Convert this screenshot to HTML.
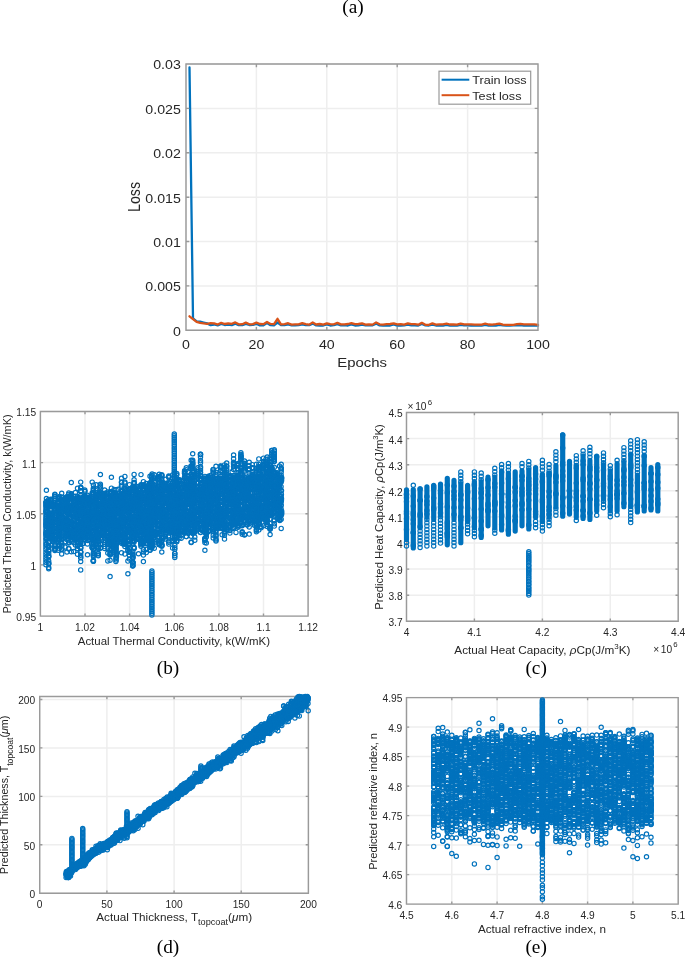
<!DOCTYPE html>
<html><head><meta charset="utf-8"><title>figure</title><style>
html,body{margin:0;padding:0;background:#fff;width:685px;height:958px;overflow:hidden}
svg{display:block;filter:blur(0.4px)}
text{font-family:"Liberation Sans",sans-serif;fill:#262626}
.cap{font-family:"Liberation Serif",serif;fill:#000}
</style></head><body>
<svg width="685" height="958" viewBox="0 0 685 958">
<defs>
<marker id="m" markerUnits="userSpaceOnUse" markerWidth="8" markerHeight="8" refX="4" refY="4" overflow="visible"><circle cx="4" cy="4" r="2.15" fill="none" stroke="#0072bd" stroke-width="1.15"/></marker>
</defs>

<text class="cap" transform="translate(353 13.2)" text-anchor="middle" font-size="19.3">(a)</text>
<path d="M186 64V330.3M256.4 64V330.3M326.8 64V330.3M397.2 64V330.3M467.6 64V330.3M538 64V330.3M186 330.3H538M186 285.9H538M186 241.5H538M186 197.2H538M186 152.8H538M186 108.4H538M186 64H538" stroke="#eeeeee" stroke-width="1.5" fill="none"/>
<path d="M189.5 67.4 193 318.4 196.6 321.4 200.1 321.6 203.6 322.5 207.1 323.4 210.6 325.1 214.2 324.5 217.7 325.3 221.2 324 224.7 325 228.2 324.6 231.8 325.2 235.3 323.6 238.8 325.2 242.3 325.1 245.8 323.8 249.4 325 252.9 324.9 256.4 323.8 259.9 325.4 263.4 325.4 267 323.1 270.5 325.2 274 325.4 277.5 322.5 281 325.2 284.6 325.1 288.1 324.4 291.6 325.3 295.1 325.3 298.6 325.1 302.2 324.4 305.7 325.1 309.2 325.1 312.7 323.6 316.2 325.4 319.8 325.5 323.3 325.5 326.8 324.5 330.3 325.5 333.8 325.2 337.4 324.1 340.9 325.3 344.4 325.2 347.9 325.5 351.4 324.4 355 325.5 358.5 325.3 362 324.6 365.5 325.4 369 325.4 372.6 325.3 376.1 323.6 379.6 325.4 383.1 325.6 386.6 325.6 390.2 325.5 393.7 324.5 397.2 325.6 400.7 325.5 404.2 325.4 407.8 324.6 411.3 325.4 414.8 325.3 418.3 325.5 421.8 324 425.4 325.4 428.9 325.5 432.4 324.6 435.9 325.5 439.4 325.6 443 325.7 446.5 324.8 450 325.7 453.5 325.6 457 325.6 460.6 324.8 464.1 325.4 467.6 325.3 471.1 325.7 474.6 325.3 478.2 325.5 481.7 325.6 485.2 324.9 488.7 325.6 492.2 325.4 495.8 325.5 499.3 324.8 502.8 325.4 506.3 325.7 509.8 325.6 513.4 325.3 516.9 325.3 520.4 325 523.9 325.6 527.4 325.6 531 325.7 534.5 325.5 538 325.6" fill="none" stroke="#0072bd" stroke-width="2.3" stroke-linejoin="round" stroke-linecap="round"/>
<path d="M189.5 316.3 193 319.2 196.6 321.9 200.1 322.9 203.6 323.4 207.1 323.8 210.6 323.1 214.2 323.3 217.7 324.5 221.2 322.8 224.7 324 228.2 323.4 231.8 323.8 235.3 322.4 238.8 324.3 242.3 324.2 245.8 322.6 249.4 324.3 252.9 324.1 256.4 322.6 259.9 324 263.4 324.2 267 321.9 270.5 323.9 274 324.2 277.5 318.8 281 324.3 284.6 324.1 288.1 323.2 291.6 324.6 295.1 324.3 298.6 324.4 302.2 323.2 305.7 324.2 309.2 324.6 312.7 322.4 316.2 324.5 319.8 324 323.3 324.6 326.8 323.3 330.3 324.1 333.8 324.3 337.4 322.9 340.9 324.4 344.4 324.3 347.9 324 351.4 323.2 355 324.2 358.5 324 362 323.4 365.5 324.7 369 324.3 372.6 324.6 376.1 322.4 379.6 324.3 383.1 324.6 386.6 324.1 390.2 324 393.7 323.3 397.2 324.3 400.7 324.1 404.2 324.6 407.8 323.4 411.3 324.2 414.8 324.2 418.3 324.7 421.8 322.8 425.4 324.8 428.9 324.8 432.4 323.4 435.9 324.6 439.4 324.4 443 324.4 446.5 323.6 450 324.5 453.5 324.3 457 324.6 460.6 323.6 464.1 324.4 467.6 324.3 471.1 324.3 474.6 324.7 478.2 324.6 481.7 324.6 485.2 323.7 488.7 324.5 492.2 324.6 495.8 324.2 499.3 323.6 502.8 324.7 506.3 324.8 509.8 324.8 513.4 324.9 516.9 324.2 520.4 323.8 523.9 324.4 527.4 324.3 531 324.4 534.5 324.3 538 324.9" fill="none" stroke="#d95319" stroke-width="2.3" stroke-linejoin="round" stroke-linecap="round"/>
<path d="M186 64H538V330.3H186ZM186 330.3v-3.3M186 64v3.3M256.4 330.3v-3.3M256.4 64v3.3M326.8 330.3v-3.3M326.8 64v3.3M397.2 330.3v-3.3M397.2 64v3.3M467.6 330.3v-3.3M467.6 64v3.3M538 330.3v-3.3M538 64v3.3M186 330.3h3.3M538 330.3h-3.3M186 285.9h3.3M538 285.9h-3.3M186 241.5h3.3M538 241.5h-3.3M186 197.2h3.3M538 197.2h-3.3M186 152.8h3.3M538 152.8h-3.3M186 108.4h3.3M538 108.4h-3.3M186 64h3.3M538 64h-3.3" stroke="#9a9a9a" stroke-width="1.4" fill="none"/>
<text transform="translate(186 348.9) scale(1.155 1)" text-anchor="middle" font-size="12.3">0</text>
<text transform="translate(256.4 348.9) scale(1.155 1)" text-anchor="middle" font-size="12.3">20</text>
<text transform="translate(326.8 348.9) scale(1.155 1)" text-anchor="middle" font-size="12.3">40</text>
<text transform="translate(397.2 348.9) scale(1.155 1)" text-anchor="middle" font-size="12.3">60</text>
<text transform="translate(467.6 348.9) scale(1.155 1)" text-anchor="middle" font-size="12.3">80</text>
<text transform="translate(538 348.9) scale(1.155 1)" text-anchor="middle" font-size="12.3">100</text>
<text transform="translate(180.8 335.7) scale(1.155 1)" text-anchor="end" font-size="12.3">0</text>
<text transform="translate(180.8 291.3) scale(1.155 1)" text-anchor="end" font-size="12.3">0.005</text>
<text transform="translate(180.8 246.9) scale(1.155 1)" text-anchor="end" font-size="12.3">0.01</text>
<text transform="translate(180.8 202.6) scale(1.155 1)" text-anchor="end" font-size="12.3">0.015</text>
<text transform="translate(180.8 158.2) scale(1.155 1)" text-anchor="end" font-size="12.3">0.02</text>
<text transform="translate(180.8 113.8) scale(1.155 1)" text-anchor="end" font-size="12.3">0.025</text>
<text transform="translate(180.8 69.4) scale(1.155 1)" text-anchor="end" font-size="12.3">0.03</text>
<text transform="translate(362.1 366.9) scale(1.130 1)" text-anchor="middle" font-size="13.2">Epochs</text>
<text transform="translate(139.7 197) scale(1.100 1) rotate(-90)" text-anchor="middle" font-size="14.2">Loss</text>
<rect x="439" y="71.2" width="91.7" height="33" fill="#fff" stroke="#9a9a9a" stroke-width="1.2"/>
<path d="M441.6 79.7H469.3" stroke="#0072bd" stroke-width="2"/>
<path d="M441.6 95.2H469.3" stroke="#d95319" stroke-width="2"/>
<text transform="translate(472.3 84.3) scale(1.110 1)" font-size="11.4">Train loss</text>
<text transform="translate(472.3 99.9) scale(1.110 1)" font-size="11.4">Test loss</text>
<path d="M40.4 411.5V616.1M85 411.5V616.1M129.6 411.5V616.1M174.3 411.5V616.1M218.9 411.5V616.1M263.5 411.5V616.1M308.1 411.5V616.1M40.4 616.1H308.1M40.4 564.9H308.1M40.4 513.8H308.1M40.4 462.6H308.1M40.4 411.5H308.1" stroke="#eeeeee" stroke-width="1.5" fill="none"/>
<path d="M40.4 411.5H308.1V616.1H40.4ZM40.4 616.1v-2.7M40.4 411.5v2.7M85 616.1v-2.7M85 411.5v2.7M129.6 616.1v-2.7M129.6 411.5v2.7M174.3 616.1v-2.7M174.3 411.5v2.7M218.9 616.1v-2.7M218.9 411.5v2.7M263.5 616.1v-2.7M263.5 411.5v2.7M308.1 616.1v-2.7M308.1 411.5v2.7M40.4 616.1h2.7M308.1 616.1h-2.7M40.4 564.9h2.7M308.1 564.9h-2.7M40.4 513.8h2.7M308.1 513.8h-2.7M40.4 462.6h2.7M308.1 462.6h-2.7M40.4 411.5h2.7M308.1 411.5h-2.7" stroke="#9a9a9a" stroke-width="1.4" fill="none"/>
<path d="M73.3 513.1 115.5 528.8 96.3 497.1 181.1 494.3 244.3 485 150 542.9 65.7 497.7 269.9 486.8 165.4 505.8 220.7 511.8 111.2 530 237.9 503.6 194.8 532.1 103.2 524.7 267.2 464.5 64.8 502.8 233.9 492.4 265.7 492.6 259.2 515 68.7 522.4 188.2 500.5 184.6 482.6 151.7 515.9 244 492.2 168.8 483 115.7 520.8 263.8 493.8 165.3 514.3 89.6 497.3 148.1 495.6 111.3 499.7 75.7 528.3 184.6 496 80.5 526.2 83.1 503.4 98.2 526.6 132.8 540.4 141 484.8 163.1 523.9 222.3 491.7 149.4 497.9 84.5 539.6 46.4 539.4 128.1 506.5 71.3 533.8 186.2 503.5 224.4 515.5 80.2 519.7 125 507.1 258.9 498.5 222.4 518 162 529.3 113.8 528.1 129 513.6 151.6 510.2 92.3 527.2 92.1 498.9 157.3 532.4 148.3 518.5 102.5 515.9 161.8 475.4 175 499 136 518.3 247.4 500.1 48.9 529.4 242.2 525.8 244.5 483.3 240.8 512.4 192.7 483.7 48.7 546.5 179.4 519.6 48.5 520 186.3 519.9 104.4 494.1 200.5 479 102.8 533.2 121.3 531.7 73.5 535.3 48.4 514.2 200.5 480.3 185 485.5 80.7 548.3 162.9 520.6 141.1 523.7 192.7 491.8 179.2 491.3 73.4 530.1 238 527.2 232.1 498.2 45.9 507.1 84.7 527.7 152 545 93.4 556.2 100.7 528.7 184.5 510.2 105.2 520.4 201.6 508.1 169 492.5 226.8 489.5 103 521.8 271.7 470.2 206.2 482 87.3 520.1 102.8 533.4 69.1 497.7 122.7 512.5 143.4 485 175 505.6 200.2 503.3 195.2 499.2 68.7 512.7 184.6 504.6 135.8 523.8 98.3 553.4 270 497.4 208.1 512.5 68.5 533.1 154.3 507.3 172.6 503.7 247.2 498.3 181.4 494.8 98.5 535.8 51.2 537.7 133 506.6 52.2 516.7 51.5 533.8 206.1 492.5 165.6 529.5 201.8 490.4 274.6 494.7 107.6 517 249.2 517.4 217.9 493.9 242.2 484.3 62 501.8 80.4 532.3 270.3 481.8 134.1 547.3 270.2 512.8 127.8 510.8 89.9 500.6 194.2 500.4 68.9 524.1 187.8 512.4 213.3 518.7 206.3 530.8 245 504.9 87.4 515.2 82.8 536.7 174.3 451.6 143.4 551.9 61.6 539.6 75.8 515.8 252.6 509.3 210.4 486.4 258.7 514 216.3 488.3 107.9 528.9 224.3 501.6 48.7 547.6 61.7 527 138.5 486.9 184.5 531.4 277.3 488.3 92.4 512.2 186.2 496.2 233.6 500.8 261.4 488.9 157.4 517.8 104.9 537 93.3 522.8 208.1 512.5 215.6 527.4 226.7 468.8 111.3 532.5 242.2 479.2 48.7 519 129.6 519.3 152 497.4 174.3 470.9 242.3 517.9 124.9 483 241.3 516.4 204.8 498.1 121.5 539.1 229.6 477.9 122.7 508.6 84.4 502.5 107.8 544.3 146.1 519.1 165.5 517.6 93.4 561.3 168.9 494.9 127.8 512.9 146.1 536.6 100.5 512.3 217.3 498.5 236.2 501.9 59.3 524.1 163.6 527 151.9 576.3 224.5 475.7 216.2 479.6 151.7 511.7 98.3 546.7 266.6 485.9 129.5 508.3 252.3 476.4 252.5 515.7 111.7 507.3 192.7 512.7 133.1 536.2 208.3 482.4 247.2 500.3 172.7 513.8 87.5 522.9 162 527.9 169.3 530.5 45.9 564.7 181.2 520.2 201.8 517.7 114.3 526.3 165.4 530.7 140.8 492.1 146.5 533.5 256.7 508.8 226.9 488.8 150.2 496.6 123.4 492.8 103 526.7 85 516.6 277 477.6 159.2 544.6 132.8 502.6 195.4 523.6 274.2 494.6 267.1 484.7 261.1 468.5 136.1 523.7 201.2 490.8 124.8 511 128 505.3 194.9 495.4 267.3 489.9 100.3 537.9 148.2 491.6 54.6 496.3 191.3 509.9 114.3 518.6 114.4 506.2 256.3 519.9 247.3 483.2 58.3 505.7 180.9 504.6 133.8 526.5 162 508.8 127.7 512.1 132.8 562.6 220.7 470.4 152 522.3 154.1 533 201.4 518.4 193.1 491.9 111 523.4 174.8 539.8 89.3 535.6 208 522.3 51.2 525.1 205 519.5 132.8 562.2 93.4 492.7 110.1 554.5 266.8 501.7 216.1 520.7 201.6 524.3 100.1 519.8 186.4 485.7 169.1 496.4 115.9 561.4 118.5 506 247.1 497.1 218.1 490.8 136 535.1 124.7 503.7 277.3 506.7 58.4 505.9 69.3 536 151.9 600.9 154.6 490.1 184.2 503 180.9 520.5 134.2 500.4 84.6 515.8 159.5 493.2 269.9 484 174.3 458.6 258.8 464.4 174.3 448.1 58.9 536.1 102.9 504.4 80.6 533.6 138.4 507.6 146.4 525.9 266 511.3 107.7 505.5 73.6 527.6 155.1 487.6 68.8 540.6 186.4 485.6 93.5 541.3 256.8 487.4 45.9 523.6 73.7 531 194.6 512.8 179 498.5 281.2 505 258.7 479.2 208.1 495.5 143.8 489.3 135.5 509.7 232.5 492.6 141.4 499.3 186.3 530.3 121.2 517.8 271.4 474 87.8 522.4 181 508.2 68.5 521.1 204.9 509.1 259 486 110.1 544.2 77 516.6 161.9 521 265.9 495.4 266 522.5 92.2 547.6 217.2 522 114.6 534.2 157.7 486 159.5 486.4 191.2 536.2 201.7 492.4 113.8 534 271.6 489.4 185 524.2 197.9 502.9 121.5 522.6 259.1 497.6 175 502.5 75.4 502.6 208.5 504.2 229.9 527.3 143.4 500.4 216.2 485.2 229.7 503.1 236.4 498.3 244.7 516.1 229.4 480.2 81.3 514.1 184.6 503.6 229.8 503.5 151.7 486.1 121.4 504.7 163 493.5 151.9 599.2 146.3 520.7 51.2 527.7 111 501.5 67.1 520.5 61.9 523.8 206.4 487 163.5 496 136 536.1 179 505.4 195 521.2 181.8 519.3 240.8 518 184.4 495 194.6 517.3 177.1 525.7 151.9 604.4 61.6 508 110.5 507.3 187.9 516.8 256.3 517.5 186.7 493 191 516.1 113.9 492.6 129.5 514.4 266 469.2 111.3 492.7 247.1 485 230 489 170.7 481.8 59.7 507.4 117.6 500.1 151.6 517.3 224.3 528.4 184.8 521 200.1 487.8 70.8 527.4 138.2 501 229.5 491.4 204.8 522.5 151.8 510.8 158 525.7 111.1 522.9 266.9 482.7 67.5 533.6 235.9 488 92.2 492.8 238.3 478.5 85.2 532 96.4 525.4 64.9 520.7 162 495.7 140.5 502.5 141 485.1 263.5 464.1 123.1 539.9 138.4 496.7 48.7 551.1 151.7 504.1 198 514.6 254 520.9 194.8 540.2 71.3 551.8 204.7 483.9 244.5 485.1 146.3 540.5 208.3 484.9 249.4 477.9 267.2 464.4 117.6 521 204.7 501.7 227.6 499.1 93.5 537.1 212.8 497 73.7 551.6 107.4 533.2 174.7 515.8 148 516.3 254.8 478.4 208.4 510.8 68.8 514.9 261.5 493.7 258.5 495.1 45.9 535.8 204.7 517.3 226.2 520 191 523 259.1 518.8 136 528.1 61 517 134 519.3 204.9 542.5 159.2 541.3 89.4 512.1 149.7 500.1 274.3 454 184.4 503.7 151.9 593.9 111.3 512 100.4 529.6 96.3 496.7 117.7 527.1 271.7 469.2 67.1 500.2 191.2 503.9 152.2 504.9 281.2 472 206 528.5 266.1 513.5 181.3 517.3 271.7 468.8 205.9 523.8 274.1 480.3 174.7 506.9 157.8 490.8 271.7 458.8 93.5 543.1 124.6 495.8 89.3 522.7 84.8 526.1 256.3 513.4 89.5 530.2 271.9 515.3 235.5 517.4 99.9 528.5 197.1 486.5 52.4 533.9 154 497.6 279.5 501.2 58.7 523.9 277.2 496.7 118.4 528.7 216.1 494.5 73.8 501.9 237.9 513.1 217.7 522.1 177.4 532.2 134.1 542.1 174.8 536.3 129.9 531.9 107.7 503 96.1 530.1 216.3 479.5 231.9 518.9 231.8 493.9 104.6 521.3 204.8 525.5 107.6 529.1 135.8 510 201.7 517.8 161.8 552 138.5 506 179 526.2 244.4 519.1 85 536.5 77.9 498.7 222.1 478.6 129.3 490 150.1 490.4 48.7 541.8 110.9 537.2 141.3 519.5 121.4 491 178.8 523 233.5 483.9 124.9 488.4 279.5 488 241.1 505.3 154.6 521.2 205.1 482 252.3 468.3 135.7 495.3 121.4 536.9 154.7 510.7 172.1 495.2 270.1 512.3 121.8 511.2 177.1 506.4 190.8 493.6 213.3 503.5 213.1 530 236 516.5 188 496.2 171 494.7 148 524.9 208.5 520 279.6 519.3 52.4 520.6 172.4 530.8 271.7 473.4 73.9 519.2 165.4 503.6 80.7 490.9 141.1 524.2 181.3 515.4 230.1 508.1 73.5 507.3 181.1 511.6 116.4 557.2 204.8 502.8 270.4 493.3 210.2 502 163.3 515 152.3 517.8 55.3 498.6 174.8 473.2 230.4 525 159.2 495.6 84.9 515 200.6 515.6 281.1 490.2 186.2 510.9 118.1 531.4 252.4 496.4 59.2 505.1 150.2 529.1 152.1 488.8 134.1 540.8 244.5 461 192.8 531 148.2 535.3 68.9 522.1 229.5 514.7 194.6 506.9 114 529.2 154.5 500.3 59.5 513.7 165.6 500 150.1 510.2 116.1 495.1 261.1 526.5 233.6 515.6 154.4 534.1 220.8 495 132.4 532.5 84.5 498.7 77.2 516.1 61.6 517.2 248.8 496.7 157.9 515.2 151.9 590.4 229.9 510.8 237.7 484.4 77.8 508.3 114 540.6 154.5 508.5 260.9 493.9 224.5 533.2 46.4 544.2 132.9 490.8 252.4 493.5 127.9 561.1 107.8 494.1 80.7 532.6 181 524.9 52.1 535.8 184.4 520.7 163.2 509.6 154.2 501 132.8 551.9 256.8 520.6 58.2 501.4 270.2 503.4 255 517.2 261.2 486.7 48.3 532.4 256.4 513.6 116.3 509 168.7 527.7 158 493.4 132.4 506.2 80.7 532.5 116.6 512.3 71.7 536.9 66.5 512 59.8 515.6 242.1 484.7 235.8 524.8 52.6 504.6 258.8 469.8 54.6 503.1 260.7 499 205 522.8 216 535.2 191.3 520.8 107.6 509.6 151.9 523.6 124.9 500.5 215.9 480.8 146.3 514.8 261.1 466.8 174.3 476.2 244.1 481.3 52.4 505.4 230.2 491 267.1 503.5 110.4 492.8 170.9 525.8 256.9 515.8 236.3 486 148.5 497.4 98.3 555.7 143.5 526.6 68.8 542.9 274.6 486.6 73.8 536.2 145.7 519.7 261.2 508.8 261 477.8 242.2 534.3 274.5 503.8 233.5 511.3 181.2 503.7 168.9 496.9 204.9 538.3 116.5 536.2 206.3 532.4 174.7 517 138.6 518.3 277.4 486 93.4 553.7 170.7 497.1 231.6 521.7 77.2 521.6 154.3 491.6 100.3 503.4 213.5 504.3 263.5 464.4 274.7 501.8 210.6 524.4 69 496.5 45.9 544.5 74.9 516.2 181.4 516.6 247.6 503.8 54.9 494.2 224.2 520.5 82.5 515.8 274.2 503.5 192.7 470.1 152 495.1 176.8 512.6 121.3 534.3 256.4 527 50.9 533.3 149.6 533.8 108.1 524.7 59.2 535.3 150.6 522.7 59.3 544.7 266.1 520.2 114.2 493.6 271.7 453.2 157.8 520.7 224.5 477.7 235.7 494.5 218 519.2 240.9 459.5 92.2 482.1 75 535.4 134.3 523.7 240.7 482.8 192.9 503.3 58.6 509.9 77.5 532.7 152.3 511.8 124.9 489.4 241.1 487.6 114.1 489.4 151.9 609.7 206.3 534.5 151.9 543.5 98.4 541.5 134.1 537.8 146.3 508.3 150.5 495.8 173 494.1 121.6 513.4 254.1 502.8 233.6 518.1 149.9 494.2 244.3 515.8 107.8 553.1 110.5 521.8 279.1 500.1 265.6 487.9 213 497.4 165.4 479.2 115.4 509.8 148.4 512.3 134.5 511.2 159.7 515.8 114.2 535.8 67.1 536.6 267.2 526.6 230 477.1 201.1 519.8 80.7 495.2 168.8 508 185.9 502.1 247.2 503.5 132.4 494.1 264 491 115.9 527.8 123 494.5 70.9 528.8 252.5 511.1 151.9 597.4 274.8 488.4 104.7 529 232.1 499.4 227 518.2 221 484.3 148.3 507.5 241.1 500.2 149.9 496.5 261.1 512.3 232.1 503.6 224.4 491 208.7 497.3 205.8 489 89.6 500.1 208.2 498.9 102.8 524.1 252.5 485.6 251.9 504 122 494 115.9 528.9 121.3 498.5 61.4 523.3 114.1 492.6 174.8 547.7 281.5 514.8 100.6 492.2 151.9 574.5 116 547.4 161.8 537.6 267.2 468.5 220.4 523.4 175.2 528.9 220.7 476.4 244.3 509.1 48.8 505.5 148.4 523.1 266.9 505.4 220.6 487.2 143.3 492.6 58.3 498.6 71.6 496.6 54.7 534.4 233.1 522.1 267.1 498.6 176.4 485.7 80.3 526.5 165.6 494.4 208.4 480.9 120.7 503.2 249.2 468.8 59.4 522.5 73.7 504.6 51 523.6 114.3 522.8 96.5 533 274.3 473.7 242.1 497.3 204.9 507.2 114.1 517.8 229.9 511.5 213.7 487.8 165.5 487 123 510.5 244.3 507.6 194.8 510.2 226.6 479.7 121.7 530.2 104.4 511.6 175 530.2 84.8 491.1 170.7 500.9 68.7 498.9 121.5 552.8 232.2 476.9 236.2 483.6 256.4 491.1 113.8 532 229.7 492.6 179.1 534.2 45.9 525.8 277.1 501.1 170.8 516.5 128.2 536.7 201.7 530.2 87.5 527.2 111.1 492.9 184.6 507.9 154.6 509.3 98.6 534.6 85.3 536.1 186.7 514.7 113.8 546 192.7 463.4 256.2 511.6 133.7 500.9 146.3 535.2 194.8 512 73.5 515.9 244.5 465.5 208.4 517.8 266.8 487.7 270.4 514 141 499.3 188.2 504.2 114.1 542.7 54.5 519 134 502.3 48.7 542 233.4 499.5 201.8 499.9 263.3 489.4 163.2 496.9 68.8 548.9 125.3 539.1 170.7 487.5 152.2 505.1 121.4 537.7 87.8 537.7 104.6 510.9 111.4 509.6 104.5 495.9 157.8 500 82.4 525.9 224.4 484.9 80.8 534.9 172.8 516.3 150.3 501.6 163.8 501.7 168.8 535.8 270.1 470.6 93.4 555.3 129.5 555.2 226.7 475.9 208.4 500.5 281.1 477.3 48.8 505 143.8 526.5 146.4 530.3 102.6 499.7 92.3 510 184.8 499 244.4 486.5 93.4 546.3 162 504.4 58.3 542.1 46.4 498.5 233.8 498.3 192.8 520.6 151.4 496.9 165.4 493 210.7 511.3 143.6 528.3 105 505 188.1 476.8 271.9 480.2 80.6 524.1 87.3 536.7 279.4 507.7 197.9 519.4 186.3 467.7 146.4 498.8 104.7 542.3 247 489.2 241.9 512.1 162 494.9 226.4 529.5 249.2 527 136.3 495.6 146.4 532.5 226.4 479.7 186.6 525.8 215.8 493.7 122.9 534 186.8 487.9 114.1 541.9 113.9 518.8 238 526.8 270.1 459.1 138.5 539.5 143.5 506.7 121.3 503.8 224.5 494.8 274.2 506.3 192.7 464.6 140.9 492.4 279.5 481.7 134.5 532.8 138.7 521.2 116 509.8 93.4 550 132.6 520 143.4 503.1 118 531.1 230.2 497.9 213.3 490.7 58.3 502.8 116.3 528.7 107.4 531.1 163.3 513.7 179.4 501.4 100.4 487.1 165.8 501 121.5 507.8 95.8 513.2 138.3 498.5 235.8 504.3 222.3 509.4 75.4 508.4 179.1 483.8 121.2 508.9 233.9 483.6 252.5 505 213.2 469.4 132.8 488.6 84.2 514 242 483.7 277.1 509.3 240.5 478.1 222.3 489 235.8 495.2 114.2 523.9 174.3 453.3 238 463.5 200.5 505.2 218.3 513 121.5 525.9 244.7 489.2 50.9 536.7 61.7 518.1 61.9 519.8 170.9 498.1 121.5 500 162.2 497.8 89.4 536 213.2 473.7 237.7 477.8 148.4 515.8 218 489.1 236 478.7 184.9 505.5 183.9 513 66.7 530.7 274.3 467.2 191.2 466.3 210.5 489.6 132.8 499 73.7 508.8 223.9 508 66.6 526.9 150 476.3 236 477.8 204.6 483.9 151.8 483.5 241.5 492 157.8 507.9 186.9 500.2 244.7 490.4 281 501.3 204.9 539.7 186.4 487 92.2 542.8 52.5 531.7 223.9 512.8 168.9 520.5 224.6 498.1 143.6 515.2 197.9 508.8 152.3 513.3 227.1 517 48.4 518.9 148.2 490 274.1 481.4 110.1 552.3 77.6 509.2 242.3 515.6 118.1 497 267.2 474.2 107.9 537.4 192.6 519.2 132.5 534.5 100.2 506.9 67 535.4 114.4 503.3 146.3 534.7 105 535.8 210.6 515.9 45.9 510.4 204.7 515.9 58.5 522.8 226.4 488.9 87.6 528.9 187.8 492.3 159.2 476.4 177 500.8 65.1 527.8 224.6 522 134.2 510.8 259 480.6 59.3 540.5 82.8 527.1 150.5 499 206.3 513.4 247.7 523.3 62.1 522.4 146.2 514.9 96.7 514 279.5 485.6 134 537.8 186.3 510.4 65.2 499.2 206.3 490.3 102.8 524.3 151.9 602.7 195 490.7 192.7 475.2 217.8 492.9 249.4 482.1 149.7 503.4 132.8 503.6 281.1 486.6 235.8 503.8 201.6 530 188.2 484.7 172.7 505.3 100.4 503.9 52.8 525.4 218 506.3 48.7 499.5 134 508.5 48.7 550.7 46.7 501.1 161.6 539.9 244.5 466.7 61.7 549 132.6 525.5 174.8 549.3 51.4 514.9 233.6 469.4 168.9 504.5 216.2 500 148.1 530.9 232.1 498.3 110 498.7 172.4 520.4 138.4 493 96.1 490.6 242 511.4 263.9 496.5 141 485.6 161.9 513.4 141 486.7 98.3 521 232.2 493.8 216.2 497.8 96.4 517.7 184.4 513.6 92 515.2 121.7 514.3 150.3 501.4 127.9 549.6 59 516.2 104.7 495.4 175.1 519.9 151.2 513.9 229.7 499.3 191.2 542.6 88.7 497.5 217.9 484.5 261.1 517.9 192.7 476.2 73.7 542.8 175.1 526.5 213.5 517.5 184.7 503.8 48.7 546.3 274.3 456.2 177 492.6 237.7 521 201.2 517.8 233.8 479.1 258.8 513.9 197.8 476.1 208.5 518.6 82.4 537.7 157.9 529.3 226.7 484.3 221.8 521.1 233.7 511.5 266 477.5 132.8 555.6 191.2 479.7 200.2 516.6 103 535.6 194.9 498.4 191 517.1 197.5 523.1 267.2 499.7 87.7 508.1 184.6 473.1 176.4 516.7 84.9 527.8 186.3 479.9 123.1 542.5 181.2 511.4 51 522.1 233.6 487.2 148 494 58.6 506.9 197.9 510.6 70.6 536.3 242.2 486.8 230.4 494 125.1 503.6 161.9 525.3 77.5 548.7 170.7 525.6 168.6 524.7 121.5 541.7 132.8 526.8 174.3 465.7 242.2 477.6 179.4 516.2 192.7 533.6 96.1 519.7 232.5 509.9 100.1 494.2 59.2 535 254.1 486 188.4 497.6 98.2 516.9 100.4 543.8 84.6 508.5 59.9 507.6 141.2 504.9 98 531.7 181.7 506.6 75.4 492.5 233.9 515 149.9 493.2 274.3 453.1 279.3 485.7 143.4 509.1 68.7 531.1 107.8 560.9 192.5 487.7 170.3 489.9 100.6 500 103.4 535.6 154.3 535.3 269.9 484.2 172.5 488.7 210.4 511.6 222.3 518.4 104.8 513.6 152.1 507.7 132.6 519.9 161.8 544 149.8 518 48.6 501 124.9 541.6 146.3 491.1 231.9 494.8 247 499.4 252.3 476.7 68.7 536 277.2 490.3 51.2 515.4 152.2 492.1 206.6 482.6 222 489.6 206 517.1 279.6 507.3 233.3 514.2 193 484.3 179.1 535.4 194.9 518.7 186.2 514.5 210.7 502.5 98.3 502.6 226.7 466.1 51.3 509.8 48.2 505.6 204.9 531.8 59.2 497.3 191.2 528.8 229.9 475.6 192.5 495 265.9 497 258.4 503.6 51 521.8 141 541 270.1 473.2 146.3 531.1 116.2 508.4 222.1 516.7 143.6 530.5 222.2 501 177.1 530.2 114.1 554.1 96.1 492.7 249 481.5 184.6 478.8 129.6 516.4 271.7 468.1 110 539.9 84.8 491.5 99.9 491.9 98.3 544 45.9 562.3 98.4 525.8 215.8 489.7 151.9 592.1 157.6 521.4 240.9 501.1 77.7 523.9 149.9 525.1 121.3 491.2 127.9 529.4 152.3 535.9 114.1 550.8 258.7 512.4 204.4 498.5 233.5 492 163.4 531.2 100 494.6 233 481.7 224.7 484.3 206.5 493.8 159.3 525.8 263.8 512.7 96 498 266.9 500.1 179 508.8 132.8 532.7 124.8 494.3 233.1 523.4 266 476.2 68.8 494.2 197.7 525.9 191.2 503.6 208.1 478.5 102.7 511.2 113.6 521.1 233.6 512.6 201.2 504.2 92.3 515.4 168.5 525.8 129.2 513.1 244.3 479.6 128.2 523.4 149.6 496.2 138.8 512.2 256.2 516.4 213 494.1 191.1 504.4 125.3 497.5 100.5 519.7 168.5 489.9 190.8 495.8 123.2 504.1 59.5 511.6 113.8 540 102.7 514.6 188.2 496 157.4 491.3 233.3 493.5 138.4 517.5 220.7 509.3 242.1 510 206.5 502.1 224.4 499.5 249.5 505.3 52.6 515.5 244.3 482.7 157.7 534 84.7 534.3 220.6 512.6 161.8 488.7 188.4 501.7 55 510.7 107.8 544.2 258.8 474.1 244.1 511.3 200.5 532.5 104.7 510.1 161.9 529.8 263.5 465.3 170.5 526.7 75.2 503.8 201.8 508.2 48.7 555.8 188.1 471.7 256.8 507.1 174.8 533.6 55.1 508.7 165.5 483.6 270.6 481.5 205 497.2 247.7 488 87.8 540.4 221 494.5 121.2 494.5 200.5 460.7 48.4 519.4 266.2 481.3 281.6 480.4 281 502 45.9 539 107.4 527.6 150 542.5 151.8 537.2 259.1 501.4 224.5 532 224.5 469.6 98.2 514.2 73.7 519.1 213.1 527 80.7 533.1 236.3 482.7 159.2 513.7 142.9 521.8 129.7 529.3 161.8 482.3 89 507.1 117.8 497.1 78.1 498.8 132.6 536.7 143.6 521.8 174.4 525.5 200.5 529.3 132.6 502.1 45.9 554.7 141 474.6 154.3 477.9 105 509.2 215.9 518.6 172.6 496.7 116.2 522.3 66.2 526.3 267 519.8 188.2 518.7 92.2 546.7 222.1 528.5 127.7 509.8 194.8 526.4 80.8 522.1 68.5 521.9 217.9 526.5 59.2 500.1 277.3 488.7 193.1 493.3 59.7 513.5 103 502.9 73.7 522.9 111.5 537.3 157.7 525.5 89.5 500.5 267.2 464.8 266 469.6 124.9 492 210.5 475.4 151.6 487.6 201.8 493.3 73.2 524.4 168.8 476.6 151.9 579.8 252.6 498.5 188.1 532.2 270 508.6 116.3 496.9 258.4 511.1 129.9 509.6 82.5 529.7 274.4 491.7 151.8 542.6 54.7 526.2 205 514.4 204.7 518 198.1 515.2 280.7 496.6 107.5 524.6 267.2 511 138.2 511.3 218 522.7 129.7 529.6 74.1 529.4 220.4 487.4 240.9 471.8 265.6 491.7 259.2 505.4 174.6 528.3 165.6 499 274.6 500.5 121.5 519.9 121.2 530.5 242.3 495.1 233.4 521.7 222.3 524.8 114 529.2 68.9 529.4 65.1 541.7 111.6 493.1 174.9 518.5 252.5 477.9 57.9 517.7 115.5 534.8 92.3 515.1 162 529.5 75.5 513.5 134.1 482.7 54.8 531.4 148 529.3 75.4 514.3 116.2 498.9 210.3 480 80.7 527.9 205.4 483.3 281.5 490.6 143.6 526.2 46.4 536.1 191.2 494.8 121.3 521.5 111.4 519.4 128.6 504.6 158.9 502.2 244.1 515.8 93.2 538.3 100.4 474.5 252.3 475.1 64.8 532.3 151.9 583.3 232.1 525.1 163 502 266 489.2 143.3 531.2 148.6 495.3 244.9 494.8 51.1 545 125.2 529.4 192.9 514.4 52.2 514.6 80.6 497.3 149.7 531.4 244.6 477.3 197.7 482.3 191.2 478.4 256.4 486.8 89.6 529.5 256.7 497.7 274.3 472.4 266 497.7 222.2 513.9 194.8 528.7 110.3 495.3 146.3 537.9 236 532.4 271.7 450.5 151.6 508.7 267.1 483.5 143.4 534.2 162.1 490.5 154.2 505.4 51.1 518 224.4 484.5 206.5 507.3 143.4 486.2 192.8 524.8 192.5 493.5 146.2 496.2 93.4 507.8 174.6 526.5 176.7 490 208.4 526.5 163.2 537.9 266.9 479.9 52.7 532.2 216.2 487.3 218.2 507.4 125 530.4 48.8 537.1 179.1 480.1 185 495.5 185.7 500.8 48.7 563.8 98.1 522.4 192.7 491.7 136.3 501.9 157.9 517.1 233.6 492.7 133.6 488.7 87.5 554.8 271.6 496.2 152.2 542 124.7 490.3 208.2 523.5 191.3 495.4 274.3 454.4 172.4 520.4 266.5 483.4 84.8 529.7 174.3 460.4 258.8 466.5 123.3 534.3 242.5 500.5 136.3 520.9 181.3 502.3 254.3 481.2 116 502.7 93.5 501.8 158.9 502 77.5 546.2 220.7 513.6 146.1 522.6 263.5 465.2 233.5 516.3 274.3 486.5 174.3 485 254.4 488.1 77.9 509.8 159.8 491.7 100.7 494.9 141.4 501.5 151.8 544.3 87.5 500.3 176.8 540.5 51.2 516.4 281.1 508.7 258.7 488.9 194.8 476.7 252.3 467.9 186.3 536.5 75.6 524.1 146.1 524.1 52.3 522.2 222.7 510.1 146.3 486.5 87.6 497.2 128.1 522.4 98.4 523.5 162.1 502.5 204.9 476.4 143.4 481.6 89.7 500.8 224.6 500.8 54.9 549.6 266.1 481.6 140.8 524.9 46.2 502.1 45.9 502.6 48.7 530.6 129.5 548.5 249.4 508.6 165.1 521.1 224.3 481 114.6 511 117.7 508.8 55.1 506.8 281 481.8 195.1 489.4 172.6 541.7 184.3 494.8 281.2 464.3 165.5 483.9 193.4 531.8 274.3 457.7 192.7 509.7 168.8 528.5 244.3 521.6 83.5 517.4 238 470.1 208.1 482 263.6 510.2 62.2 525.9 267.1 503.4 162.7 488.5 128 534.1 266.6 520.9 152.2 507.2 102.8 522.2 123.1 504.8 141 494.1 58.3 507.4 222.1 479.3 197.8 471.9 150 528.6 226.4 525.2 192.8 516.7 266 491.5 281.8 477.9 174.9 521.6 110.2 517.9 249.2 465.7 163.1 529.9 138.4 507.7 277 493.2 249.5 517.5 240.9 457.6 249.1 510.1 96.1 484.7 220.7 466.3 165.4 496.4 254.6 485.9 96.1 536.8 82.8 523.9 220.7 502.5 123 515.4 194.3 531 220.7 468.1 254.6 514.3 244.5 467 133.8 494.3 271.7 467.4 111.4 488.1 149.7 505 138.5 510.1 96.4 518.6 198.2 491.4 174.8 539.3 206.4 524.5 241 516.3 152.2 493.6 125 515.3 249.2 516.8 165.5 521.1 67 512.8 172.3 523.6 279.7 481.7 218.4 526.9 80.7 569.9 270.1 475.3 132.8 565.7 82.8 543.5 84.9 514.9 279.7 504 114.3 539.5 279.2 498.3 276.8 496.3 204.9 550.2 152.1 513.9 188.3 523.3 128.1 531.5 190.9 487.8 117.9 529.7 83 525.8 194.8 478 68.7 504.9 110.7 499.8 274.4 511.5 150.2 515.3 159.6 504.2 224.7 525.3 113.8 548 213.2 512.2 102.8 496.1 277.4 490.1 104.7 504.7 127.8 539.8 226.2 491 149.9 521.9 118.1 531.3 176.8 481.1 187.9 525.4 96.4 538.6 84.9 521 270.1 457.1 200.5 478.3 172.5 512.7 124.9 554.1 141.1 511.2 58.4 539.8 134 516.8 58.9 538.4 89.1 499.2 111.1 519.3 224.5 467.3 201.2 514.9 151.9 496.7 65.1 510.5 45.9 515.8 170.8 494.9 279.8 519.4 48.7 567.4 270.3 514.1 85.1 496.3 125.1 513.3 277.1 518.4 277 480.5 232 485.8 71.5 523.9 226.3 486.3 136.2 503.4 114.3 493.3 200.5 456.9 61.7 547 110.2 506.9 127.7 509.5 210.2 485.4 95.9 499.9 116.1 544.9 201.5 510.5 237.7 489 114.1 551.1 100.4 547.7 204.6 516.7 242.2 500.9 172.6 540.5 157.5 520.6 184.8 521 174.6 493.4 229.6 499 256.4 524.8 148.7 495.9 238 464.2 118.2 506.4 109.8 514.1 200.3 484.7 213.2 470.9 89.6 517.4 159.2 543.4 217.8 510.4 181.1 490.4 274.8 505.7 104.7 548.4 235.8 522.3 52.4 506.6 48.7 556.3 281.2 478.3 80.7 487.3 247 480 244.6 493.4 186.3 536.6 116.3 528 186.1 495.5 159.2 482.1 148.5 492.8 201.5 514.3 216 508.4 125.1 512.9 114.2 509.5 168.8 541 206.3 498.9 93.5 496.6 204.7 502 51 508.9 274.2 488.3 80.8 525.1 146.3 483.4 274.5 512.8 84.9 520 82.6 514.3 204.6 519.8 148.6 531.1 129.5 506.6 157.6 516.4 143.5 487.9 129.7 532.5 107.8 544.3 277.1 494.2 202 503.1 54.7 530.9 138.2 517.1 213.2 517.3 59.3 502.5 191.5 506.5 116.2 535.2 48.9 520.3 236.1 510.2 233.8 480.8 100.4 514.3 170.8 499.7 279.5 487.6 197.8 473.7 177.2 488.1 172.7 488.5 208.5 506.4 252.2 480.5 138.3 502.5 168.8 542.3 154.5 514 84.4 504.3 193 517.2 220.9 479.6 230.3 525.9 84.9 533 217.5 519.1 66.6 500 87.3 519 254.2 520.5 154.2 525.7 186.5 502.8 89.2 536.9 121.3 519.7 139 525.9 80.7 561.5 191.6 514.2 92.2 503.5 256.4 479 48.7 568.7 224.6 479.5 114.1 552.4 267.2 463.6 206.3 483.4 172.2 489.8 226.4 495 186.1 523.7 149.9 507.2 276.9 497.6 266.7 508.2 138.2 509.4 263.9 480.6 191.5 492.3 51.3 500.3 129.5 541.3 240.7 479.6 230.2 511.9 92.3 536.6 248.6 493.9 141 543.2 114.4 504.9 124.7 519.3 158.6 519.3 152.4 502.7 84.9 539.3 165.6 493.7 73.9 523.5 226.7 491.4 100.6 511.8 216 485.8 163 513.4 186.8 511.4 174.9 509.5 200 525.3 216 541.1 93.5 533.9 151.8 484.8 172.4 528.9 174.3 462.1 129 512.3 229.9 491.8 87.5 535 247.2 497.5 48.7 523.3 123.2 498.4 188.2 523.8 192.7 461.7 249.6 513.6 162.4 489.1 215.8 510.7 249.2 489.1 82.8 519.9 151.9 520.8 256.3 520.3 254.7 515.9 218 528.4 247.3 498.8 233.6 466.2 150 486.4 233.1 485.8 89.4 530.7 240.9 456.6 80.7 490.9 124.9 522.8 222.4 517.9 71.4 514.4 200.3 487.3 158.9 492.7 66.4 534.3 210.8 480 263.1 480.1 175 500.8 252.2 513.2 270.2 514 110.1 543.7 75.3 523.5 161.8 545.5 108 514.6 154.3 543 172.7 516.6 267.2 457 138.7 490.3 111.2 540.7 104.8 504 208.3 509.6 252.1 515.1 104.6 504 192.8 506.1 104.6 523.8 224.5 528.7 213.2 538 129.5 492.1 240.9 465 262.9 510.2 172.9 531.5 98.8 504.5 128.1 496.1 152.2 484.6 111.4 542.2 84.5 523.3 161.9 494.2 213.2 484.2 187.8 493.9 194.7 519.6 233.8 478 258.8 487.6 141 539.6 154.3 485.6 98.5 533.2 280.9 499.3 148.8 498.2 141.2 513.6 256.2 503.9 200.6 480.1 201.1 493.2 141.1 531.8 226.4 502.5 132.8 557 181.4 514.4 65.4 536.1 61.7 542.6 107.7 496.1 134.6 530.1 134.1 479.8 107.7 517.8 179.1 538 179.2 490.2 59.4 536.2 194.7 510.1 61.9 526.3 194.9 506.4 127.8 494.2 113.9 539 89.3 529.1 100.7 509.6 61.3 508 200.6 523.4 191.1 523.6 233.6 463.8 200.6 491.7 176.8 517.5 84.8 490 213.7 497.9 48.9 503.9 254.2 496.6 270.2 492.6 244.5 478.7 192.4 522.6 249.1 508.1 146 496 263.6 487.9 89.3 503 246.8 499.3 77.5 496.8 143.7 520.3 128.5 492 174.3 478 276.9 483.9 82.4 525.1 51.2 504.6 116.1 494.3 238.1 496.2 216 472.2 265.8 500.3 54.8 500.4 176.6 517.9 222.2 519.2 87.5 531.9 194.8 523.8 192.8 491.3 197.6 512.2 151.9 611.5 224.6 516.2 230.4 484.9 176.7 514.3 247.2 524.7 59.6 525.1 76.7 504.6 200.5 454.2 61.8 525.1 256.4 471.1 279.1 491.6 210.8 513.2 159.2 483.9 132.9 534.3 204.5 487.3 194.5 514.9 192.8 500.1 159.1 485.9 159.1 489.9 184.5 505.6 151.9 586.8 176.6 486.6 210.4 484.5 141.1 524.9 154.3 484.8 151.5 497.2 84.5 531.2 73.5 506 136.6 528.7 98.1 523.1 138.1 530.8 247.1 514.7 48.9 516.4 148.2 521 277 497.4 194.9 514 51.4 533.8 168.8 477.6 96.5 497.1 52.5 523.2 107.8 519.7 242.1 511.9 170.9 530.8 266.2 502.8 134.2 529.4 98.2 500.7 157.8 489.5 73.9 534.6 48.7 553.6 174.8 536.8 122.6 524.7 281.5 498.8 188.4 516 267.6 498 198.1 482.5 102.9 524.6 151.9 571 265.7 516.4 179.3 496.7 154.7 532 178.8 530.8 92.9 523 125.3 511.1 127.4 508.9 279.2 517.8 265.6 505.9 66.8 519.6 138.6 520.8 75.4 496.2 174.8 502.1 233.9 518.5 249.1 514.4 132.4 525.8 104.7 507.9 122.7 491 231.6 491.1 184.9 530 136 490 96 506.5 102.9 493.6 138.5 525.9 71.3 524.5 114.4 527.7 143.7 528.1 281.4 500.5 274.2 486.2 270.1 476.3 256.4 523.3 99.9 533.7 80.7 490.8 213.1 517.2 117.9 522.2 87.6 533.1 241.1 482.5 220.5 513.3 118.1 489.2 118.1 522.6 80.4 513.9 168.7 505.9 105.5 540.7 226.7 512.5 229.8 489.2 249.2 468.9 184.6 472.7 174.7 534 150.5 500.2 52.8 530.8 98.2 523.9 65.1 527 77.6 517.3 249.5 478.5 157.8 509.4 80.7 543.3 52.5 541 274.3 454.3 176.8 541.8 46.4 523.7 93.4 490.2 216.1 488.3 92.2 532.9 263.5 461.5 136.1 524.7 249.1 496.6 133 507.2 116.2 499.4 154 514.1 113.8 544 227 500.3 112 502.9 274.3 519.9 170.6 501.9 99.9 513.9 61.7 549.4 113.7 520.2 111.3 512 244.6 506.8 188.2 518.1 262.9 487.2 232.1 496.4 165.6 496.5 129.9 507.6 59.7 496.4 181.7 483.6 224.5 531.3 58.7 531.3 217.9 499.7 263.5 518.8 168.9 525.9 220.6 519.5 61.4 510.7 59.4 531.4 129.8 489.8 258.8 524 216.3 516.2 159.2 501.5 246.8 509.8 252.3 483.9 98.3 555.1 140.6 513.4 235.7 492.9 191.5 506.7 172.7 531.9 233.7 504.9 154.5 527.3 191.2 476 266 468.2 175.2 512.3 89.8 539.3 224.5 469.6 194.8 532.2 215.7 479.5 229.9 533.1 163.3 509.2 65.7 514.5 52.1 517.9 143.5 499.6 172.7 486 222.1 486.6 194.6 519.6 256.3 486.4 242.2 518.6 51.1 519.3 210.5 488.9 175 510.3 107.5 522.3 263.5 519 110.1 549.5 191.2 468.9 208.4 530.4 220.2 485.7 98.2 538.8 84.3 496.2 217.9 484.2 59.6 506.6 168.7 491.6 225.1 496 93.3 508.9 188.1 511.2 270.1 474.9 80.5 540 136.4 495.3 256.4 529.5 179.5 523.1 240.9 454.3 132.8 514.3 244.5 463.3 260.7 515.4 256.3 505.5 226.7 487.8 163 486.5 85 514.4 170.9 506.6 85 505.2 46.3 532.5 271.7 468 271.5 493.7 107.7 504 197.6 510.9 184.4 524 124.9 522.2 238.2 495.7 129.2 522.4 107.2 531.4 54.9 549 271.2 476.8 124.9 540.7 58.2 514.3 48.9 517.5 234 514.2 132.8 562.3 204.7 478.8 125.1 498 170.5 504.9 134.2 490.7 157.4 520.4 249.3 483.4 178.8 527.3 103 495.5 123 506 157.9 509 151.8 479.7 132.8 557.6 146.3 501.7 267.4 514.6 96.1 489.1 148.1 523.4 102.4 526.1 112 516.3 172.6 517.2 271.6 476 240.9 473.2 114.2 500.3 261.2 481.8 161.9 501.2 230.3 493.3 222.3 524.9 98.3 496.1 197.5 522.6 270.6 511.9 281.7 511.3 233.5 520.4 232.1 502.3 174.7 514.2 55 509.7 256.3 492.7 127.8 495.8 258.2 516.8 172.1 519.2 172.6 536.4 192.7 466.2 121.3 522.7 75.7 515.6 254.1 509.8 204.9 496.3 159.3 506.3 204.8 492.8 82.9 504.1 186 495 269.9 518.9 187.8 511 93.4 560.3 236.1 514 114.5 534.8 235.8 512 213.2 472.2 279.5 483.5 87.4 505.1 143.3 490.1 194.7 510.4 221 527.5 123.4 529 270 501.8 113.9 501.5 232.2 501.2 134.1 548 138.5 538.7 188.1 524.8 169.2 507.3 235.9 479.6 208 482.4 236.1 508.4 240.9 456.1 247.4 517.1 202 517.9 194.5 490.9 216 536 161.8 546.2 107.4 522.5 279.1 503.1 165.6 532.8 238 525.5 61.7 493.2 151.9 613.2 116.1 535.1 51.4 499.5 190.8 500.6 138.8 512.4 206.3 488.3 159.5 488 82.5 531.4 93.3 511.8 154.3 522.2 179.2 484 68.6 523.2 73.8 500.3 274.3 475.9 122.8 495.4 238.3 508.5 151.8 537 154.3 533.5 233.7 520.2 111.5 495.5 129.3 502.6 176.9 527.7 240.7 519.5 266 474 148.1 512.5 172.6 502.6 58.7 539.1 58.3 502.2 266.9 482 276.6 514.1 233.2 489.7 176.5 485.8 201.4 489.5 61.3 523.4 170.6 487.4 174.3 467.4 280 503.5 252.3 522.3 159.1 491.1 232.1 479.2 263.5 479.6 184.6 478.2 215.5 483.9 222.2 524.4 200.5 532.2 261.1 508.1 222.1 472.6 208.2 493.4 188.1 533.3 146.1 513.2 103 531 88.1 514.6 212.8 520.9 194.8 531.9 107.3 493.4 65 537.3 116.4 543.2 179.1 480.3 184.8 520.7 105 538.3 265.9 486.3 270.1 528.7 252.4 520.1 222.1 486.3 65 510.4 204.5 502.5 168.7 509.5 192.7 497.5 111.3 518.7 54.8 519.5 59.4 530.5 55.2 510.4 226.4 501 64.9 505.7 200.5 454.2 80.7 552.4 265.5 507.6 174.8 545.4 125.2 535.6 83 513.5 191.4 501.2 201.7 492.4 224.6 526.4 208.5 480.4 136 507.5 132.9 531.6 111 528.9 96 526.2 181.2 512.2 129.9 527.8 274.4 491.3 161.2 499.2 266 482 194.8 480.8 152 490.9 263.3 510.6 103.2 504.6 103.1 501.7 194.8 475.9 197.9 518.5 206.3 520.4 176.4 518.2 279.5 475.4 210.6 501 218 490.2 135.7 501.7 242.3 494.5 159.6 490.6 238.2 495.9 169.2 505.6 143.4 540.8 169.2 486.3 238.1 511.5 96.1 540.3 277.4 511.4 162 538.4 132.4 514.5 95.8 507.4 179.3 497.8 82.4 499.8 110.3 529.9 256.3 478.9 96.5 510.5 266 504.1 267.3 519.5 157.7 516 159.2 497.9 107.7 525.6 197.8 487.5 194.4 485.8 77.8 507.3 210.2 483.5 170.3 530.6 129.5 484.6 216.4 523.7 168.6 487.4 185.8 519.4 151.5 490.6 122.6 536 208.2 523.6 82.7 526.3 174.3 474.4 274.2 494.2 143.3 513.3 270.1 465 129.5 543.7 222.2 513.5 114.1 514.8 244.4 514.9 279.9 482.3 263.9 502.6 67.1 530.1 48.5 533.1 49.1 523.4 110.1 518 107.5 520.5 100.4 494.2 159.1 523.8 205.6 497.4 244.5 535 244.5 465 61.8 508.9 46.5 514.6 65.2 532.4 267.3 494.1 98.4 495 191.8 521.5 133.7 519.9 261.2 506 249 520.4 224.2 506.6 48.7 563.8 75.4 539.8 201.3 495.2 181.5 526.6 114.3 523.9 229.9 510.6 208.4 477.3 191.2 474 270.1 526.7 177 495.6 263.5 525.7 94 501.4 210.2 498 197.9 520.1 111.4 548.4 129.2 521 261.6 515.7 224.3 486 270.3 486.4 254 511.6 273.9 501.4 200.2 525.5 170.6 522.6 169.1 523.6 240.9 467.3 267 500.2 188.1 484.6 179.1 521.7 127.9 550.4 184.6 473.2 222.1 478.1 236.4 508.5 256.2 477.9 148 529.8 93.3 530.6 107.3 513 134.1 517.1 129.3 517.3 192.7 476.2 242.3 519.1 232.3 517.4 46.5 504 140.4 493.5 132.8 499.3 270.1 534.5 77.9 500.9 241.2 483.2 192.7 470.7 87.3 515.8 181.3 488.2 165.1 487 176.7 493.8 113.9 499.7 252.4 481.9 52.3 538.2 242.3 513.8 96.1 531.7 113.8 517.2 226.5 509.2 92.2 539.4 82.9 499.5 118.2 505.7 102.8 506.7 226.8 481.8 110.1 554.9 216.3 522.6 194.3 484.2 133.9 518.7 235.9 517.5 85.3 538.1 54.9 532.9 92.2 517.3 121.5 478.3 231.7 483 46.5 520.9 192.7 489.1 248.9 491.2 281.2 528.4 146.3 543.8 52.4 506.5 115.9 505.7 200.5 470.1 89.5 531 188.1 490 188.3 503.9 191.4 492.8 224.5 469.9 123.4 499.6 127.9 541.1 103 535.2 138.6 498.6 92.2 503.5 138.7 516.4 77.8 538.9 258.8 523.4 210 506.5 254.3 485.3 174.8 555.8 220.5 518.8 141.3 526.1 151.5 508.7 213.2 480.5 218 517.5 136.1 486.3 66.8 530.7 279.8 520.4 174.8 557.4 46.2 508.9 247.6 504.1 110.3 516.8 141 499 110.1 543.1 138.5 553.8 201.6 517.6 121.8 499.8 224.4 501.1 270.1 515.4 265.9 508.3 85.1 497.6 92.5 519.7 75.4 540.2 231.9 508.3 258.4 476.6 100.6 526 89.7 540.1 71.2 526.4 180.8 495.5 54.9 521.5 121.3 512.2 146.7 506.5 71.3 523.4 68.7 513.6 163.5 527.9 265.7 508.6 240.9 455.2 111.8 535.6 154.1 514.7 89.6 529.6 279.5 466 226.6 524 93.4 561.2 168.6 513 235.9 519 146.4 523.3 244.9 498.7 132.7 522.8 96.7 514.7 170.5 518.8 124.9 544.2 118 525.6 143.4 544 233.6 482.1 152.2 490.6 173.2 486.8 205 494.5 186.3 478.3 108 527.9 143.5 521.8 141.1 517.9 210.5 530.6 138.6 495.1 129.5 489.4 229.9 508.9 103.1 522.5 242.6 511 238 483.8 184.4 520.6 82.7 514.2 71.1 539.1 194.9 493.2 213.5 489.2 208.4 508.1 192.6 510.5 240.4 486.6 261.2 502.5 130 501.2 224.8 486.4 48.6 506.9 267.2 490.8 195.1 488.3 129.4 497.9 141 509.3 158.9 504.5 118.1 509.2 254.6 507.4 269.8 510.2 198.1 509.6 113.8 505.9 121.6 523.4 235.9 499.7 114.3 502.8 186.3 501 208.1 513.5 240.9 468.4 52.2 528.1 259 514.8 133.7 509 168.8 522.2 82.6 502.9 216 532.9 249.2 517.8 84.8 522.7 64.8 527.5 161.8 474.7 100.4 538.9 80.7 546.9 175.1 518.4 154.6 517.4 132.6 501.2 201.5 498.4 271.7 452.6 100.4 548.3 122.9 508.8 186.6 499.1 170.4 488.8 254.6 479 143.4 538.4 186.6 514.2 254.4 525.2 226.7 466.2 165.6 518.5 151.4 498.2 265.6 515.2 208.6 510.7 210.4 491.7 147.7 497.9 152 497.3 123.1 509.6 92.9 500.6 224.7 515.1 274.3 477.5 274.2 511.8 232.4 504.5 92.3 536.7 129.6 497.7 59.5 529.7 191.2 484.9 161.8 517.9 242.3 496 236.1 489.9 150 536.7 242.3 495.5 267.1 508 204.9 540.4 143.4 528.5 154.1 490.9 254.4 489.9 105.7 512.2 152 537.4 128 531.4 197.9 490.9 191.2 504.2 197.8 528.9 46.2 520.6 176.5 495.9 80.9 535.5 258.7 520.1 143.4 555.1 254.4 524 46.2 523.7 276.9 477.1 271.7 469.7 216 479 200.1 523.6 146.2 510.1 121.5 517.2 148.3 528.4 92 502.5 241.2 502.8 129.5 552.2 80.5 519 200.6 495.6 244.6 498.1 118 535.8 218.2 515.6 226.8 503.7 161.8 480.1 58 529 232.4 493.1 67 522.2 201.4 482.7 157.4 533.3 151.3 499.6 172.2 505 181.3 489.3 218 527.9 162.1 532.1 244.5 507.9 146 493.5 148.7 519.9 127.7 536.1 102.9 495.8 258.7 512.2 71.1 506.6 50.9 517.1 200.7 506.9 103.2 517.9 233.6 455 82.8 538 68.9 502.3 141.2 509.7 116.4 506.8 59.7 518.8 83.2 497 236.4 511.4 118 526.9 111.4 491.8 266 459.2 279.4 496.4 230.2 501 75.6 527.3 254.2 482.3 100.4 484.3 121.6 510.9 238.4 497.6 271.9 511.8 198 497.6 98.4 538.5 134.1 482.4 74.6 530.2 148.3 539.8 73.8 520.8 71.7 498.8 192.8 481.2 58.7 524.7 77.7 500.7 174.7 515.4 161.5 517.4 111.3 498.8 188.1 514.3 141 540.1 221.9 520.5 75.4 538.5 218 509.5 151.9 495.4 130 497.4 135.9 498.2 113.8 542 151.7 499.1 216 474.2 100.1 493.4 113.8 536 151.4 514.8 59.3 528.1 221.9 515.9 95.8 494.3 77.4 498.7 260.9 509.4 148.9 522.7 256.4 476.1 92.4 499.9 61.4 501.9 176 484.7 123.3 511.4 89.5 510.6 188 487 123.6 526.3 159.9 514.6 249.2 522 65.3 504.2 61.6 507.3 154.1 511.7 87.5 495.3 172.5 515.6 226.7 473.8 259.5 501.7 163.4 508.1 87.2 515.1 96.3 528.9 197.9 492.3 190.8 525.6 111.7 502.9 205.2 527.4 254.4 501.4 141 536 165.6 497.4 87.6 513.6 172.8 516 205.1 519.1 89.4 504.1 87.7 503.9 58.3 526.5 148.1 524.2 66.4 521.3 176.9 499.9 82.6 524.7 93.5 507.9 80.7 552.1 235.5 485.6 96.3 502.6 266.9 513.2 205 525.1 244.5 492.1 146.3 538.4 188.3 508.2 162 485.4 256.4 530.2 216.3 526.4 174.7 505.9 105.1 516.4 59.6 535.5 215.8 481.5 241 522.4 92.2 500.5 115.9 537.6 77.4 522.5 176.9 497.9 232.4 515.9 267.1 508 218.3 492.6 260.9 490.1 271.7 455.7 161.8 485.9 55 522.3 232.5 501.9 244.6 497.6 197.8 512.1 218 503.7 111.4 477.3 93.5 512.1 181.2 496.1 52.5 528.6 122.5 497.3 192.5 494 77.4 502.5 263.7 517.1 174.3 444.6 200.5 475.5 111.4 533 71.1 497.9 249.2 470.1 77.7 537.6 216 525.8 165.5 503.3 184.3 487.3 210.5 477.5 172.6 491.4 87.7 531 73.9 527.8 261.1 470.8 138.7 531.7 206.3 536.9 100.2 514.4 132.8 558.2 236.1 511.7 226.3 478.9 95.8 529.8 111.1 506.1 51.1 524.8 274.3 500.4 249.2 478.4 233.7 499.6 146.3 543.5 174.8 498.6 48.8 515.8 170.5 529.3 249.2 510.3 221.1 480 220.9 487.3 124.8 537.2 186.6 516.8 128.8 530.1 58.4 508.3 271.2 510 271.8 489.4 191.3 524.7 82.9 536.9 102.5 504 151.7 500.4 238.5 500.9 186.3 477.8 174.3 483.2 105.4 495.1 52.1 515.1 121 495.3 107.8 522 77.6 510 197.8 469.9 200.3 521.4 176.5 499.8 221.8 505.1 46.5 504 62 536.3 249.3 480 51.2 512.9 151.9 615 206.7 485.6 132.8 563.3 238 465.6 159.4 489.8 270.5 482.6 68.6 523 80.5 506.1 218.1 494.8 134.3 530.6 195.1 529.3 163.1 524.8 192.7 468.4 271.6 508.2 123.1 536 200.8 491.2 110.6 516.6 258.8 487.1 261 507.4 279.5 480.1 221.7 485.4 89.6 513.3 260.8 497.4 187.9 525.1 213.4 517.3 252.3 522.3 263.4 513.8 87 512.1 50.4 499.8 188.4 503.5 143.5 511.8 161.8 517.4 162 523.9 263.5 472.6 184 496.2 152.1 514 94 526.9 150.2 499.1 170.4 493.4 45.9 541.9 192.7 463.4 84.3 535.7 267.2 472 163 486.9 252.3 467.6 152 480 176.8 473.4 75.3 535.8 116.1 522.4 84.8 496.1 48.7 542 201.2 518.3 107.8 548.4 200.2 491.4 224.5 481.7 154.2 497.6 165.6 509.4 230.1 493.4 161.9 483.2 135.7 492.1 263.5 468.3 146.3 539 210.8 520.1 265.9 490.4 277.1 474.5 66.1 525.1 272.1 494 174.6 524.7 103 531.1 136.1 493.6 224.2 485.2 103 513.1 176.8 505.9 152.1 474 104.7 490 58.7 518.6 68.5 533.2 254.5 502.7 146.1 493.3 213.1 496.1 82.4 521 80.7 542.7 58.2 505.9 149.6 497.7 147.9 517.6 146.5 504.4 256.5 480 235.8 496.4 96.2 521.9 184.2 503.4 71.3 495 57.9 501.9 102.8 514.7 208.2 518.4 128.1 521 115.9 495.7 135.3 520.4 121.8 506.6 267.1 483.5 55.1 539.5 61.5 517.2 254.8 482.8 98.4 506.2 48.8 521.4 258.7 486.7 154 502.7 210.4 517.9 116.2 548.8 133.7 537.8 152.2 497.7 110.2 539.8 114.1 546.9 241 498.8 213.4 485.7 80.9 516.9 280.9 505.5 237.9 486.8 143.4 561.6 71 523.3 178.8 492.4 124.9 482 110.1 576.6 48.6 503 165.4 536.8 174.9 495.3 172.5 512.5 65.5 507.4 240.7 485.2 238.4 488.9 125 495.1 58.3 542.7 113.9 506.3 98.1 525.3 111.4 542.1 115.9 513.7 200.5 462.7 90.1 533.4 51 500.9 270.2 503.7 104.9 531.2 217.8 510.3 186.2 492.6 197.8 482.4 124.6 508.4 66.6 497.1 269.9 514.9 98.4 504.9 89.2 520 161.4 487.5 93 502.3 277.2 501.2 279.1 508.3 75.3 501.3 238 523.1 179.4 511.9 258.8 524.5 65.1 509.4 254.1 521.6 61.7 511.6 145.9 522.1 113.9 506.4 129.4 517.8 221.8 521.9 249.4 521.2 201.2 513.4 159.1 530.4 151.7 488.2 271.5 513.1 267.2 524.6 115.9 512.7 200.4 487.3 208.4 527.4 150 486.4 54.7 531.8 229.6 504.3 252.2 478.3 206.4 499.6 132.7 519.7 208.6 507 232.2 483.8 200.5 468 267.2 503.6 254.4 478.1 46.2 511.5 93.5 529 65.2 506.1 69 513.1 230.3 526.7 242.2 474.8 75.3 525.4 93.3 519.2 115.9 546 84.7 504.5 132.8 541.5 247.7 494.5 174.8 527 175.2 511.5 121.5 485.1 254.3 509.6 192.6 485 116.2 560 71.2 521.8 71.2 540.2 151.5 519.3 74.1 516.5 240.9 452.6 82.7 511.5 266.2 488.2 174.3 434 184.5 499.1 165.5 487 226.7 475.7 249.5 508 123 497.3 192.1 483.2 128.1 536.5 271.8 475.8 87.6 513.1 249.2 534.1 213.2 479.5 111.3 498 171 524.2 197.8 519.4 208.6 508.3 150 524.5 271.4 485.2 216 528.2 274.7 516.5 93.3 531.7 111.3 495.6 138.5 528 154.3 537.7 124.9 546.4 265.9 518.1 118.2 501.4 116 508.8 277 486 256.2 478 46.4 537.4 67.2 519.8 152.1 516.2 190.7 518.7 154.2 520.8 75.4 539.4 138.5 533.9 128.1 507.6 200.2 509.4 191 493.7 91.8 500.9 187.9 498.6 77.5 545.4 104.6 529.8 186.1 487.5 254.5 489.8 222 505.6 152.3 546.5 71.6 528.6 128.2 497.9 210.9 506 236.1 484.7 192.7 471.8 204.3 484.3 215.9 488.3 254.7 514.7 165.7 492.9 256.4 505.6 258.8 458.9 121.3 531.6 77.8 511.1 98.4 522.1 59.3 505.4 148.3 515.3 51.5 515 98.9 541.5 184.3 519.7 80.6 534.3 108.1 510.9 181.2 538.2 98.3 541.2 150.1 522.9 256.4 500 206.3 486.2 117.3 511 133.9 498.8 116 550.2 206.7 523.7 107.6 521.7 245.2 499 221.8 491.3 151.8 504.2 269.9 493.9 242.2 509.8 116 535.7 185.1 488.6 129.5 539.6 217.8 491.8 146.3 542 198.1 500.6 194.5 529.6 151.4 477 165.4 510.5 96.5 507 224.8 487.2 222 496.8 244.5 463.7 194.8 530.7 213.3 502.3 80.6 522 210.7 515.7 51.1 515.9 179.1 479.7 141 538.5 236.4 520.8 242.5 491.9 272.3 510.3 197.8 473.8 170.4 507.7 118 514.9 231.9 488.1 247.1 518.1 191.3 487 104.8 528.7 103.3 513.8 266 483.1 98.3 548.8 151.9 540.4 270.1 527.7 208.3 494.3 229.9 476.7 151.7 548 66.5 528.7 118.1 497.2 236.1 522.8 157.7 525.3 256.6 491.5 68.7 497.3 249.2 473.4 201 509.3 172.6 527.5 85 498.5 77.9 508.9 162.9 489.9 197.6 522.7 204.9 495.2 177 485 172.5 518.8 208.6 490.2 186.4 499.5 191.2 480 191.5 522.2 186.4 532.1 254.3 499.9 181 494.5 238.2 517.1 170.5 509 165.5 516.3 154.3 522.6 281.2 468.5 172.1 509.4 111.6 525.5 263.5 472.3 161.6 510.1 59.1 533.7 177 489.4 271.6 506.8 161.8 477.9 110.5 524.8 204.9 508.6 200.5 479.3 151.8 501.2 270.1 501.1 161.4 525.9 260.6 499.4 201.4 496.5 141 528.4 256.7 476.6 274.3 520.8 128 522.4 127.7 528.8 218 506.7 66.9 539.6 204.7 528.8 256.4 468.5 224.5 508.4 150 537.8 220.8 482.7 176.9 531.4 161.8 475.8 138.8 488.7 96.7 499.1 77.6 499.7 184.1 485 252.5 485.4 52.8 529 66.2 501.5 141.2 517.9 107.8 496.9 129.3 530 259.1 510 71.2 527.3 134.1 483.4 163.7 488.7 141.2 522.9 55.2 517.2 149.8 509.7 146.3 483.8 163.2 513.1 121.5 513.1 169 499.8 213.2 518.6 94.2 538.6 220.8 509.4 252.2 505.9 80.6 500.6 191.5 497.3 45.9 530.9 216 478.5 274.3 475.1 263.6 506.5 82.9 533.4 244.5 469.9 242.2 531.7 93 540.1 186.3 531.8 181.2 520.5 172.5 506 157.7 478.2 200.7 506 206.1 497.6 238.2 506.7 208.3 517.3 249 506.6 116.2 493.9 127.9 547.3 172.9 519.1 116.5 513.2 124.9 504.5 152.3 478.5 220.7 521.6 80.7 548.1 143.4 543.4 75.3 509.1 208.4 531.8 277.1 473.8 92 524.6 274 504.5 190.8 492.6 77.6 518.2 249.2 496.4 146.3 510.7 194.8 477.1 201.6 498.6 270.1 480.1 263.5 475.1 172.7 507.9 58.1 511.9 216 539.9 162.1 510.2 77.7 497.9 213 522.8 220.7 519.7 247.1 483.1 91.9 519.6 274.1 505.8 208.6 485.2 48.5 502.8 170.4 526.8 252.3 464.6 114.1 493 116 494 258.8 467.7 48.7 562.9 186.2 495.1 206.3 485.5 132.8 541.2 162.1 507.4 281.2 475.3 244.5 534.4 48.3 504.5 187.9 523.4 233.3 524.1 132.8 565.4 192.4 526 150 537.1 226.9 488.8 143.6 524.7 163.1 519.6 249.2 462.3 179 495.6 73.7 527.3 103.3 535.5 93.6 499.7 116.7 532.5 168.8 483.9 197.8 478 127.9 573.8 271.6 511.3 197.9 500.2 159.1 489.2 184.6 494 197.6 502.6 192.9 521.4 87.8 527.4 226.1 501.1 236.6 487.6 274.3 473.3 210.6 496.1 277.1 516 46.5 502.9 152 516.3 58.4 507.4 158 487.1 168.2 502.7 71.1 496.9 181 494.4 124.9 487.1 143.4 509.8 93.4 520.4 226.4 490 48.7 561.1 129.7 518.7 187.5 520.9 210.4 520 95.9 538.2 200.2 512 215.9 522.9 242.2 525 191.6 520.1 233.5 478.3 281.2 479 194.8 521.9 125.1 520.8 64.6 499.3 247.5 483.4 66.9 510.9 82.9 514.9 151.8 487.9 191.2 522.3 212.9 529.4 127.7 511.8 163 496.1 102.8 519.3 93.3 527 118.4 495.9 114 506.3 279.3 517.3 165.5 520.1 170.7 481.7 82.7 506 129.5 510.5 174.3 456.9 221 514.8 59.3 545.5 134.5 489.1 128 492.9 192.8 501.1 226.7 463 59.6 523.8 161.9 498.8 151.6 538.9 222.2 515.3 132.8 557 206 523.8 169 501.3 216.1 514.3 129.5 552.2 85.1 516.4 143.1 503.4 220.7 521 191.8 483.7 80.9 514.9 46.6 524 129.7 513.3 148.5 503.1 174.6 513.7 61.7 497.3 107.9 529.1 232.1 524.8 49.1 536.5 244.5 471.3 274.3 459.1 277.3 480.2 184.6 476.8 270.1 514.5 109.9 536.9 213.5 517.7 240.9 473.5 163.4 497.6 218 486.7 121.5 486.6 54.9 550.4 276.8 499.8 46.5 505.7 259 503.3 118 517.8 73.7 500.7 157.4 515.7 221.4 487 127.9 532.2 254.6 492.6 270.1 464.8 258.7 476.3 224 500.7 66.7 517.9 82.8 499.5 141 541.9 176.6 530.2 201.3 511 267 486.2 178.7 487.7 260.6 486.8 77.7 536.9 121.3 528.6 213.6 486.4 176.6 489.3 274.4 492.8 105 496.1 168.6 521.9 55.2 536.8 133.9 520.1 111.4 505.8 269.7 494.6 64.8 519.4 201.3 513.2 136 537.9 270 513.7 279.2 500.4 222.1 511.6 129.5 559 173.1 497.3 238.4 481.6 136.3 507.2 240.8 521.7 154.5 505.7 238 514 89.5 537.1 279.3 510.3 100.4 487 181.6 517.3 265.6 512.1 135.9 488.5 174.8 536.7 162.3 526.3 235.6 513.3 100.3 501 80.5 524.4 77.5 544 125.2 528.3 179 514.2 45.9 521 68.6 514.2 142.9 511.4 186.6 527.8 213.1 490.3 238.3 513 98.3 548.1 261.4 517.7 105.1 501.5 236 475.2 107.2 498.4 46.4 526.1 272 480.6 168.6 513 270.1 468.6 121.3 520.6 114.1 522 58.3 513.5 220.7 470.6 174.3 479.7 114.2 517.4 157.6 492.7 45.9 528 192.7 532.1 176.7 500.3 263.5 474 281.2 519.3 258.5 483.2 71.5 501.4 277.4 489.4 220.5 478.5 162.9 493.6 256.5 481.2 194.9 522.9 46.2 505.1 138.5 508.7 267.1 479 178.9 532.5 104.9 534.9 267.2 524.6 247.2 495.4 181 522.7 140.8 500.7 98.1 512.9 93.4 548.6 118.2 522.8 232.3 484.4 121.5 527.9 110.1 491.8 210.3 521.7 141 543.7 123.2 502.3 157.5 490.8 254.8 485.7 132.8 554.3 146.4 502.8 143.6 516.6 281 480.1 206.6 502 222.2 498 143.5 510.8 197.9 508.9 271.9 475.1 176.9 515.6 191.1 520.4 154.3 498.2 266 519.8 281.2 468.1 116.1 537.5 267.2 469.6 52.7 532.9 129.3 489 116.5 555.8 240.7 523.4 200 491.3 161.5 491.2 158.1 510.6 266 486.3 222.1 504.5 267.6 481.8 107.4 504.1 226.5 510.1 233.7 510.3 118 502.2 61.8 502.2 281.2 468.3 154.2 510.6 150.6 504.7 210.5 481.7 184.8 504.5 179.2 485 213.1 489.4 192.6 503.7 263.5 458.1 181.5 484.5 258.9 487.4 50.9 538.2 238 465.4 138.7 532.1 174.3 439.3 221.8 516.6 279.4 515.2 93.8 511.7 87.6 534.1 168.7 489.9 195.2 519.4 84.3 535.1 258.9 491.8 64.7 527.3 121.6 499 110.1 560.2 87.7 532.4 212.5 505.6 216 530.7 274.8 479.6 281.2 498.1 123.8 494.2 89.6 528.6 170.6 512.1 220.9 501.7 179 499.3 45.9 552.2 159.4 501.3 159.1 493.7 151.9 581.6 128.1 525.4 129.5 551.4 159.3 490 80.7 491 87.6 522.1 277 504.3 98.4 528.6 55 519.8 216 528 170.5 509 175.1 533.2 133 501.8 132.6 534 87.5 506 238 501.3 143.1 509.6 152 489.1 100.3 493.3 71.3 534.9 121.8 505.8 151.8 483.1 129.3 521.1 111.1 500.8 270.3 493.3 134 516.2 93.4 539.1 240.5 481.9 224.4 506.2 84.5 535.1 265.7 496.6 110.1 530.3 252.4 506.4 227 520.9 220.6 522.5 224.6 526.2 124.9 543.6 235.9 522 68.7 523.9 138.8 505.6 68.8 548.5 170.9 495.7 59.3 533 51.1 538.7 165.5 513.3 174.8 482.3 165.6 519.2 73.5 506.9 198.1 499.2 127.8 525.6 51.4 524.2 224.6 480.2 244.2 483.2 213.4 531.7 107.7 515.4 240.9 459.9 87.5 522.5 224.7 477.6 114.6 530.6 194.8 501.3 151.8 522.5 163.2 514.8 89.2 515.7 237.8 505.7 124.9 488.6 184.7 518.5 163.3 520.2 84.5 501.1 121.7 510.4 176.8 479 157.8 530.2 148.2 511.1 125.1 509 266 468.9 105 511.1 281.6 512.7 201.5 486.8 233 518.8 240.8 509.7 279.5 508 124.9 476.4 274.3 500.1 263.4 506 58.3 506 73.9 509.3 259 523.1 191.2 532.1 269.9 511.5 65.2 502.5 249.3 515.5 216 466.3 256.2 488 274.3 456.8 271.8 508 191.2 531.3 59.3 548.3 191.3 513.1 71 531.9 135.7 504.2 267.2 471.7 151.8 507.8 133.9 521.8 252.3 496.6 224.5 484.2 48.6 532 110.9 492.8 172.6 521.6 197.5 518.5 258.7 508.3 105.2 505.2 260.9 482.9 252.2 503.5 118.3 520.4 252.5 520.1 263.8 481 96.2 539.8 150 546.8 206.3 502.1 121.5 543.3 271.8 486.9 191.2 466 109.6 522.8 172.7 521.6 220.7 481.2 221.8 525.5 138.8 493.3 116.3 553 123.5 522.2 103.1 525.5 220.4 501.6 162.8 499.7 218.1 525 133 494.3 200 489.2 157.8 521 146.4 521.3 148.4 510.7 65.1 508.1 58.1 510 267.1 509.3 132.8 499.4 128 529.8 244.4 515.9 157.5 520.8 116.1 544.6 75.3 502.4 179.4 526.5 93.4 488.3 252.3 489.6 127.9 497.7 58.2 502 123 523.8 107.5 531.5 263.5 502.5 168.7 498 157.7 477.3 266.3 508.5 157.7 478.8 238.4 484.6 132.4 505.4 237.8 491.2 266.1 493.6 132.7 492 114.7 497.5 240.9 470.4 217.7 505.4 77.7 527.8 116.3 554.4 176.4 521.9 224.5 468.5 143.3 516.1 115.9 533.4 279.7 519.9 116.6 498.3 80.4 528.5 218.3 508 252.4 483.2 201.3 510.9 231.8 501.4 118 525.8 258.8 470.4 259 502.5 80.7 487.5 238.2 492.2 191.5 501 249.6 496.3 210.7 496.8 242.2 477.4 163.4 489.7 259.2 477.1 232.1 528.6 174.3 472.7 100.8 508.8 61.9 521.3 82.7 511.6 241 515.9 259 479.7 82.8 513.1 87.8 512.1 61.8 507.6 224.4 491.3 159.2 543 200.4 524.2 174.3 446.3 213.2 469.6 174.3 455.1 104.7 501.3 213.2 509.8 127.9 544.5 89.4 530.4 168.5 504 87.5 522.6 279.6 504.1 46 533.9 269.8 499.6 151.7 507.2 271.5 476.2 174.5 525.8 69 496.5 165.2 489 247 481.2 129.3 490.1 96.1 515.1 151.7 481.6 213.2 486.3 124.6 534.2 110.3 524.1 93.6 516.4 274.3 449.8 244.7 486.9 159.4 521.7 45.9 533.2 111.3 498.2 252.4 483.7 71.2 508.7 210.7 518.8 254.4 521.1 194.7 495.3 273.7 488.9 102.9 524.8 146 497.5 138.6 514.5 188.1 479 200.6 493.9 73.6 517.7 279.2 513.5 208.4 479.2 215.8 515.7 176.5 516.3 75 523.4 184.5 509.3 98.4 504.2 143.6 531.3 247.3 489.7 172.6 483.2 54.9 546 138.4 508.4 163.4 488.9 118.1 517.2 174.8 511.4 127.9 491 87.2 501.5 212.9 511.3 218.2 508.4 158.4 495.3 59.2 516.4 151.3 525.8 266.8 485.2 242.2 532.6 163.6 486 181 513.1 172.5 491.5 159.2 537.1 270.3 488.3 116.3 507.1 157.9 524.6 154 532.3 213.3 495.5 117.6 512 224.6 512.6 252.2 483.6 213.4 503.5 221 518.8 46.9 511.9 132.8 502.8 122.8 524 188.2 496.5 256.3 478.5 241 521.1 141 544.7 100.4 544.3 45.9 518.2 58.3 498 232.1 471.8 134 487.5 45.9 547 92 510.6 159.3 520.8 89.3 519.2 104.9 511.2 113.7 524.6 237.8 486 212.6 501 263.5 498.7 240.9 477 81 501.1 98 523.5 143.4 484.9 107.8 506.9 125.3 515.3 92.4 498.2 240.9 517.1 89.4 511.9 198 498.3 98.7 500.8 231.7 520 154.1 500.7 48.7 549.7 221.9 519.4 111.3 529.9 87.6 499.6 100.5 513.5 93.5 543.4 151.8 485.7 181.2 505.4 175.1 533.1 48.5 517.1 58.6 499 152 531.6 55 498.1 269.8 512.2 252 505.1 129.4 503.2 266 476.1 271.3 485.3 194.9 509.7 259.1 505.5 67 527.1 143.4 516.7 224.5 498.6 172.6 474.9 229.8 477.3 89.6 526.9 206.2 496.3 71.3 493.8 277.1 472.7 138.6 507 55.1 538.5 123.3 516.8 224.3 490.9 84.7 504.8 141.3 532.6 194.9 500.7 57.9 533.8 169 532.8 261.1 518.7 61.7 553.9 151.9 475.5 232.2 510.9 133 537.4 135.9 504.7 256.5 512.9 242.2 479.5 261.2 479.4 134 506.7 186.2 522.8 171 505.6 187.8 529 111.3 539.4 233.6 482.5 256.4 531.8 136.1 534.9 138.6 521.2 115.9 497.8 232.2 488.3 136.3 495.7 136.3 535.1 121.4 523 146.4 497.5 93.7 538 176.8 495.9 92.3 518.5 103 509 227 493.5 122.9 528.6 191.4 512 224.5 464.9 233.6 462.2 161.8 523.2 197.8 471.7 274 498.6 151.9 606.2 181.3 512.5 176.8 510.5 54.9 508.8 181.2 502.8 61.9 501 215.7 503 154.3 487.3 66.6 529.3 271.7 458.7 154.2 528.6 150 541.4 150.1 519.6 276.9 495.6 244.3 491.5 51.5 507.1 104.6 507.4 80.7 534.5 93.4 494.8 163.1 499.6 224.3 527.5 101.1 521.4 179.3 496.3 244.5 468.6 98.3 553.5 187.8 485.3 221 525.6 170.9 524.4 150 550 68.9 506.4 192.7 528.6 281 512.7 172.3 503.3 46.9 504.6 201.5 496.4 172.3 510.5 93.4 537.6 191.2 494.4 176.6 526.8 89.5 501.5 247.3 493.2 100.4 485.7 113.9 513.8 98.4 509.2 68.8 499.3 193.1 485.3 161.3 511.9 226.7 475.9 104.7 525.5 96.3 507 48.7 517.3 254.7 498.7 141 543 270.2 497 146.3 552.6 65 533.4 117.9 534.4 103.2 496.9 111.3 511.1 184.4 533.1 151.5 501.2 186.2 489.3 52.5 541.6 274.3 526.1 151.9 531.2 249.1 476 150.2 505.9 224 528 92.9 532.5 200.5 466.8 104.7 546.6 170.3 511 247.1 517.4 184.4 517.5 242.4 497.6 176.8 496.7 111.3 500 271.5 514.7 58 517.7 84.4 519.2 204.9 532.3 249.1 490.6 206.3 517.2 224.7 506 165.2 521.6 138.6 512.2 152.2 519.9 279 491.5 226.8 496.6 233.6 463.2 93.5 532.4 256.4 486.4 121.5 533.1 104.9 498.2 89.2 500.2 132.8 562.4 93.5 514.3 200.4 480.6 184.6 470.8 204.8 477.9 233.6 477.9 123.2 510.3 150 544.7 158.9 508.4 266.4 517.1 172.8 524.8 217.9 484.2 269.9 480.9 93.4 555.1 65.1 547 233.5 514.8 168.2 529.5 111.4 518.5 159.4 511.3 263.6 509.6 148.5 494.1 208.1 478.9 125.5 504.2 206.2 488.2 224.5 535.3 186.8 488.7 216.3 495.9 82.6 503.3 221.9 489 59.9 509.5 147.9 526.3 59.6 507.4 154.3 541.3 178.9 499.5 108.5 532.8 191.4 517.3 161.7 518.5 143 512.1 256.6 508.4 192.7 453.8 92.2 494 256.3 480 73.9 498.3 244.8 481.1 55.3 505.7 200.4 525.3 165.4 515.1 276.9 489.1 162.2 484.3 226.2 525.6 121.5 482.2 122.9 522.8 240.9 478.8 200.8 527.8 80.6 514.3 259 521.3 177 486.4 140.7 498 176.8 537 181 524.4 132.8 541.4 115.9 551.6 92.3 503.5 93.3 498.1 232.1 502.7 116.2 510.4 52.4 534.5 240.9 458.4 165.8 502.5 184.6 471.7 247.5 507.9 212.9 487.7 226.3 527.7 48.6 521 82.8 543.4 191.2 460.3 69.2 507.4 238 475.4 133.8 537.6 210.4 479.6 87.5 505.4 274.3 486.6 267.2 505.7 163.1 533.5 111.4 544.9 66.5 498.6 230 495.9 127.9 500.6 138.5 512 208.5 486 157.6 499.7 162.9 512.9 52.1 519.2 133.8 502.1 161.8 545.2 238 476.1 75.7 524.9 98.7 536.6 162.8 508 222 509.7 216 475.1 176.6 507 129.4 501.3 238.1 512.5 83 498.9 205 521.4 174.8 553.5 154.3 482.1 270.5 478.4 148.3 485.2 249.1 489.7 252.4 508.6 66.9 529.9 197.5 494.2 151.9 572.8 247.3 480.7 256.2 489.7 141 546.3 151.9 578 132.9 502.6 256.4 468.7 261.2 490.8 263.2 503.5 205.1 517.2 143.4 525.4 151.8 544.7 75.8 515.6 115.8 540.4 73.7 508.9 200.3 511.4 89 517.7 134.4 498 96.1 526 251.9 479.9 237.6 495.2 263.5 488.2 46.4 522.7 229.9 530.4 89.7 516.1 143.4 541.2 236.2 489.5 118.1 514 102.6 498.8 62.2 499.8 124.7 494.5 191.7 499.9 252.3 497.3 186.3 481 65.2 508.2 75.3 534.3 67 532.2 77.4 522.3 111.5 537.2 129.3 519.6 84.9 518.5 263.5 478.6 105 529.5 194.8 525.9 215.9 494.2 184.6 473.4 244.1 476.7 77.5 554.2 274.3 461.5 244.5 505.1 98.1 497.6 279.6 486.5 229.8 511.4 61.7 524.5 65.2 529.5 146.3 549.4 104.7 527.1 77.4 539.7 157.3 512.9 204.9 539.1 236.3 498.3 233.6 475.8 163.4 484.5 157.7 536.2 215.7 517.9 172.6 540.8 206.3 533.5 69 498 75.1 537.2 258.7 487 188.1 480.4 242.2 511.4 163.5 489.2 249.2 486.7 220.9 510.2 213.1 523.9 206.2 506.9 103.1 532 168.8 476 242.7 494.9 129.4 535.1 109.8 516.3 220.1 482.7 163.3 516.6 132.8 565.9 110.3 498.1 179.3 528.1 46.3 513.1 175.3 487.1 163.2 482.6 66.9 507 92 508.3 230.2 477.4 154.3 533.6 89.4 524.7 54.7 536.1 46.9 512.9 247.2 509.7 218.3 507.5 205.3 480.2 174.8 537.6 121.1 518.5 80.4 522.4 204.7 509.9 150.1 490.8 140.7 499.4 58.3 503.6 270 515.5 154.3 503.4 96.1 494.9 163.2 515.4 152 501.7 162.5 508.8 82.6 502.9 151.7 529.2 208.2 480.5 267.2 521.6 123 496.5 109.9 530.2 138.8 515.6 266 486.7 104.9 493.2 129.5 543.4 178.4 503.4 280.9 499.6 179 522.3 174.3 469.2 71.3 494 217.7 486.3 256.9 500.2 241.1 491.5 93.5 511.4 179.5 531.9 151.8 544.4 138.3 492.1 194.8 499.8 100.4 524.6 158 498.8 277 506.5 134 499.6 95.8 528.9 261.4 499.4 179.1 506.9 176.6 510.2 65.6 524.2 48.7 545.4 179.1 481.3 267.1 480.2 266.9 489.8 159.3 512.1 194.6 500.7 125 503.8 71.4 509 143.7 490.4 176.9 488.9 134.2 496 107.8 541.9 171.1 519.6 263.3 489.5 221 484.3 248.9 480.4 123 494.1 52.5 515.2 212.9 481.3 100.4 509.8 176.6 514.1 233.8 499.3 281 496.2 241 479.8 150 483.1 157.7 538.1 55.1 510.5 54.6 528.3 134.1 531.3 198.1 511.3 179.1 501.7 51.3 502 266 469.3 58.2 502.1 238.5 482.2 150.2 521.6 240.9 525.5 135.8 511.1 114.3 505.1 159 510.6 176.7 493.8 204.3 492.3 46.4 530.1 270.1 462 185.9 484.4 92.9 526.7 191 489.2 132.8 564.8 54.7 521.8 200.6 482.7 281.6 513.7 77.2 536.3 77.1 510.7 92.1 508.7 170.9 531.8 242 483.3 87.7 517.7 117.8 521 242.4 490 261.5 481.9 188.1 516 98.1 506.3 140.7 521.9 154.7 517.7 254.4 506.4 221.6 518.7 92.1 508.2 110.6 534.8 230 500.8 54.7 529 174.9 508.4 71.2 534.1 266.1 510.8 159.5 531.8 206.2 513.2 54.9 494.8 210.6 502.3 220.6 493.9 201.6 524.5 258.9 484 154.3 474.7 270.1 523.5 89.2 497.6 58 530.2 172.7 514.1 215.9 524.9 87.1 500.8 191.3 506.1 125.1 519.3 184.2 511.1 121.2 502.6 165.3 530.7 165.9 494.1 123.1 518.4 140.9 532.3 54.9 524.1 210.2 498.5 71.2 530.6 259 517.6 133.5 504.4 87.6 521.9 159.3 490 93.4 485.1 274 507.7 172.5 523.9 59.2 538.5 200.6 496.9 150 482.6 53.1 523.1 117.9 525.6 154.2 519.8 61.8 522 77.6 532.6 222.5 518.2 271.8 482.9 102.9 498.8 118.1 539.4 129.4 493.9 66.9 501.5 179.3 527.9 68.6 508.6 170.9 488.6 224.7 481.1 114.1 524.6 256.4 464.3 96 531.8 136 533 270.1 529.3 172.3 521.5 170.5 528 161.9 484.1 82.7 510.4 188.3 525.6 238 478.1 93.3 540.6 205.6 518.1 118.2 524.8 134.1 486.1 279 487.4 92.2 538.5 263.3 503.3 48.7 557 127.8 496.4 122.7 520.3 118 527.5 46.4 538.4 178.6 532.8 198.2 515 68.8 506.5 143.8 518.8 224.7 526.6 141.2 500 61.9 509.6 194.6 507.2 159.2 480 224.5 539.1 271.1 490.3 210.7 503.9 89.4 526.5 80.6 501.8 80.5 504.4 93.4 553.2 200.5 504.4 229.6 503.5 264.1 516.6 176.5 498.2 135.7 524.8 263.5 462.7 121.7 494.4 192.8 495.1 165.7 527.1 170.5 526 71.7 531.3 96.1 536.8 210.7 509 178.6 506.8 100.3 525.5 252.2 502.9 110 503.5 132.9 506 77.3 525.4 80.6 528 124.7 500.5 249 517.2 222.1 479.3 87.2 507.4 65.1 542.1 230.1 498.7 174.3 435.8 241.2 505.5 109.9 508.8 48.1 526.6 87.1 531.1 141 534.2 265.9 505.3 95.8 514.2 64.8 519.2 77.5 548.6 159.2 543.1 267.6 488.5 96.9 531.2 154.3 516.4 161.9 499 266 461.7 53 528.7 206.1 518.9 172.4 529.5 258.8 467.8 118.4 516.1 87.4 520.5 170.5 515.1 263.9 499.6 181.2 480.3 104.5 517.4 188.1 512.1 141.2 512.9 116.3 539 165.6 483.7 75.8 508.1 151.6 528.4 103 505.4 188.1 518.8 222.1 534.8 197.9 483.2 238 472.5 208.2 520.7 98 527 186.6 494.2 197.6 520.6 192.5 481.2 163.2 536.8 260.7 507.2 68.7 522.4 281.1 511.9 277 494.9 220.7 467.2 186.4 500.8 187.8 519.2 206.2 498.4 256.9 518.1 148 535.5 274.3 451 213.2 493.9 82.5 534.4 161.8 545.3 146 504 241.9 483.8 204.8 523.1 237.5 521.1 74.2 534.3 216.4 526.8 113.8 538 259 508.2 61.8 523.2 136 500.8 208.4 482.9 217.9 487.3 263.6 505.8 244.5 482.3 274.3 461 150.2 488.3 84.6 537.3 249.5 479.8 151.8 486.4 45.9 512.6 222.1 479.6 172.6 482.4 80.7 552 45.9 549.4 107.8 543.7 140.6 526 65.4 498.4 58.4 507.7 100.5 500.5 280.9 482.6 256.5 485.3 136.3 522.7 208.7 489.8 187.9 501.4 176.8 475 201.7 501.5 109.7 500.8 240.9 497.7 220.9 505.5 67.5 510.6 61.7 523.2 75.6 499.1 111.7 516.3 266.6 517.2 146.2 522.6 80.7 557.8 125.3 509.2 210.7 498.8 107.6 492 241.1 483.5 67.2 534.1 187.9 500.1 198 515.7 134.4 501.5 213.1 495.6 52.3 532.5 92 528 151.8 523.8 87.6 498.4 194.9 510 92.7 528.6 48.7 550.7 170.7 485.4 238 468.9 181.2 530.4 270 479 100.2 534.1 146.5 533.1 75.4 506 221.6 497.1 54.9 544.4 151.5 523 140.7 489.5 229.4 479.7 246.9 491.3 123.1 542.8 226.6 480.5 267.1 500.1 266.9 479.6 132.8 544.1 233.6 466.7 179.3 518.7 71.3 513.1 263.4 487.2 247.5 486.1 195.1 493.7 66.9 499.7 152.7 534.4 89.5 527.3 218.3 510.8 270.1 475.8 75.4 537.6 276.9 486.3 50.5 515.8 208.2 501.8 193.1 487.3 266.1 501.1 127.8 522.4 240.9 508.9 154.3 492.8 174.3 463.9 52.9 505.4 270.2 506.8 73.7 538 206 522.6 116.5 541.8 104.7 544.2 89 516.4 114 505.3 247.1 483.8 220.8 496.9 194.4 496.4 237.8 486.3 121.1 522 233.6 458.7 206.1 529.5 168.8 544.1 147.9 531.8 141 517.6 252.2 487.9 217.9 501.2 82.7 520.4 220.6 494.5 118.4 520 116.3 532 132.7 535 206.2 530.2 58.3 550.3 208.2 522.1 95.6 511.1 111.4 510.2 118.3 524.1 256.8 503.7 261.1 485 175.1 523.4 96.3 538.8 150 547.6 224.6 524.3 270.1 528.3 87.7 507.7 271.7 472.1 132.8 508 198 525.9 249.5 508.7 267.1 492.3 195 525 252.1 515.3 122.9 531.9 98.5 521.2 270.5 488.7 104.5 500.9 271.8 514.7 172.7 505 276.6 485.3 215.8 482.5 59.2 515.7 201.3 497.4 220.9 511.5 114.1 516.3 181.2 535.2 136.1 532.8 242 491.9 133.7 517.5 252.5 484.6 71.2 495.6 206.6 527 260.9 517.2 233.6 527.3 55.1 505.9 192.6 506.6 259.4 522.2 69.2 497.9 87.8 517.5 281.2 514.7 205.1 491.7 93.7 534.8 247.4 522.6 179.3 505.6 230.4 513.2 143.5 520.3 96.2 530.3 218 478.3 174.3 441 143.7 532.3 270.1 471.4 57.9 508.2 129.8 513.9 247.4 489 188.3 515.3 212.9 483 211.2 493.1 252.6 516.6 232.3 486.5 213.3 511 238.4 498.2 226.7 470.5 152.1 514.4 146.5 504 114.5 523.1 208.1 501.3 184.8 525.4 240.8 488.2 260.5 500.2 55.1 539.5 151.9 608 151.4 525.8 61.5 522.8 232.4 487.7 138.3 497.9 200.5 478.6 121.6 497.8 93.5 506.3 266 462.4 104.9 517.8 200.1 490.3 121.5 482.5 103 516.9 224.1 478.6 115.9 497.5 127.7 503.8 113.8 530 259.2 495.4 151.9 585.1 110.4 501.8 114.1 550.4 193 511.7 210.9 493.9 236 523.9 80.7 541.4 82.7 508.2 266.2 508.9 107.8 540.6 93.4 560.7 133.8 500.7 148.3 488.9 221.9 485 174.6 500.2 192.7 475.7 206.4 496.8 143.4 520.8 208.8 480.5 54.9 541.8 152 505.7 54.7 507 75.5 531.3 261 491.6 261.1 476.5 184.7 505.3 80.7 557.2 177.2 529.7 70.8 523.4 233.4 502.7 192.7 480.8 84.7 534.9 93.5 521.6 80.9 505.9 98.6 517.6 118.1 537.8 186.3 478.1 110.4 504.7 188.1 476.2 201.8 491.4 200.5 472.2 71.3 482.5 121.5 486.4 93.3 540.9 186.5 501.9 271.7 461.7 115.8 558.6 236.2 523.7 174.3 437.5 154.2 488.7 111.3 497.7 107.4 536.7 71.4 530.9 270.1 468.9 274.5 502.8 266 515.8 68.9 518.4 61.2 512.4 256.6 508.2 103 500.2 194.7 485 237.6 507.5 46.5 534.1 258.8 474.1 169.1 504.8 151.9 595.6 115.8 531.4 58 539.3 148.3 487.1 213.2 478.3 224.5 474.4 212.8 497.9 147.7 503.7 152 531.4 161.6 531.2 152.2 503.8 184.5 502.2 67.5 526.6 174.3 481.5 226.8 485.4 46.1 501.9 252.3 478.9 192.9 484.7 222.2 521.3 51.3 500.2 54.9 510.8 277.1 507.2 161.9 526.7 222.3 509.2 154.4 488.3 216.7 515.2 146.3 537.3 267 484.1 244.7 520.4 143.4 516 179.4 523.4 159.4 497.5 140.8 507.2 92.1 513.5 172.4 512.3 205.9 494.3 59 537 202 522.1 165.5 525.9 146.1 528.5 151.9 588.6 80.6 532.4 263.5 476.6 96.2 530.3 87.5 543.9 61.7 497.6 157.9 505.8 238.3 499.6 258.8 530 179.3 512.7 52.2 536.3 51 506.1 150 550.2 226.9 503.2 114.3 515.3 113.8 510.3 46.5 508.4 201.3 504.7 45.9 505 110.1 550.4 59.3 510.6 80.6 512.3 213.2 535.3 84.7 505.8 129.6 513.3 70.9 520.1 267.1 506.4 163 496.6 125.3 506.3 67 522.2 263.8 513.6 271.6 476.5 154.3 518.6 96 512.3 204.9 532.2 111.4 535.6 163.5 484.6 59.1 512.3 129.5 541.2 241 489.7 229.7 477.6 162 513.3 241.9 511.4 83.1 525 98.3 547.2 151.7 519.3 52.4 502.9 220.6 521.6 261 499.1 48.3 532.9 258.8 467.4 206.8 508.8 208.4 495.7 51.7 539.8 256.8 479.2 121.9 504 254.4 473.9 87.6 532.4 204.6 482.7 174.3 442.8 165.8 489.6 68.7 505.7 45.9 559.8 161.8 524.6 165.4 534.6 242.2 524.9 229.9 491.4 229.4 507.1 256.9 513.9 80.7 488 84.8 535.2 169.1 493.9 229.6 518.1 163 509.9 213.3 508.2 157.3 524.9 205.9 526.7 274.3 523.8 233.4 493 98.1 516.6 129.7 523.3 58.2 519.3 174.8 483.3 151.8 499.6 149.8 510.5 84.7 497.2 244.2 485.1 159.1 502.8 181.3 526.9 226.4 484.3 169.2 505 208.4 487.4 68.8 542.3 89.3 501.7 181.9 526.1 102.8 529.4 201.1 492 143.9 497.5 216.2 512.6 52.7 513.4 208.2 492.8 279.9 509.3 220.3 511.2 258.9 489.3 249.5 498.1 66.6 505.2 159.2 544.7 252.3 474.2 164.8 485.2 181.3 531.1 242.2 489.5 162.2 506.7 197.8 527.9 125.2 528.8 71 533.6 274.6 489 134.1 548.4 271.7 450.5 172.6 482.9 87.5 522.4 184.6 471.4 66.8 526.6 71.3 541.6 65.3 535.1 274.3 480.8 46.3 525.5 66.9 512.1 110.3 507.8 58.4 519.3 176.9 523.1 238.1 499.4 279.2 486.7 179.1 526.8 136 538.7 279.2 485.2 87.5 522.4 220.7 528 270.1 505 205.1 515 134.3 527.8 98 514.7 146.3 487.7 58.2 529.5 150.1 521.7 141.2 507.5 251.9 515.6 252.5 499.7 110.3 533.5 66.7 516.6 75.6 506.9 152 502.1 205.7 524.9 77.5 488.2 280.9 480.1 270.1 468.1 238 498.2 197.8 526.1 108 528.2 241 501.4 100.4 517.6 184.6 488.3 105 516.6 270.4 494.1 110.6 532.5 191.1 486.5 151.8 540.9 48.7 542.4 75.4 507.1 165.6 511.9 74.1 532.4 118.2 502 151.9 499.7 109.8 538.2 66.4 526.9 100.7 521 92.4 523.7 73.5 511 180.9 494.6 281.4 494.4 143.3 497.2 66.9 515.6 143.9 510.3 168.8 537.1 249.4 510.8 55.1 536 104.6 520.6 154 491.5 244.6 491.1 271.5 501.9 256.6 505.3 52.1 536.6 46.4 490.3 138.3 522.4 80.7 509.9 154.7 501.8 204.9 504.7 256.4 506.5 107.7 506.5 229.6 484.5 150.1 522 150.1 509.5 110.1 523 118.3 531.1 107.7 498.3 64.5 529.7 233.5 485.9 122.9 512.9 67 504.9 116.1 525.7 220.3 521.8 218.2 508.4 127.9 530 205.1 480.7 224.3 515.2 146.3 516.3 68.8 492.9 210.4 483.9 151.7 511.2 235.7 505.8 241 488 266 466.1 75.4 544.9 110.2 510.6 80.7 555.3 200.9 523.9 118 499.6 210.9 497.4 281 510.9 143.4 532.9 169.1 531.1 61.4 518.3 61.8 503.6 192.7 512.6 136.1 502.3 271.7 485.9 162 507.3 210.5 498.6 206 521.7 138.7 532.1 66.8 496.7 271.6 483.7 270.1 526.8 226.8 516.2 271.4 495.9 170.4 503.2 217.7 523.4 66.8 528.5 178.9 497.1 110.1 553.5 177.2 525.8 55.1 496.6 201.4 519.1 98.5 537.3 111.2 510.5 263.5 518.4 163.3 527.5 184.7 525.1 206.3 543.1 154.3 548.2 61.8 537.8 204.9 529 61.7 545.4 236.1 505.2 110.2 511.2 141.2 527.5 233.2 507.2 141.4 497.6 247.2 524.9 149.8 499.1 218.1 499.1 172.6 548.1 77.9 520.5 174.8 553.4 82.4 534.7 200.8 502.6 192.7 460.2 213 490.1 263.6 497.7 98.6 533.7 55 513 58.8 526 103.2 510.6 140.7 497.2 159.8 516.8 127.7 518.7 254.6 507.6 226.5 510.7 132.6 534.9 116.1 489.8 93.6 507 50.4 519.8 143.4 496.2 93.6 508.3 165.5 524.4 184.9 512.2 249.2 478.9 66.9 508.8 195.1 502.9 210.6 515.4 174.4 523.8 102.8 525.3 154.2 487.8 232 499.8 271.8 511.2 256.4 470 121.1 499 197.8 500.6 208.6 491 213.3 528.7 258.7 492.5 151.8 546.5 122.9 520.3 65.2 503.8 185 496.9 188.6 518.3 75 516.2 59.1 533.4 52.5 527.6 136 535.2 103.2 497.9 240.9 456.8 116.2 521.2 281.3 491.1 266.9 497 184.8 485.5 269.9 496 96 495.7 240.6 478.9 220.9 515.2 168.6 515.3 132.8 525.5 270.2 500.2 216 538.8 220.7 525 82.5 506.3 96.6 519.2 110.1 539.6 134.1 474.4 143.2 507.1 267.2 524.5 159.1 509.8 132.9 489.9 271.5 481.5 125 496 46.3 518.5 252.1 492 104.6 524.3 192.2 518 143.4 549.4 201.3 495.1 77.4 536 233.6 528.2 48.7 530.2 159.4 511.4 240.8 511.8 256.1 515.3 241 486.8 277.1 475.5 129.5 505.8 92 537.3 181.3 522.6 194.8 537.1 274.5 480.4 161.8 540.7 202 529.6 204.9 538.8 184.1 531.7 242.3 501.7 132.5 524.3 218 527.2 138.1 503.9 110.3 524.5 210.5 488.3 89.3 500.9 186.5 490.5 52.5 524.7 159.4 489.5 181.5 495.9 51 530.3 148.6 509.5 204.8 479.3 71.4 498.1 175.2 503.8 152.5 532.9 129.5 488.7 146 534 123.1 518.1 270.5 478.6 225 478.4 175.1 500.5 222.1 475.7 215.9 500.9 220.7 471 58.4 532.6 136.6 497 252 502.7 226.9 504.4 143.4 540.6 59.1 528.6 96.7 529.9 197.6 490.3 220.8 483.8 172.3 529 197.8 467.8 50.8 499.1 227.2 530.1 220.7 511.9 171.9 495.3 244.8 484.3 279.3 498.9 73.9 502.2 281.2 500.2 82.9 510.5 122.8 503 48.6 502.2 191.2 541.9 200.5 454.8 151.8 492 52.5 524.9 200.5 473.1 66.9 552 151.1 526.9 186.3 469.6 61.6 513.1 82.2 526.2 123.1 543.9 54.9 548 115.8 531.3 279.5 499 213 503.3 254.7 485 140.6 492.5 267.1 489 108 529.6 118.2 523 177 514.1 161.8 540.6 114.1 544.1 272.4 502.8 81 524.4 261.1 483.3 204.6 513 274.3 459.4 55.2 515.9 96 501.5 256.7 511.8 256.4 471.9 233.6 464.6 107.8 515.5 200.9 524.2 232.1 486.7 151.8 525.3 75.5 515.6 118.3 504.2 125.1 532.6 200.5 502.1 206.3 519.7 230.3 491.1 93.4 560.7 188 504 141 509.1 103.7 513.2 252.3 476.4 154.2 501.1 159.4 521.1 80.7 482.1 218.1 499.6 277.4 497.6 159.2 474.3 143.6 509.9 176.8 536.5 84.6 503.4 205 486 146.4 535.3 229.9 476 129.4 497.4 151.8 529.9 267.3 516.1 110.5 513.5 149.9 520.7 116.2 533.4 216 528.6 208.4 476.3 61.7 549.5 192.6 524.8 255 499.1 237.9 510.4 136.2 496.1 118.2 497.5 174.7 513.5 266 464.6 80.4 514.8 50.8 516.3 184 503.7 213 525.6 186.2 524 121.6 504.6 224.7 497.7 148.6 489 80.9 498.6 274.3 472 256.2 487.9 129.5 543.5 165.4 538.9 272 491.6 150 546.7 180.8 491.2 45.9 557.3 242.1 501.9 146.3 524.8 242 514.1 64.9 537.2 159.2 532.1 242.2 517.2 146.5 491.1 197.4 505.1 151.4 505.8 236.2 495.2 242.5 506.4 165.4 500.7 107.5 522.7 185 527.1 281.2 470 192.7 475.4 102.5 509.5 65.4 535.2 111.1 539.8 146.6 513.3 279.4 500.1 258.6 492.6 192.6 502.3 220.7 466 263.5 479 154.6 487.7 110.1 509.6 162.9 499.3 185.9 506.3 210.4 486 96.3 538.8 185.8 532.4 148.1 537.8 172.5 515.8 197.8 475.5 152 517.8 174.3 449.8 188.5 481.8 254.7 507.8 200.4 494.4 271.7 466.9 261.1 527.7 100 534.4 184.6 524.1 157.1 499.2 93.4 489.2 232.5 496.6 222.2 514.4 73.6 535 258.8 492.5 157.7 479.7 172.3 513.8 87.3 532.7 110.5 539.9 231.9 520.7 205.1 495.2 205.1 478.9 132.8 554.1 233.6 481.3 111.7 536.7 210.9 506.3 114.1 524.9 151.8 545.9 52.8 537.8 77.3 530.6 210.6 481.6 50.4 513.7 138.3 493.7 132.8 486.5 92.2 547.7 71.4 506 190.8 486.5 132.4 507.7 191.2 466.2 59.2 507.8 61.5 507.9 192.8 500.7 181.3 495.8 170.1 507.9 170.9 506.1 162.8 511.3 241 489.6 116 504 261.1 475.3 110.5 501.1 151.9 509.3 224.9 524.3 96.1 543.2 206.5 509.1 176.8 479.2 110.2 515.7 249 495.8 208.6 515 267.2 468.3 271.4 506.7 179.6 492.9 206.3 512.6 87.6 502.8 157.9 496.7" fill="none" stroke="none" marker-start="url(#m)" marker-mid="url(#m)" marker-end="url(#m)"/>
<text transform="translate(40.4 630.9)" text-anchor="middle" font-size="10.2">1</text>
<text transform="translate(85 630.9)" text-anchor="middle" font-size="10.2">1.02</text>
<text transform="translate(129.6 630.9)" text-anchor="middle" font-size="10.2">1.04</text>
<text transform="translate(174.3 630.9)" text-anchor="middle" font-size="10.2">1.06</text>
<text transform="translate(218.9 630.9)" text-anchor="middle" font-size="10.2">1.08</text>
<text transform="translate(263.5 630.9)" text-anchor="middle" font-size="10.2">1.1</text>
<text transform="translate(308.1 630.9)" text-anchor="middle" font-size="10.2">1.12</text>
<text transform="translate(36.2 621)" text-anchor="end" font-size="10.2">0.95</text>
<text transform="translate(36.2 569.8)" text-anchor="end" font-size="10.2">1</text>
<text transform="translate(36.2 518.6)" text-anchor="end" font-size="10.2">1.05</text>
<text transform="translate(36.2 467.5)" text-anchor="end" font-size="10.2">1.1</text>
<text transform="translate(36.2 416.4)" text-anchor="end" font-size="10.2">1.15</text>
<text transform="translate(173.9 644.7) scale(1.042 1)" text-anchor="middle" font-size="11.0">Actual Thermal Conductivity, k(W/mK)</text>
<text transform="translate(10.9 513.9) rotate(-90)" text-anchor="middle" font-size="10.92296875">Predicted Thermal Conductivity, k(W/mK)</text>
<text class="cap" transform="translate(168 673.8)" text-anchor="middle" font-size="19.3">(b)</text>
<path d="M406.5 412.5V621.3M474.4 412.5V621.3M542.4 412.5V621.3M610.3 412.5V621.3M678.2 412.5V621.3M406.5 621.3H678.2M406.5 595.2H678.2M406.5 569.1H678.2M406.5 543H678.2M406.5 516.9H678.2M406.5 490.8H678.2M406.5 464.7H678.2M406.5 438.6H678.2M406.5 412.5H678.2" stroke="#eeeeee" stroke-width="1.5" fill="none"/>
<path d="M406.5 412.5H678.2V621.3H406.5ZM406.5 621.3v-2.7M406.5 412.5v2.7M474.4 621.3v-2.7M474.4 412.5v2.7M542.4 621.3v-2.7M542.4 412.5v2.7M610.3 621.3v-2.7M610.3 412.5v2.7M678.2 621.3v-2.7M678.2 412.5v2.7M406.5 621.3h2.7M678.2 621.3h-2.7M406.5 595.2h2.7M678.2 595.2h-2.7M406.5 569.1h2.7M678.2 569.1h-2.7M406.5 543h2.7M678.2 543h-2.7M406.5 516.9h2.7M678.2 516.9h-2.7M406.5 490.8h2.7M678.2 490.8h-2.7M406.5 464.7h2.7M678.2 464.7h-2.7M406.5 438.6h2.7M678.2 438.6h-2.7M406.5 412.5h2.7M678.2 412.5h-2.7" stroke="#9a9a9a" stroke-width="1.4" fill="none"/>
<path d="M406.5 489.9V539.5M413.3 489.5V548.0M420.1 488.9V527.8M426.9 486.8V517.3M433.7 485.3V519.4M440.5 484.0V515.2M447.3 478.3V544.8M454.0 480.4V519.4M460.8 483.6V542.7M467.6 485.3V521.5M474.4 481.5V527.8M481.2 481.5V537.4M488.0 477.2V525.8M494.8 477.2V527.8M501.6 470.9V530.0M508.4 473.0V534.2M515.2 471.9V531.1M522.0 470.9V525.8M528.8 469.8V528.9M535.6 467.7V517.3M542.4 474.1V521.5M549.1 473.0V517.3M555.9 465.6V506.7M562.7 434.9V516.2M569.5 461.4V514.1M576.3 466.7V517.3M583.1 456.1V518.4M589.9 460.3V519.4M596.7 456.1V510.9M603.5 464.5V499.3M610.3 470.9V510.9M617.1 463.5V510.9M623.9 462.4V506.7M630.7 454.0V506.7M637.4 475.1V512.0M644.2 455.0V510.9M651.0 467.7V509.9M657.8 464.5V510.9" stroke="#0072bd" stroke-width="5.2" stroke-linecap="round" fill="none"/>
<path d="M406.5 494.1 406.5 501.6 406.5 529.6 406.5 518.8 406.5 494.6 406.5 511.4 406.5 513.7 406.5 497.8 406.5 545.9 406.5 542.6 413.3 532.5 413.3 496.1 413.3 512.4 413.3 519.7 413.3 514.7 413.3 523.8 413.3 532.7 413.3 545.4 413.3 506.1 413.3 485.3 420.1 514.1 420.1 516 420.1 500.3 420.1 489 420.1 526.8 420.1 500.5 420.1 547.4 420.1 544.1 420.1 540.8 420.1 537.5 420.1 534.2 420.1 530.9 426.9 496.4 426.9 514 426.9 504.6 426.9 501.2 426.9 510.4 426.9 545.9 426.9 542.6 426.9 539.3 426.9 536 426.9 532.7 426.9 529.4 426.9 526.1 426.9 522.8 426.9 519.5 433.7 486.3 433.7 509.4 433.7 498.1 433.7 488.4 433.7 507.8 433.7 545.9 433.7 542.6 433.7 539.3 433.7 536 433.7 532.7 433.7 529.4 433.7 526.1 433.7 522.8 440.5 513.1 440.5 490.5 440.5 503.7 440.5 493.3 440.5 507.1 440.5 543.1 440.5 539.8 440.5 536.5 440.5 533.2 440.5 529.9 440.5 526.6 440.5 523.3 440.5 520 440.5 516.7 447.3 526.3 447.3 492.8 447.3 533.5 447.3 522 447.3 523.7 447.3 532.8 447.3 506.8 447.3 528.8 447.3 536.7 447.3 485.1 447.3 534.8 454 495.8 454 499.1 454 486.1 454 507.6 454 491.8 454 514.4 454 545.9 454 542.6 454 539.3 454 536 454 532.7 454 529.4 454 526.1 454 522.8 460.8 499.9 460.8 516.8 460.8 507.2 460.8 519.8 460.8 495.2 460.8 494.3 460.8 527.7 460.8 528.1 460.8 517.1 460.8 471.9 460.8 475.2 460.8 478.5 460.8 481.8 467.6 518.6 467.6 492.7 467.6 516.1 467.6 491.4 467.6 520.2 467.6 507.9 467.6 533.8 467.6 530.5 467.6 527.2 467.6 523.9 474.4 509.6 474.4 526.4 474.4 517.9 474.4 518.1 474.4 484 474.4 498.6 474.4 485.4 474.4 471.9 474.4 475.2 474.4 478.5 474.4 536.8 474.4 533.5 474.4 530.2 481.2 492.3 481.2 493.5 481.2 529.5 481.2 488.6 481.2 498.1 481.2 509.1 481.2 529 481.2 535.5 481.2 521.1 481.2 473 481.2 476.3 481.2 479.6 488 487.6 488 503.7 488 511.5 488 479.7 488 510.2 488 495.1 488 505.9 488 509.7 494.8 511.1 494.8 503.7 494.8 505.3 494.8 487.2 494.8 502.3 494.8 483.5 494.8 501.5 494.8 504.3 494.8 468.3 494.8 471.6 494.8 474.9 494.8 533.2 494.8 529.9 501.6 516.6 501.6 494.2 501.6 472.1 501.6 502.1 501.6 483 501.6 514.7 501.6 493.9 501.6 493.4 501.6 524.6 501.6 464.5 501.6 467.8 508.4 497 508.4 494.3 508.4 494.3 508.4 502.4 508.4 478.7 508.4 506.5 508.4 529.4 508.4 507.5 508.4 518.5 508.4 531 508.4 463.5 508.4 466.8 508.4 470.1 515.2 521.8 515.2 515.9 515.2 520 515.2 520.5 515.2 486.9 515.2 500.4 515.2 492.2 515.2 487.4 515.2 505.7 522 488.4 522 504.9 522 502.9 522 476.6 522 495.2 522 492.3 522 509.7 522 475.7 522 480.2 522 463.5 522 466.8 528.8 500.1 528.8 493.7 528.8 509.1 528.8 489.5 528.8 481.5 528.8 524.9 528.8 484.2 528.8 478.5 528.8 486.3 528.8 461.4 528.8 464.7 528.8 468 535.6 484.6 535.6 478.9 535.6 494.3 535.6 514.2 535.6 474 535.6 488.3 535.6 500.8 535.6 511.6 535.6 527.8 535.6 524.5 535.6 521.2 542.4 521.5 542.4 480.9 542.4 499.6 542.4 515.9 542.4 476.6 542.4 502 542.4 482.3 542.4 460.3 542.4 463.6 542.4 466.9 542.4 470.2 542.4 531.1 542.4 527.8 542.4 524.5 549.1 507 549.1 514.5 549.1 496.8 549.1 473.4 549.1 475.8 549.1 491.4 549.1 510.5 549.1 464.5 549.1 467.8 549.1 471.1 549.1 525.8 549.1 522.5 549.1 519.2 555.9 475.3 555.9 493.1 555.9 482.3 555.9 476.5 555.9 494.5 555.9 478.3 555.9 451.8 555.9 455.1 555.9 458.4 555.9 461.7 555.9 515.2 555.9 511.9 555.9 508.6 562.7 465.1 562.7 497.1 562.7 475.2 562.7 498.6 562.7 476.9 562.7 447.9 562.7 471 562.7 505.9 562.7 480.8 562.7 513.3 562.7 435 562.7 462.6 562.7 497.4 569.5 497.6 569.5 491 569.5 496.4 569.5 507.6 569.5 497.4 569.5 490.2 569.5 491 569.5 496.5 576.3 483.1 576.3 500.6 576.3 497.8 576.3 506.5 576.3 491 576.3 468.1 576.3 493.9 576.3 510.1 576.3 455.6 576.3 458.9 576.3 462.2 576.3 465.5 576.3 520.5 583.1 496 583.1 496.2 583.1 480.5 583.1 478.3 583.1 500.9 583.1 460.9 583.1 510.1 583.1 510.7 583.1 516.1 583.1 464.6 583.1 450.8 583.1 454.1 589.9 467.1 589.9 513.1 589.9 484 589.9 476.3 589.9 482.9 589.9 499.3 589.9 469.8 589.9 489.1 589.9 499.3 589.9 447.2 589.9 450.5 589.9 453.8 589.9 457.1 596.7 495.6 596.7 456.8 596.7 500.5 596.7 479.9 596.7 480 596.7 486.9 596.7 471.5 596.7 504.7 596.7 467.7 596.7 515.2 603.5 483.4 603.5 470.3 603.5 485.9 603.5 495.9 603.5 495.2 603.5 452.9 603.5 456.2 603.5 459.5 603.5 462.8 603.5 507.8 603.5 504.5 603.5 501.2 610.3 476.3 610.3 495.9 610.3 506.6 610.3 478.9 610.3 487.5 610.3 499.4 610.3 465.6 610.3 468.9 610.3 516.8 610.3 513.5 617.1 498.5 617.1 484.9 617.1 493.8 617.1 495.2 617.1 480.2 617.1 494.4 617.1 490.9 617.1 460.3 617.1 514.8 623.9 493.3 623.9 485.1 623.9 477.3 623.9 481.6 623.9 503.3 623.9 470.7 623.9 469 623.9 447.6 623.9 450.9 623.9 454.2 623.9 457.5 623.9 460.8 630.7 454.6 630.7 498.9 630.7 506.1 630.7 466.5 630.7 468 630.7 464.5 630.7 485.6 630.7 479.6 630.7 440.8 630.7 444.1 630.7 447.4 630.7 450.7 630.7 522.6 630.7 519.3 630.7 516 630.7 512.7 630.7 509.4 637.4 505.4 637.4 482.8 637.4 507.5 637.4 492.2 637.4 504.9 637.4 504.7 637.4 439.6 637.4 442.9 637.4 446.2 637.4 449.5 637.4 452.8 637.4 456.1 637.4 459.4 637.4 462.7 637.4 466 637.4 469.3 637.4 472.6 644.2 505.9 644.2 482.9 644.2 489.1 644.2 486.4 644.2 465.6 644.2 483 644.2 506.8 644.2 505.8 644.2 456.2 644.2 441.7 644.2 445 644.2 448.3 644.2 451.6 651 495.7 651 481.5 651 473.4 651 473.6 651 501.2 651 508.2 651 489.7 657.8 482.3 657.8 488.2 657.8 503 657.8 499.1 657.8 467.5 657.8 474.4 657.8 504.8 528.8 551.8 528.8 553.5 528.8 555.2 528.8 556.7 528.8 558.3 528.8 559.8 528.8 561.2 528.8 562.8 528.8 564.9 528.8 565.9 528.8 567.9 528.8 569.6 528.8 570.8 528.8 572.3 528.8 574.1 528.8 575.7 528.8 577.4 528.8 579 528.8 580.9 528.8 582 528.8 584.1 528.8 585.1 528.8 587.3 528.8 588.5 528.8 590.3 528.8 591.5 528.8 593.4 528.8 595.1" fill="none" stroke="none" marker-start="url(#m)" marker-mid="url(#m)" marker-end="url(#m)"/>
<text transform="translate(406.5 635.8)" text-anchor="middle" font-size="10.2">4</text>
<text transform="translate(474.4 635.8)" text-anchor="middle" font-size="10.2">4.1</text>
<text transform="translate(542.4 635.8)" text-anchor="middle" font-size="10.2">4.2</text>
<text transform="translate(610.3 635.8)" text-anchor="middle" font-size="10.2">4.3</text>
<text transform="translate(678.2 635.8)" text-anchor="middle" font-size="10.2">4.4</text>
<text transform="translate(402.6 626.2)" text-anchor="end" font-size="10.2">3.7</text>
<text transform="translate(402.6 600.1)" text-anchor="end" font-size="10.2">3.8</text>
<text transform="translate(402.6 574)" text-anchor="end" font-size="10.2">3.9</text>
<text transform="translate(402.6 547.9)" text-anchor="end" font-size="10.2">4</text>
<text transform="translate(402.6 521.8)" text-anchor="end" font-size="10.2">4.1</text>
<text transform="translate(402.6 495.7)" text-anchor="end" font-size="10.2">4.2</text>
<text transform="translate(402.6 469.6)" text-anchor="end" font-size="10.2">4.3</text>
<text transform="translate(402.6 443.5)" text-anchor="end" font-size="10.2">4.4</text>
<text transform="translate(402.6 417.4)" text-anchor="end" font-size="10.2">4.5</text>
<text transform="translate(407.6 410)" font-size="10.2">&#215;<tspan dx="1.6">10</tspan><tspan font-size="7.8" dx="1.2" dy="-5.4">6</tspan></text>
<text transform="translate(653.2 652.8)" font-size="10.2">&#215;<tspan dx="1.6">10</tspan><tspan font-size="7.8" dx="1.2" dy="-5.4">6</tspan></text>
<text transform="translate(542.4 653.6) scale(1.068 1)" text-anchor="middle" font-size="11.0">Actual Heat Capacity, <tspan font-style="italic">&#961;</tspan>Cp(J/m<tspan font-size="7.5" dy="-4.3">3</tspan><tspan dy="4.3">K)</tspan></text>
<text transform="translate(382.6 517) rotate(-90)" text-anchor="middle" font-size="11.306666666666667">Predicted Heat Capacity, <tspan font-style="italic">&#961;</tspan>Cp(J/m<tspan font-size="7.5" dy="-4.3">3</tspan><tspan dy="4.3">K)</tspan></text>
<text class="cap" transform="translate(536.1 673.7)" text-anchor="middle" font-size="19.3">(c)</text>
<path d="M39.7 696.5V893.2M106.9 696.5V893.2M174.1 696.5V893.2M241.2 696.5V893.2M308.4 696.5V893.2M39.7 893.2H308.4M39.7 844.8H308.4M39.7 796.4H308.4M39.7 747.9H308.4M39.7 699.5H308.4" stroke="#eeeeee" stroke-width="1.5" fill="none"/>
<path d="M39.7 696.5H308.4V893.2H39.7ZM39.7 893.2v-2.7M39.7 696.5v2.7M106.9 893.2v-2.7M106.9 696.5v2.7M174.1 893.2v-2.7M174.1 696.5v2.7M241.2 893.2v-2.7M241.2 696.5v2.7M308.4 893.2v-2.7M308.4 696.5v2.7M39.7 893.2h2.7M308.4 893.2h-2.7M39.7 844.8h2.7M308.4 844.8h-2.7M39.7 796.4h2.7M308.4 796.4h-2.7M39.7 747.9h2.7M308.4 747.9h-2.7M39.7 699.5h2.7M308.4 699.5h-2.7" stroke="#9a9a9a" stroke-width="1.4" fill="none"/>
<path d="M191.4 785.2 300.6 706.3 151.2 810.8 170.9 799 297.8 706.6 130.3 824.7 99.5 847.5 171.1 797.3 70.8 870.2 177 791.4 142.2 819.3 105.5 846.1 107.8 847.5 298.1 708.7 283.3 717.4 253.3 739.5 163.8 805.7 272.9 719 128.7 829.2 79.2 863.1 109.3 844.5 298.9 702.9 96.2 849.8 71.9 850.1 67.5 873.2 297.7 707.8 156.1 807.7 190.6 779.5 147.3 816.8 141.2 821.7 147.1 816.7 276.1 723.7 209.2 767.9 159.9 805.8 240.6 742.9 276 719.9 90.5 852.4 94.1 851.8 278.7 721.1 111 842.9 228.1 758.1 162.6 807 68.5 877.6 297 706.9 267.9 732.9 191.6 780.7 169.9 796.5 282 718 192.2 785 153.1 812.8 163.7 807.8 117.4 837.4 180.6 791.9 74.1 866.2 210.1 766.7 301.4 697.5 257.5 732 188.2 787 202 772.3 300.3 701 96.4 848.2 100.1 850.9 114.5 839.4 164.8 803 285.3 714.3 179.4 792.7 149.2 810.5 249.2 739.9 189.8 783.2 85.4 858 216.3 765 240 742.4 97.7 850 199.8 773.6 184.5 791 288.8 709.4 303.6 706.8 208.6 773.1 177.3 793.7 129 831.3 73.3 866.6 199.7 777.6 217.8 764.2 240 747.1 283.4 717.7 163.7 803.1 204.2 775.8 266.7 728.8 274.3 720.7 203.8 775.9 225.7 757.2 241.8 743.9 70.3 871.2 143.3 816.4 293.6 706.1 140.1 822 87 855.6 161.3 803.7 88.2 859.6 128.6 829.4 176.4 795.3 296 703.9 223.2 760.6 161.9 802.3 227.9 756.9 82.7 848 182.4 788.3 154 806.3 168.6 798.1 141.7 819.7 276.3 725.8 208.4 773.2 253.1 732.7 263.1 737.2 195.4 776.8 120 840.6 132.4 826.1 220.6 764.6 217.6 762.3 269 721.8 245.5 743.1 190.8 780.8 73.4 867.6 175 796.2 143.8 816.7 216.4 763.6 246.2 743.4 218.7 763.1 260.1 729.5 92.1 853.5 222.7 761.9 265.1 730.6 153.2 809.4 120.7 835 144.1 817.1 89.5 857.1 254.6 739.4 125.9 831.8 96.7 850.5 302.5 700.9 93.8 853 114 838.1 222 760.9 292.5 709.1 249.7 743.5 246.1 744.6 149.8 810.7 132.1 824 156.9 806.5 279.9 718 172.1 797.2 117.7 837.2 149.9 812.9 172.1 797.4 173.4 794.5 228 756.8 138 816.3 119.1 836.1 291 707.7 281.2 715.3 177 795.3 122.1 832.7 218.1 762.5 215.2 763.5 298.7 696.9 190 784.2 274.4 721.1 256.6 735.7 299.3 709.8 146.2 815.6 90.1 855.8 146.4 815.5 88.5 857.2 109.9 840 254.6 735.4 199.7 779.9 196.1 775.4 263.1 735.4 72.8 869.1 185.7 791.5 153.2 811.8 176.1 794.7 196.7 778.4 216 764.3 276.3 719.4 224.4 757.9 120.7 834.7 261.3 737.3 99.6 848 90.8 853.8 97.8 847.1 200.9 772.6 269.5 732.8 211.5 764.8 210.1 768.7 111.2 842.7 268.8 728.7 278.1 718.1 210.4 768.7 191.9 784.3 153.2 810.9 146.6 813.3 149.1 814.7 158.3 805.8 78.4 863.5 70.2 870.9 148.6 818.7 82.7 835 254 739.3 146 818.2 264.3 732 75.5 867.6 215.7 763.7 293.7 711.1 224.7 762.8 201.5 777.8 147.8 816.4 241.9 743.6 275.6 721.3 206.9 774.9 263.1 734.5 92.7 851.4 300 703.3 171.9 800.9 68.9 874.9 106.1 845.4 71.9 863.1 298 703.6 273.7 725.6 185.9 788.6 113.3 839.6 142.1 821.6 191.6 782.8 189.4 785.4 211.9 767 82.7 840.2 196.5 779.4 238.9 746.3 140.9 816.6 156.5 806 226.6 756.6 223.8 756.9 227.2 756.9 176.1 791.1 155.6 805.6 164.6 804.1 198.7 778.6 99 849 131.2 824.2 105.7 845.8 93.4 851.9 300.4 710.1 90.2 854.5 92.6 852 302.3 699.4 270.3 729.6 282.8 713.7 108.1 841.4 307.5 701.1 79 864.6 263.4 728 82.7 846.7 281.7 723.2 152.7 809.8 224.3 757.7 181.2 786 273 720.9 101.6 848.3 287.9 712.6 257 734 187.8 785.5 76.5 866.6 192.1 784.1 67.9 872.9 213.8 768.4 149.5 814.2 229.9 753.9 109.3 841.6 72.6 869.3 224.9 756 293.2 707.8 258 728.7 162.2 804.8 67.5 874.8 150.8 812.1 275.5 729.4 161.1 805.4 226.1 760.7 120.7 830.1 117.3 838.5 228.6 755.6 106.7 847.1 142.6 818.9 230.5 755.2 269.7 725.1 301.6 704.7 149.7 813.6 181.8 789.3 188 787.3 260.5 733.4 255.1 738.3 243 743.5 251.6 740.3 223.5 761 198.4 779.4 263.8 732.6 122.3 834.4 110.8 842.7 243.4 744.7 181.2 786.9 270.6 721.6 76.6 867.2 127.2 831.2 281.8 714.5 150.5 812 121.9 832.8 285 712.6 223.8 757.8 224.3 756.9 204.9 773.5 173.5 796.1 110.7 841.2 243.8 745.2 109.1 842.3 289.4 717 85.4 860.7 157.5 807.6 162.2 804.7 214.7 762.8 267.9 727.5 289 717.9 240.9 749.8 218.6 762.1 83.7 859.6 173.5 794.2 153.7 809.4 113.3 839.4 227.5 754.2 142.9 818.3 99.2 847.1 95.1 851.7 68.5 871.3 247.9 740.6 261.1 733.9 181.4 789.3 137.7 824.1 171.1 793.3 132 827.3 85 861.8 121.4 832.3 206.9 769.3 91.9 855.3 112.8 839.1 156.3 807.5 241.7 747.6 248.7 745.8 103.1 847 126.9 831 277.6 716.6 115 839.5 86 856.7 262 732.1 155.6 809.3 238.1 748.3 263.9 725.5 226.1 759.7 195.8 780.9 68.9 876.8 296.7 704.8 290.8 709.5 281.6 719.6 226 758.6 95 851.1 149 811.9 124.7 831.2 89.5 856.2 191.1 781.7 200.8 778.4 163.2 802.1 154.4 808.7 260.4 733.8 294.3 709.3 295 705 120.9 832.1 72.6 868.4 236.2 751.1 114.6 836.3 282.3 721.1 119.8 836.2 224.5 756.4 93.9 850.3 110.3 843.9 136.4 827.1 140.1 818.3 170.2 802 68.9 872.7 296.4 707.7 79.7 865.3 191.8 782 258.1 733.2 281.4 714.7 182.9 786.6 84.6 860.1 255.6 728.8 168.1 800.3 304.6 703.3 155.4 810.1 285.1 714.4 133.3 830.7 282.8 715.4 268.6 725.3 179.4 790.4 215.8 761.8 121.8 832.3 127 829.9 214.1 766.1 297.4 703.6 151.4 813.1 69.8 871.3 257.8 737.4 156.6 804.7 84.9 857.3 229.7 756 306.9 697.5 74.6 865.6 176.4 793.1 71.9 856.6 203.7 775.7 69.1 873.7 179.4 793.5 306.4 702.6 150.7 813.5 73 870.1 217.6 760.7 147.8 814.1 305.3 701.4 187 784.1 182.8 786 288.7 711.6 127.3 831.5 127 811.7 153.7 810.9 202.1 774.3 134.7 822 246.1 744.4 120.5 831.3 212.2 764.9 167.7 800.7 265.3 727.4 174.6 796.7 213.9 766.2 191.6 784.7 230 757.2 251.8 737.7 157.5 806.3 251.2 740.9 67.5 874.7 200.7 781.3 82.7 844.1 281.7 716.7 227.8 754.8 262.8 740.5 285.4 714.9 282.9 712.3 149.3 811.9 183.9 787.5 96.4 850 92.9 853.9 198.4 778.8 262.2 731.1 111.7 842.3 211.5 766.4 303.2 697 123.1 829.9 155.2 812.6 82.7 851.9 67.8 877.1 202.2 768 220.7 760.3 278.3 720.6 295.8 702.1 243.6 748.2 215.8 767.8 237.1 749.4 235.9 750.3 201.4 774.4 127 830.1 220.3 760.4 262.5 736.2 169.4 796.9 275.3 724.2 168.4 800.5 238.9 747.2 177.5 789.5 145.1 812.6 285.6 714.3 73.3 865.8 266.6 729.4 133.2 828.2 184.4 788.8 276.4 723.2 186.8 782.9 93.6 854 272 723.1 93.8 850.9 149 813.8 190 779.4 287.1 710.2 260.6 733 154 812.2 79.7 863.9 113.8 841.5 201.2 776.6 134.9 826.8 153.9 810.9 112.2 840.8 270.2 722.1 176.7 791.1 77 865.8 260.6 731.9 111.2 841.9 158.6 810.6 222.8 760.8 159.6 808.2 145.2 816.7 98.1 847.3 297.1 703.3 263.4 730 255.7 739.6 190.3 784.8 86.4 857.9 153.7 811.4 154.4 811.1 96.1 850.8 103.8 847.7 199.8 777.9 209.5 771.2 255.7 733.6 193.4 781.2 241.2 745 301.8 698.2 162.8 804.5 239.6 751.6 164.4 803.7 67.2 873.3 122.2 832.8 284.5 716.5 107 845 303.8 698.5 104.3 843.7 178.6 791 101.2 848.2 154.5 807.7 217.4 764.5 251.8 733.2 128.1 828.8 207.8 768.6 297.7 700 113.6 843 142.8 818.5 202.3 772.1 83.5 864.7 164.7 804.9 234 747.8 198.7 776.9 71.9 847.5 283.7 719.8 74.3 867.5 237.4 745.1 263.9 732 307.7 700.1 121.9 833.2 301.5 699.8 162.3 803.6 146.6 814.9 119.1 834 80.9 863.4 187.6 786.7 212.4 766 296.3 710.8 87.1 859 97.5 847.5 75 867.8 239.8 748.2 86 861.3 187.2 787 67.5 872.3 287.7 717.4 103.6 846.4 149.4 814.5 228.8 755 173.5 794.6 164.2 801.8 164.4 802.8 169.6 800.9 248.7 738.9 82.2 859.6 80.6 863.9 139.8 820 191.8 787.1 249.9 740.1 112.7 840 299.5 705.4 244.6 744.7 206.3 773.3 179.9 793.9 250.2 740 91.3 855.4 78.7 862.2 167.9 799.3 79.2 865 181.7 794.5 72.6 868.3 202.7 772.4 230.4 754.4 211.6 767.2 183.5 786.4 258 734.9 235.5 748.3 200.5 776.8 210.4 771.6 106.7 844.9 146.1 818.7 141.9 821.7 216.9 764.6 297 708.9 273.8 722.8 108.1 841.9 131.3 829 135.7 824.5 252.9 736 299 699 186.5 788 209.1 772.7 67.2 872.6 82.7 849.3 199.7 775.5 268.1 728.4 76.8 867.4 240.3 748.5 292.3 708.8 282.6 713.7 139.1 821.4 218.6 762.6 256.6 733.6 204.9 774 203.4 776 266.7 729.4 202.5 777.3 96 850.7 170.4 800.4 141.1 820.9 193.2 778.7 164.7 801.1 109.3 843.3 128.6 829.6 133.8 826.7 229.6 755.1 183.2 790.1 127.7 830.9 84.2 860.6 240 748.8 238.1 748.1 122.3 832.2 223.9 757.6 275.1 715.1 124.5 831.1 86 857.8 228.1 756.5 206.3 773.1 148.3 811.9 285.5 717.6 83.1 861.1 66.1 874.4 279 718.6 123.3 832.2 171.3 798.5 198.1 781.4 256.4 742.6 296.5 698.9 76.3 866.8 159.3 805.1 290.2 713.2 82.7 829.8 134.9 829.5 300.6 704.6 131.8 827.6 265.3 730.4 301.6 697.2 283.6 717.2 86.3 861.2 183.2 790.8 192.8 776.9 243.8 743.5 294.2 710.1 86.6 860.3 252.2 736.9 86.4 860.7 127.8 829.8 121.8 837.4 117.8 836 244.9 741.6 109.4 841.9 115 835.7 228.5 759.5 162.1 804.9 292.7 711.5 85.5 857.8 75.5 868.1 192.5 781.8 291.1 714.1 193.9 782.1 209.6 770.3 237 749 159.4 805.8 154.1 813 219.6 759.4 237.1 747.5 298.1 699.7 71.5 871.9 237.2 751.5 190.9 782.2 232.5 755 152.4 811.9 114.6 838.3 85.4 859.6 172.5 797.5 140.4 822 291.4 701.3 109.4 845.3 249.2 737.3 166.4 799.2 92.3 849.7 93.6 851.6 67.5 871.8 68.6 873.2 94.3 849.4 114.5 843.1 216.1 763 68.8 873.7 111.1 841.5 298.3 699.5 285.9 721.7 173.2 798.5 282.8 717.3 183.2 789.6 210.5 768.6 156 804.6 226.6 755.8 177.7 797.6 81.2 862.7 69.6 875.3 256.4 736.7 87.3 856.1 78.1 866.2 232.3 758 145.4 816.2 69.6 873.3 135.2 826.2 171.7 798.2 236 752.4 84.1 864 292.2 706.9 246.6 742 225.6 756.6 217.9 760.2 196.9 773.5 172.2 796.7 138.4 820.6 157 808.5 133.5 824.9 166.8 800.7 219 762.9 202.2 774.7 252.5 737.4 141.1 818.1 93.2 850.9 186.2 783.8 276.4 718.2 256.2 733.9 117.7 840.1 232.6 751.1 106.3 842.9 252.2 743 205 768.2 276.2 718.6 246.3 740.5 302.6 705.7 133.1 826.4 84.3 861.2 277.5 718.8 189.8 784.2 91.9 855.1 135.7 823.8 200.1 776.6 197.4 779.3 118.3 832.7 169.5 797.4 187.4 784.7 98.7 848.8 123 832.4 84.5 859.9 294.6 709.5 71.5 870.4 232.2 756.3 303.9 699.5 137.1 822.5 71.9 860.5 249.6 743.3 223.1 761.9 202 774.6 138.2 821.7 292.6 714.9 71.9 852.7 105.8 844.6 237 746.7 134 822.1 196.5 778.2 190.7 781.7 157.7 809 122.9 832.9 293.8 707.9 100.6 847 88.2 857.5 299.1 698.4 131.5 827.7 189.9 786.1 189.1 786.3 69 874.2 154 806.7 293.2 703 299.6 710.4 118.2 835.4 176.2 796.6 192.8 780.8 136.9 822.9 177 793.5 71.9 855.3 298.4 707.8 124 837.1 213.8 766.8 90.6 854.8 135.3 826.3 253.6 735.6 223.5 759.1 134.4 824.2 108.1 844.8 155.3 807.4 255.6 735.8 243 743 161.3 805.1 187.2 784.7 294.3 714.6 92.9 854.9 94.2 854.1 93.7 852.8 95.8 852.5 167 797.9 183.5 786.8 220 760.9 157.1 807.7 85.4 857.7 199.1 776.3 280.7 720.8 130.4 829.1 111.5 839.3 119.6 834.6 258.7 734.8 119 836.3 179.5 793.1 82.7 858.4 184.1 787 180.6 789.2 129.7 829.8 259.7 737.5 209.9 770.7 200.1 776.5 101.5 848.1 282.4 715.6 116.1 836.3 82.7 857.1 96.5 851.2 143.5 817.1 171.6 795.6 213.8 768.1 177.8 796.3 258.1 727.6 126.6 832.1 235.3 752.5 176.6 793.8 231.2 751 72.7 868.6 204 774.5 182.9 786.9 83 862.1 253.5 731.7 83.7 860.6 206.5 773 86.2 861 234.2 752.6 104.1 845.3 112.8 840.9 82.7 836.3 265.7 729.3 91.8 852.5 183.4 791.6 285.6 718.2 156.1 807 292.5 707.6 72.8 867.2 272.3 728 151.7 810.2 116.4 835.1 127 831.2 204.7 768 92.9 853.1 166.9 806.8 121.1 831.1 117.3 837.2 114.7 840.3 192.9 782.1 82.7 838.9 132.9 824.2 154.2 811.6 300.9 699.8 72.4 869.4 82.7 861.6 149.2 809.4 126.8 834 201.5 775 138.2 823.4 204.2 773.2 184.7 792.4 95.4 850.9 230.1 752.2 71.9 865.7 212.1 769.5 76.2 866.2 195.8 779 69.3 870.5 208.9 771.6 158.4 808.1 100.9 844.8 128.4 827.3 201.1 772.8 95.3 850.3 159.9 807.4 160.8 802.3 135.8 824.4 238.1 747 194.9 780.6 201.8 774.8 136.7 823.6 290.2 712 259.6 737.1 225.5 758.4 69.7 872.9 283.4 718.1 127 827.3 196.7 779.4 112.7 837.5 148.9 812.8 106.6 843 116.8 840.5 218.1 763.6 126.6 828.5 244.5 746.4 206.5 771 170.7 796.3 242.9 742.9 257.3 733.7 243.2 745 245.9 750.2 223.8 760.3 114.4 840.2 83.2 863.9 88.1 856.6 262.2 735.2 149.1 811.2 280.7 717.1 155.4 808.4 146.4 817.4 283.6 711.2 87.6 855.4 300 704.4 132.6 825.6 306 706.1 258.6 730 304.2 702.3 129 829.9 127 822.1 117.9 834.3 126.4 826.6 188.1 786.1 292.2 709.4 121.9 831.5 131.5 827.2 268.2 726.1 108.3 844.8 178.4 790.7 276.1 724.6 97.4 850 249 744.1 308 697.7 148.4 813.5 127.6 830 299.2 705.4 151.6 814.4 284.7 716.5 227.3 760.3 241.7 746.2 212.6 765.4 173.1 796.7 214.9 766.7 246.9 737.3 103.4 849.9 291.1 712.8 132.9 827.6 291.2 711.8 264.9 728.6 280.4 717.3 109.7 845 146.2 816.4 202.2 773.4 193.8 782.7 308.2 697.9 77.2 867.8 172.7 794.9 294.1 706.5 297.9 700 243.5 743.4 210.9 767.3 91.2 852.1 98.5 850.1 72.8 866.1 144.4 816.5 308.2 710.7 291 703.9 161.4 807.4 162.4 804.4 112.6 840.6 97.3 850.4 121.7 831.2 149.6 814.6 90.6 853.7 234.2 755.4 149.9 813.8 267.3 726.3 273.6 725.4 165 802.4 88 857.6 285 714.3 71.1 870.9 95.7 853.1 143.9 821.3 211.6 765.2 183.4 790.6 276.4 725.1 121.2 834.7 210.6 766.5 277.4 720.3 71.9 848.8 305.7 701.2 180.3 790.1 96.2 848.5 264.8 732.3 307.5 697.8 290.7 716.7 233.9 757 240.1 747.3 252 737.8 168 800.8 146.7 815.6 161.2 801.4 85.3 858.8 199.8 777 123.7 831.7 177.5 798.3 224.3 759.8 131.4 828.2 69.5 871.7 246.3 738 98.6 845.4 262.2 735.5 172.9 797.9 246.1 740.4 83.5 864 128.9 828.8 97.1 849.3 89.3 856.3 304.6 700.5 199.7 779.6 280.2 723.6 268.8 722.2 211.1 769.2 136.2 825.4 162.2 803.1 218.3 763.2 191.6 785.8 127 814.3 200.4 775 93.6 853 241.2 746 92.5 851.1 209.7 769.3 251 735 259.1 733.5 153.7 810.9 95.6 853.5 200.1 773.5 280.2 714.8 93.9 851.3 124.9 831.4 101.5 850.3 221.5 760.6 129.3 826.1 140.1 824.2 202.2 777.3 71 870 249.7 744.8 180 791 135.7 823.1 187.9 787.8 264.7 725.9 157.6 807.2 71.9 859.2 263.3 732 124.7 835.2 185.8 785.1 230.5 760.6 196.3 780.8 265.4 733.6 148.5 812.9 230.9 754.8 130.6 828.2 99.4 845.9 303.6 701.5 76.9 867.7 252.2 740 93 851.4 98 849.7 229.5 756.4 162.4 808.1 173.4 796.8 258.9 733.2 159.2 809.1 202.4 775.5 75 865 77.1 866.3 213.2 763.7 167.5 802.7 151.4 812 291.7 707.6 236.6 747.8 214.1 762.2 242.5 747.3 243.4 744.2 250 741.7 88.4 857.1 184.9 789.5 139.4 823.2 273.3 718.8 71.3 872.2 179.6 789.2 160.4 804.6 277.9 721.8 212.8 768.9 184.7 792 144.2 818.8 82.7 855.8 77.3 863.3 241.8 747.6 225.6 753.4 248.2 745.9 101.2 847 202.4 773 152.1 814.7 172.1 793.8 80.2 863.7 85.6 858.3 126.8 829.4 70.3 870.3 84 865.8 181 791.6 230.1 752.2 170.5 798.3 85.3 864.3 195.2 782.1 118 834.1 137.7 821.5 308 703.4 135.2 825.4 71.4 872.5 289.2 709.7 124.3 829.9 177.3 796.5 93.7 853.4 205.7 774.7 285.3 714.4 286.4 710 80 863.3 159.4 805.7 270.2 721.7 254.9 730.3 76.5 864 218.2 762.3 67.1 874.2 91.5 854.8 81.4 862 125.8 830.6 208.1 768.5 248.9 738.6 226.9 762.4 154.6 805.1 154.7 806.4 301.8 703.2 124.2 838.3 71.2 872.5 73.5 867.2 277.6 720.8 210.1 770.2 139.1 823 300.9 704.4 191.5 780.9 291.8 711.3 107.2 842.9 200.8 776.2 86.3 855.9 75 867.8 137.5 823.5 71.7 870.3 123.7 830.5 139 819.8 96.2 849.8 277.4 726.5 93.1 852.5 173.7 798.9 81 860.7 260.8 737 245.4 743.6 234.2 751.3 81.3 863.4 186.5 789.6 67.5 876.3 177.4 791.7 194.6 778 227.3 755.7 87.9 860.1 299.5 704.7 158.2 808.7 118.5 837.8 149.8 816 288.8 718.5 76.8 866.3 212.6 763.9 208.2 768.3 89.7 853.6 102.8 846.6 268.5 723.9 287.9 718.3 208.7 768.2 70.2 869.9 194.2 780.1 238.7 750.5 67.6 872.6 217.7 767.4 89.1 857.2 91 853 196 782 231.8 753.9 88.9 857 106.9 845.6 153.5 810.6 273.2 728.3 290.3 705.5 238.7 747 290.6 709.7 189.6 783.4 209 764 239 743.4 298.3 707.4 256.6 734.8 73.9 868.9 248.5 740.9 79.7 861.5 145.7 814.6 89.6 857.8 256.2 737.4 167 801.1 157.5 808.3 286 720.1 274 722.7 138.4 821 69.4 870.7 133.8 827.4 203.7 775.3 136.9 823.3 242.6 743.5 146.1 815.6 95.7 852.9 257.8 734.9 71.9 841 151.2 812 235.5 751.8 130.7 827.5 183.3 790.9 297.8 704.7 267.8 725.6 163.4 803.1 68.6 872.3 220.5 768.1 141.6 817.7 266.6 730.2 70.1 870.1 264 724.4 307.6 697.7 218.3 758.4 208.7 772.8 225.7 754.5 261.8 727.5 262.3 735.7 293.2 702.9 215.5 763.9 99.7 849.8 187.4 783.9 103.5 846.5 114.7 838.5 128.5 829.5 218.7 763.7 288.5 716.1 188.2 783.8 218.6 765.8 143.9 818.6 267.9 726 274.6 725.7 213.7 767 247.8 741 287.6 707 172.3 798.7 213.3 766 192.8 782 93.2 853.5 83 861.8 116.3 837.7 170.6 799 177.7 792.5 70.6 871.6 268.7 731.5 120.6 834 226.2 761.2 222.2 760.7 123.6 829.9 224.2 763.1 167.2 799.8 302.9 703.4 110.4 842.6 232 753.6 107.5 843.1 158.4 805.9 93.8 852.8 126.1 833.1 273.3 725.8 156.6 809.8 205.8 771.9 101 846.5 188.9 780.9 278.5 716.3 167 802.9 244.9 740.4 246.2 745.5 187.9 782.4 203.4 774.3 182.3 789.1 308 699.5 306.6 698.4 81.1 864.7 82.8 863.7 263.3 727.7 256.2 741.8 82.6 863.7 77.5 865.6 257.3 729.7 224.9 758.7 77.2 867 273.2 716.7 91.4 854.2 118.8 834.9 179.3 792.5 273.2 722.3 283.8 716.4 205.8 775.5 248.4 740.1 174.6 798.9 211.1 763 243.4 748 145.1 817.1 209.4 770 287.5 707.1 301.2 702.2 250.1 737.2 305.4 701.6 271.6 719.3 279.7 721.9 66.2 872.7 213.2 769.1 236.1 749.8 195.6 778.5 70 873 213.3 767.3 296.7 710.6 115.9 840.1 190.4 784.2 90 857.4 301.8 710.6 157.1 807.1 296.8 705.4 159.7 805.5 257.8 733 91.2 856.6 186.9 788.1 85.7 861.4 229.7 755.4 292.2 713.7 244.4 744.8 257.4 737 172.3 796.9 103.6 848.6 219.6 767 193.9 782.9 237.5 748.7 234.8 752.4 192.4 781.9 147.4 818.6 221.1 761.7 222.3 762.4 163.5 801.6 221.2 760.7 257.4 731.8 186.2 783 97.8 848.8 274.9 721.2 285 716.9 260.5 732.1 250 738.4 196.5 776.3 151.3 811.7 97 847.5 197.1 780.7 107.4 843 131.5 827.4 216.9 765.8 165.2 805.3 223.3 762.2 206.1 769.7 180.1 792.1 116.3 839.1 80.2 862.6 201.6 776.7 256.8 735.1 136.4 825.6 240.6 748.8 66.4 871.6 167.7 800.6 184.7 789.4 174.6 795.8 161.7 801.9 256.5 734.3 271.4 721.7 88.4 857.9 266.1 729 192.2 784.6 244.3 743.4 70.5 869.5 263.2 733.6 270.4 725.3 135.3 822.9 172.5 799.5 215.7 765.3 281 714.7 192.3 786.6 243.3 744.2 118.1 836.9 298.1 703 79 864.1 141.6 820.6 128.9 832.1 128 832 211.1 769.1 111.2 844.4 209.6 769.3 172.9 795.2 240.6 745.9 306.8 697.3 278.6 714.3 211.3 770.9 147.7 811.4 73.6 866.6 304.7 698.3 276 721.5 223.3 761.8 155.9 809.4 71.9 851.4 88.2 855.5 211.1 764.4 218.7 765.3 163.9 802.2 262.2 729.5 138.7 819.8 86.1 859.9 75.4 865.2 226.3 754.4 194.9 773.3 150.3 811.7 170.6 796.6 145 816 129.9 826.9 268.3 724.6 245.7 742.2 165.5 805.7 257.1 733.8 174.5 796.7 87.5 858.1 227.3 758 150.2 808.6 305.6 706.3 144.3 818.5 239.5 750.4 233.4 750.7 131.4 827.8 278.6 722.1 126.5 829.5 247.8 738.7 240.8 749 84.5 861.7 196.8 776.7 135.5 823.2 229.7 757.1 156.8 806.1 98.9 845.7 300 696.8 90.6 855 132.6 829.2 170.3 802 155.6 809.5 298.9 706.3 67 876.3 295 706.4 128.5 831.9 162.7 802.6 205.3 772.3 185.5 788.9 240.6 746.3 102.6 848.1 187.8 787 186.5 785.4 167.2 797.1 224.4 760.8 161.8 804.9 129.8 827.2 207.9 768.4 270.8 716.4 275.2 725.2 200.9 771.3 67.9 871.5 137.3 822 275.3 721.6 228.7 751.5 102 846.3 68.6 871.4 90.9 853.9 238.8 748.7 123.1 834 209.1 769.4 187.7 789.4 96.7 850.9 93.7 852.1 185.5 785.2 260.3 728.8 266.8 725.5 297.8 702.9 160.5 807 68.8 873.6 75.1 867.6 229.3 758 177.9 792.6 214 766.3 106 843.3 230 755.2 250.9 740.4 206.6 770.3 144.6 817 111.5 842.6 158.4 807.4 102.4 847 130.4 825.3 127 826 181.7 785.5 299.4 708.4 239.2 745.6 175 796.6 112.7 839 121.4 831.4 278.6 720.9 193.6 780.4 115.9 836.4 263 733.6 291.4 709.2 131.7 830.6 127 837.7 112.3 841.2 203.5 773.5 265.3 727.9 83.9 863.7 112.4 838.9 178 796 171.7 796.4 264.8 732.2 295.2 711.8 150.5 814.4 233.9 752.2 195.9 780.7 170.8 799.4 75 866.9 161 806.6 76.8 866.1 232.4 750.6 249.2 736.2 265.3 727.2 144.2 817.5 152.3 810.9 269.2 729.4 82.7 833.7 262.8 730.4 80.6 863.6 272 727.9 224.5 760.8 148.6 813 235.5 753.5 235.6 752.7 78.6 866.5 281.7 717.5 203.6 774.2 259.6 731.2 82.7 850.6 139.3 823 235.5 749.1 83.7 862.7 265.7 728.4 201 778.2 269 725.8 114.2 838.1 82.7 841.5 297.4 715.5 212.6 766 69.5 873.1 125.8 829.9 90.5 854.7 212.4 761.9 167.4 800.8 139.4 819.8 253.7 733.9 126.5 830.3 81.4 861.5 252.9 743.3 144.5 816.1 82.7 842.8 207.5 774.6 251.5 736.7 99 850.1 147.5 812.6 256.8 732.3 248.1 742.8 278.1 719.1 105.1 846.5 237.2 749.1 95.6 850 216 767.2 156.1 805.4 114.1 839.1 220.2 764.5 179.6 789.6 189.9 784.7 237.8 745.2 113.5 838.2 202.7 775.9 270 725.2 67.4 874.7 246 745.7 203.2 773.3 135.1 822.7 231 756 126.1 832.7 168.9 803.4 205 771.3 170.7 799.5 100.9 845.3 184.2 792.3 206.7 770.1 257.3 734.3 294.6 707.7 81.6 863 72.3 867.8 263.6 727.2 234.8 751.1 69.4 872.6 69.6 873.5 210.9 770.2 122.6 833.5 155.5 810.1 133.5 825.3 85.3 859.5 247.6 744.3 307.6 698.9 86.9 859.1 234.4 747.1 223.5 754.7 158.8 804.4 143.7 819.6 104.7 845.5 225.3 756.9 148.8 813.8 219.2 760.9 220.4 764.1 168.5 800.5 280.1 721.4 108.8 841 136.5 824.1 216.7 763.8 117.6 836 299.3 715.9 200.9 770 101.2 846.4 298.1 704.4 69.8 871.2 127 815.6 91.4 852 183.5 790.3 261.7 728.9 198.1 777.5 272.6 726.4 234.3 751.6 245.9 743 111 845 68.4 874.4 249.6 736.8 67 872.7 130.1 825.5 223 757.1 168.8 798.7 183.5 789.7 175.7 793.5 67.6 872.9 280.3 725.3 119.5 834.5 88.1 857 244.8 746.5 100.5 845.9 190.2 784.6 271.8 724.9 243.4 749.6 150.5 814.4 281.9 717.8 301.1 698.4 69.1 872.7 270.9 729.2 103.1 845.7 287.1 716.5 109.5 842 137.7 822.1 277.9 721.8 73 868.1 288.4 710.2 271.9 731 168 800.6 184.8 791.8 159.3 803.6 232.3 757.7 90.2 856.5 269.2 720.6 279 721.7 120.6 833.1 161.3 805.6 241 746.9 274.9 719.3 281.1 719.8 294.8 704.2 168.1 798.3 249.7 740.2 140.3 823.2 201.6 772.7 100.8 848.3 80.5 865.5 176.1 793.6 292.5 711.1 253.2 739.8 281 716.7 262.4 739.5 74.1 868.9 84.3 858.1 193.6 778.6 181.7 790.7 298 708.7 71.9 868.9 97 850.7 272.2 723.7 296.6 708.3 306.1 701.2 66.7 875.3 269.7 718.2 139.8 817.9 256.2 733.2 145 816.5 107.4 845.1 96 851.7 214.7 766.6 153.1 811.7 131.1 826.4 86.1 860 209.5 772.3 179.8 788.6 125.6 831.2 153.2 810.5 218.7 764.5 103 849.4 189.8 781.9 127.6 829.2 288.2 721.5 175.7 794.3 300.8 699.5 156.6 805.5 237.9 746.8 215.2 764.7 209.6 770.3 273.5 725.8 283 715 298.4 697.4 208.9 767.4 252.1 742.9 71.9 843.6 128.1 827.4 74.6 865.1 92.2 854.5 82.7 831.1 204 772.7 124.2 834.6 160.2 806.9 177.4 797.9 301.8 699.7 69.2 871.7 198.3 780.5 200.4 776.2 184.2 792 86.1 857.6 99 847 224.7 754.2 303.4 701.7 110.8 841.2 116.3 832.9 121.2 834.6 110.8 844.2 158 807.2 147.6 816.6 296.2 706.4 172.5 797.1 176.9 792.5 199.9 776.3 114.7 840.5 230.6 753.1 111.6 841.4 102.2 844.5 154.1 811.1 150 809.9 68 872 91.9 853.6 166.1 799.3 87.2 857.4 171.6 795.3 230.4 756.5 306.9 701.6 100.2 848.3 151.8 810.7 207.3 771.1 252.4 738.4 174 795.8 187.3 783.1 271.8 719.7 180.2 791.3 86.9 858.8 77.3 865.8 159 804.5 242.6 749.2 237.6 745.3 256.4 733.2 100.1 845.8 94.4 851.1 252 739.9 255.7 738.5 261 728.6 135.6 821.5 105.4 847.7 98.5 852.2 139.4 819.7 153.9 810.9 85.7 859.9 174 795.9 278.1 717.7 82.7 828.5 163.3 804.8 145.7 813.7 227.6 756.8 95.6 851.7 274.9 726 113.5 837.3 222.3 760.1 197.7 778.1 279.9 722.1 247.5 748.2 192.5 785.1 252.5 736.3 120.1 833.2 158.5 808.5 263.6 726.6 117.6 836.7 99.9 847.4 277.4 717.9 215.7 769 192.1 780.5 297.9 705.4 284.5 717.9 174.5 794.5 236.5 752 194.5 781.5 229.8 759 247 741.8 226.6 756.4 275.6 721.5 113.8 838.3 115 836.8 274.5 720.8 124.8 832.8 114.1 841.2 288.6 710.3 300.6 701.5 303.3 700.8 139 823.4 279.6 713.6 92.6 854.9 119 836.8 290.3 714.7 205.8 770.5 294.7 710.2 155.2 806.6 247 743 171.5 798.5 215.7 763.4 89.1 855.1 226.7 758.2 199.4 779.5 108.8 845.7 203.3 772.7 218.1 759.2 207.7 769.1 219.9 759.9 189.8 783.8 180.5 792.7 79.9 866.2 106.2 846.9 269.9 733.5 224.8 762.2 100.2 843.8 78.3 866 76.5 867 103.2 848.1 246.1 739.8 134.5 828 298.5 702 304.7 704 127 832.5 265.1 732.1 82.7 853.2 221.4 759.4 301.7 704.3 128.2 831.5 178.9 791.5 135.4 820.7 72.3 867.5 162.9 805 73.1 867.4 127 830.4 127 813 218.1 765.6 68.4 872.4 119.1 837.4 77.1 867 268 724.6 282 716.6 127 818.2 155.5 807.1 307.3 698.6 170.2 799.4 183.7 789.1 230.5 756.8 70.2 870.3 163.8 800.9 140.4 816.7 201.7 772.5 182.1 788.7 194.3 777.7 71.9 864.4 82.7 865.6 281.1 716.8 170.1 800 287.3 718.8 74.9 866.7 120.5 831.4 300.6 702.4 264.8 726.7 295.5 711.1 168.9 801.7 302.4 701.2 154.5 809.9 273.4 727.8 75.4 864.6 303.3 702.7 290.6 713.3 152.3 811.8 285.6 716.6 253.1 735.3 228.8 754.5 92.5 853.3 302.6 707 226.1 758.9 260.2 733.6 208.7 770.6 71.6 868 257.1 738.6 137.3 825.9 194.8 778.7 290.8 710.8 140.3 820.1 178.7 790.9 160 805.9 299.9 702.9 291.2 710.3 305.6 705.8 84.1 861.4 94.5 851.3 67.3 874 144.7 818 219.4 758.7 247 744.5 161.7 801.5 207.5 772.2 152.4 814.1 254.3 732.2 190.1 784.4 118 839.1 282.4 712.4 127 828.6 165.6 801.3 206 772.8 303.4 702.5 279.1 716.9 296.9 702.8 255.3 741.8 294.9 718 72 869.4 209.1 766.5 85 860.2 117.3 837.3 286.7 715.5 170 800.2 214.1 765.6 132.2 825.3 71.9 842.3 265.7 731 302.6 703 246.1 745.5 235.1 750.6 70.4 870.2 262.7 726.3 68.1 872.7 243.3 748.9 116 839.1 162.9 804.2 296.5 706.8 246.5 741.3 285 709.7 196.1 779.6 141 818.9 189.9 788 249.4 741.1 299.9 700.7 97.2 848.2 277.2 714.3 112.1 841.2 68.3 872.8 132.7 825.2 127.7 827.2 299.9 706.7 239.4 749.2 158 806.3 251.5 733.6 298.2 704.1 105.9 845.1 237.4 752.8 223.9 757.1 231.1 753.7 86.5 857.6 234.7 752.1 271.2 723.6 122.7 830.7 294.4 710.3 66.9 874.3 123.2 831.7 278.6 725.1 290.3 708.4 300.2 702.7 263.7 731.1 190.2 781.5 138.1 822.4 134.8 823.2 166.9 801.6 137.7 820.9 76.7 865.9 100.6 847.7 290.8 712.1 289.5 710.7 211.6 766.9 212.2 767.9 277.1 720.3 290.2 715.5 159.9 807.8 273.7 719.5 67.4 875.3 136.3 822.6 288.5 716 65.9 874.3 80.8 863.2 144.5 814.2 192.7 783.1 138.6 819.9 245.8 745 109.2 843.3 230 758.5 303 700.7 145.1 814.3 241.2 750.3 264.6 726 207.3 771.3 222.9 761.9 189.2 783.2 116.1 833.7 294.7 702.5 72.1 871.8 305.6 702.3 123.6 835.1 275.3 717 235.6 747.4 263.9 731.9 277.4 721.5 90.9 854 82.4 862.5 197.2 780.5 198.5 777.5 158.7 806.9 208.9 765.2 221.6 762.2 139.5 821.7 278.8 721 294 710 107.9 844.3 152.4 809.8 275.5 723.6 296.1 712.9 187.3 788 197.4 777.2 116.7 839.2 204.3 774.6 237.2 746.9 259.4 735.9 268.4 725.9 269.7 723.6 71.9 839.7 285.8 715.2 210.9 770.6 294.3 701.3 194.8 780.6 80.3 862.2 71.9 861.8 288.7 704.3 287.6 715.5 288 717.2 111.1 842.1 84.4 862.4 194.3 778.6 70.1 874.8 304.7 699.7 131.5 826.5 89.1 857.2 258.1 736 110.3 842.3 188.6 785.7 306.6 696.8 196.3 777.9 299 703.8 139.3 819.9 179.1 791.4 284.6 716.8 178.8 790.7 285.8 709.8 120.5 833 194.7 781.7 183.4 784.9 125 832.9 211.7 767.2 294.4 703.2 85.1 862 292.7 709.7 200.9 768.7 103.2 846.9 221 761.7 247.5 746.7 267.7 727 122 832.3 168.9 799.9 229.9 753.7 127 820.8 126.6 829.6 289.4 712.7 258.1 734 99.4 849.3 132.9 827.6 157.8 809.4 286.9 713 115.3 838.4 132.6 827.6 100.7 845.7 217 761 114 839.6 91.6 853.2 88.3 856.3 82.7 854.5 191 783.5 75.6 865.8 248.7 743.7 139.5 817.4 195.1 778.9 106.5 846.3 189.6 784.4 101.9 845.7 166.4 804.4 89.2 856.1 71.9 854 237.2 749.1 105.5 844.8 189.6 787.4 259.3 734.2 87.7 853.9 107.5 841.7 272.2 725 299.4 703.5 250.6 738.4 283.8 706.1 120.1 835.9 110.4 841.8 197.6 775.1 163.9 804.4 180.2 794.5 249.7 735.7 241.1 753.3 270 728 121.5 830.6 192.5 778.9 107.2 847.1 121.5 832.2 162.9 804.7 301.6 705.3 156.9 806.3 272 726.3 162.2 805.6 145.4 816.1 307.3 697.4 230 752.9 213.4 766.1 244 736.8 233.9 746.1 247.6 739.3 260 733.3 244.6 744.9 226.9 753.1 260.4 732.8 145.8 815.9 131.3 826.8 119.3 834.4 253.8 737.6 271.3 729.5 158.4 802.9 73.2 867.8 175.4 791.8 99.9 849.9 153.5 810.2 142.8 824.7 257.5 737.7 130.8 825 238.2 745.2 129.3 825.3 198.5 781.4 185.3 786.9 278.2 718 217.7 763.9 307.1 697 116.9 839.3 102 845.4 264.2 730.2 170.6 795.3 298.4 701.7 161.4 808.5 149 812.1 106.6 846.6 233.7 753.3 124.4 829.6 98.8 848.5 169.5 798.8 260.9 726.7 149.4 811.4 148 816.3 103.6 848.6 87.1 857 82.7 837.6 73.9 868.7 260.1 726.1 192.9 783.5 156.5 807 69.6 871.3 225 760 142.1 817 253.6 731 178.2 793 291.9 708.7 301.7 701.9 206.4 767.7 127.3 827.9 182 788.8 158.7 805.2 162.9 804.1 222.7 760.7 133.4 825 91.2 855.6 66.1 877.5 137.7 820.3 264.5 733.7 77 866.6 258.6 733.8 136.9 823.8 268.7 727.7 167 804.5 199 781 210.6 768 301.6 702.2 244.8 742.5 218.5 765 187.4 784.5 295.1 706.7 102 845.9 103.7 845.6 241.6 742.3 165.5 801.9 233.5 749.8 191.2 782.4 138.7 821.5 267.6 733.1 240.6 745.8 129.6 825.9 280.6 718.8 138.1 828.2 222.9 759.2 269.6 724 204.9 771.2 206.9 773.8 159.9 806.7 114.6 840.7 243.9 749 305.1 705.6 295.4 708.4 149.6 813.2 292.1 711.9 236.7 748 180 791 230 760.2 285.7 713.6 248.1 746.7 298 707.2 189.5 781.1 249.5 741.4 222.4 760.9 206.5 771.5 190.8 781.3 138.9 822.3 143 819.7 261.1 729.2 200.9 766.1 105.7 844.9 255 731.9 270.1 726.1 291.6 708.3 129.6 827.4 304.5 704.9 189 782.3 113.5 843.2 73.2 866.5 107.3 843.5 220.7 763.9 144.9 814.1 242.7 750.2 258.9 733.8 148.6 809.7 135.2 823.9 118.3 834.5 161.3 806.4 299.5 702.6 179.7 791.8 226.1 759.2 291.2 703.3 245.4 745.8 146.1 815.6 159.1 806.1 200.1 778.7 223 755.6 167.1 802 181.4 789.4 87.9 857.3 306.2 703.1 180.2 792.2 220.9 764.8 246.3 740.3 101 846.4 89.3 858.3 186.1 786.1 285.7 712.9 233.2 750.4 245.3 743.7 105.1 845.9 129.5 828.8 175 796.4 172.3 795.1 207.2 768.1 230 756.2 248.1 742.8 127.7 829.2 166.8 803.3 141.8 819.8 262 732.1 262.6 730.6 279.2 717.9 149.2 813.1 154.2 806.6 227.6 757.3 134.7 823 68.8 871.2 300.2 708 174.7 794.1 261.3 733.8 118.4 836.2 217.4 761.3 178.7 792.1 237 747.8 255.1 731.5 227.1 755.7 204.1 772.6 166.6 799.6 71.2 868.8 247.5 741.2 283 716.8 68.2 871 173.2 796.8 187.1 783 123.5 831.2 176.7 792.9 116.9 837.5 275.1 720.1 253 737.8 221.6 762.1 181.4 788.8 168.5 799.7 205.4 772.3 237.5 752.1 209.2 767.9 188.3 782.4 235.9 749.9 111.5 842 258.2 738.6 89.2 852.7 267.3 730.1 213.4 768.1 172.8 797.2 133.3 823.5 228 756.2 209.9 767.4 114.2 840.5 75.4 868.1 173.8 796.4 154.6 808.9 85.3 858.9 215.8 764.6 88.5 855.1 293.3 710.1 171.4 794.2 150.9 813.5 144.8 817.2 171.7 796.3 303.7 700.4 265.2 728.6 283.5 716.9 258.3 734.7 294.5 706.3 205.8 773.5 190 784.6 96 846.2 188.8 785.4 247.8 735.5 231.7 754.4 245.6 742.8 149.9 814.3 247.8 742.6 247.7 741.3 229.5 755 295.3 706 248.8 739.6 186.3 791.1 70.5 876.1 302.1 703.7 262.1 730.7 218.1 765.4 219.3 760.7 75.4 865.4 71.8 870.1 151.7 809.4 237.2 748.6 230.4 754.6 195.2 778 116.4 838.5 127 833.8 300.4 704 289.1 712.8 95.1 851.5 107.3 849.7 108.1 846.2 282 716.2 277.4 727.5 299.3 696.4 82.4 862.3 190.1 779.4 161 804 67 876.1 151.1 812.6 307.1 698.6 103.9 843.6 118.5 835.5 100.2 848.5 160.4 806.1 260.8 733.9 75.4 866.7 256.1 735.5 261.4 732.8 160.9 808 297.8 707 248.6 743.2 282.5 717.3 217.5 765.7 116.8 833.4 283.1 712.5 258.4 729.1 204 772.7 187.5 787.8 192.9 785.5 288 712.3 183.4 788.1 67.6 872.8 305.5 699.9 169.4 799.6 113.5 839 177.8 790.8 82.7 832.4 139.3 821.1 166.5 801 101.7 849.4 234.7 753 83.1 862.9 172.1 797.4 259 741.6 195.5 777.2 285.2 707.5 249.5 735.9 216.4 763.7 290.9 711.9 69.7 871 189 785.1 278.6 716.5 292.9 712 295 710.3 137.2 823.1 80.6 864 70.3 872.2 123 830.9 83.8 862.4 173.6 795.2 289.5 714 244.7 745.9 254.8 742.3 288.1 707.2 231.3 761 115.5 836.2 183.8 783.9 183.5 787.7 277.1 724.7 298.1 707.7 200.9 767.4 238.6 749.1 103.8 847 159.5 805.9 179.3 790.8 141.6 818 267.2 730.1 137.4 820.9 283 716.8 200.8 773 88.9 857.9 80.1 863.5 283.8 715.8 218.3 762.5 219.8 764.9 253.2 740 173.7 794.4 237 747.1 71.2 873 176.3 797.3 206.8 773.4 225.1 757.5 253 733.1 266.4 725.9 301 700.2 249.7 741 222.9 760.4 234.2 749.2 98.9 849.9 269.2 726.7 238.7 744.3 101.6 846.8 177.6 795.2 201.4 774.9 287.5 718 260.1 730.8 290.8 713.9 283.2 721.2 182.9 788.5 297.5 711.9 98.1 845.9 70.1 870.2 105.8 846.5 226.2 756.7 154.3 810.6 82.7 845.4 180.5 790.6 178.4 792.9 71.9 846.2 283.8 711.8 221 759.3 262.3 730.8 296.8 702.2 208.8 768 149.5 810.3 229.7 754.4 146.8 815.3 250 742.4 188.4 786.9 213.1 768.9 217.6 766.9 183.4 787.6 88 856.3 182.1 793 69.8 870.6 227 755.9 167.4 798.6 215.9 764.2 186.8 785.8 71.9 857.9 178.1 797.1 67.9 877.6 100.7 845.8 101 849 223.8 761.2 67.1 876 126.2 830.2 179.8 791.8 156.4 806.2 134.9 827.8 154.7 805.9 121 836.4 116.4 836.8 179.9 787.4 127 836.4 127.3 828.2 68.3 872.2 160.3 804.2 196.8 773.9 254.2 734 147.3 816.2 292 712.2 219.9 762.7 196.7 775.9 141.6 821.3 301.1 697.3 182.8 791.6 184.3 787.1 69.1 869.7 283.6 706 82.8 862.4 187 788.1 305.3 697.1 233.2 752.2 124.7 831.2 114.4 838.7 301.5 709.4 276.6 717.8 74.5 864.4 218.9 765.3 179.8 791.1 304.8 706.8 106.4 843.2 90.4 852.4 149.3 817.2 204.4 771.5 95.7 849.8 98.6 849.2 144 816.6 302.4 704.7 192.6 780 227.4 760.7 106.7 845.7 266 729.3 109.2 843.9 217.8 762.7 98.2 849.3 282.6 713.8 305.9 698 145 817.9 293.4 710.8 110.9 844.3 192.5 781.4 197.3 778.3 226.5 761.2 204.5 771.7 189.8 788.6 98.8 849.8 284.8 718.3 284.1 715.6 210.3 769.2 272.9 724.8 176.6 798.1 68.6 877.6 239.5 751.1 150.4 812.3 97.6 848.7 220 768.7 279 722.8 88.9 855.1 237.3 747.2 302.6 700.9 82.7 859.7 77.1 866.2 128.2 827.7 131.3 823.1 101.3 849.8 89.8 855 294.4 708.3 133 826.2 157.8 804.1 88.6 855.1 67.4 873.7 140.5 819.6 241.9 745.3 265.9 725.8 97.2 849.3 213.4 765.5 193.7 778.3 100.3 846.5 147 813.6 197.2 777.5 202.3 772 218.4 763.9 161.3 804 245.2 744.8 263.7 727.1 281.8 725.6 234.1 751.5 245.9 746.2 137.7 823.7 217.1 762.2 195.7 778.6 71.6 869.2 107.9 841.6 241.7 745.4 261.5 724.5 81.9 864.1 127 835.1 190.8 786.2 289.4 712.4 120.4 832.5 87.1 859.6 252 736.6 266.3 725.5 147.5 813.8 244.7 746.3 184.7 786.2 230.1 749.6 123 832.7 174.3 792.9 238.4 751 77.3 864.9 202.6 774.1 159.6 804.9 237.1 751.5 253.1 734.9 180.9 792.4 115.8 837.7 126.9 829.4 214.2 762.7 123 834.3 291 704.1 83.8 861 96.2 849.8 286.3 715.8 69.2 875.9 270.6 720.5 184.8 783.6 202.7 778.2 298.6 703.1 190.9 784.7 87 857.9 71.9 838.4 259.2 730.3 82.6 864.9 263 730.6 135.1 824 125.6 829.3 105.9 843.8 212.8 765.9 232.3 750.2 122.1 832.2 217.8 757 228.9 754.4 137.2 823 81.1 864.1 176.8 794.6 198.8 779 254 740 102.3 849.6 258.8 740.2 127 816.9 113.3 839.7 81.7 862.1 67.5 873 127 823.4 68.7 876.1 183.4 790 250.6 744 191.8 781.8 219.2 759.4 231.7 749.6 182.8 790.9 191.4 778.8 296.4 705.8 153.4 809.4 165.6 798.5 176.1 793.8 256.2 735.5 163.9 799.5 296.3 704.4 154.7 806.5 175 795.6 113.2 837.7 304.2 699.1 179.9 794.6 243 746.8 262.8 732.1 131.7 827.4 305.3 696.5 88 854.6 112.5 841 143.1 815.9 285.4 714.7 106.6 844.3 266.7 730.3 86 862.6 93.3 852.8 180.8 791.3 215.7 761.9 95.3 853.3 186.8 788.5 75.5 869.6 243.2 743.7 291.8 702 129.7 826.7 216.6 767 206.6 776.4 88.4 858.8 227.3 759.4 89.1 855.3 103.5 846.7 176.1 794.1 223.2 761 185.2 786.1 249.5 737.6 104.4 844.4 194.3 782 169.3 801.5 86.6 858 226.7 755.9 264.9 730.8 222.7 764.1 135.8 824.2 72.4 870.6 70.2 871.7 143.7 817.6 81.4 864.6 230.2 754 203.3 775.7 71.9 844.9 173.1 799.9 155.1 810.2 144.4 815.8 258.7 736.1 166.3 802.9 267.9 726.2 298.8 710.4 307.5 700.3 191.3 782.6 152.9 811.6 84 863.7 188.5 787 94.3 849.3 265 728.2 272 727.9 265.3 724.1 207.7 766.2 165.8 804 279.2 721.4 103 846.5 250.6 733.7 161.4 808.3 285.4 708.4 89.1 854.7 166 804.4 300.9 701.2 245.5 743.3 271.4 719.2 76.7 867.3 299.8 698.3 202.1 777.9 127.2 829.6 183.5 787.9 284.8 715.1 101.2 849.2 115 837.5 246.3 742.1 149.4 812.6 262.4 735.6 289.2 714.6 196.2 779.6 260.1 734.5 131.3 825.9 134.4 823.3 280.2 721.5 108.9 842.7 184.6 789.8 116.2 834.1 286 711.2 233.2 748.9 209.6 769.7 149.1 813.5 283.9 717.1 143.1 821.3 227.3 757.3 157 809.5 96.4 849.5 269.6 726.7 80.8 866.2 255.5 733.7 116.3 837.6 109.9 841.9 277.1 721.3 143.8 820.5 246.3 746.4 292.8 709.3 152.7 808.6 223.5 757.1 257.9 731.7 135.8 825.5 224.9 758 265.3 732.6 230.7 753.9 172.3 796.2 246.4 744.4 294.6 711 155.2 808.3 297.9 697 181.5 789.7 257.3 737.4 169.9 798 222.5 760.5 75.5 864.7 297.4 704.8 199.3 777.4 243.6 748.1 302.7 701.3 129.2 827.8 79.6 862.9 116.6 835.8 278.3 717.5 288.5 712.5 220.3 762.4 145 817.6 236.9 749.5 232.3 751.8 269.6 724.1 277.9 730.8 195.2 780.5 247.9 743.2 182 791.8 257.1 733.8 123.4 830.5 296.5 704 292.2 711.4 126.1 832 201.7 774.6 252.9 739.8 83.8 863.6 127 819.5 148.9 814 261.7 736.3 245.7 741.5 154.8 806.5 187.6 784.9 104.4 846.3 88.3 857.4 84 861.4 217.4 763.9 208 768.8 264.5 724.1 102.2 845.7 109.4 843.6 193.8 781.3 260 729.8 244.1 743.4 201.8 774.8 189.4 784.4 175.7 793.3 104.7 843.4 250.4 738.7 293.8 703.8 131 827.1 268.3 727.2 206.9 769.5 246 746 250.8 739.7 262 734.8 224.6 759.4 129.4 829.9 298.3 701.8 268 724.3 212 767.6 253.1 735.3 83.8 862.3 160 805.5 189 782.4 295.1 708 248.1 740 86.9 859.7 205 770.1 156.2 807.8 189.5 783.1 90 856 111.9 842 226.1 759.7 178.4 793 307.3 696.6 127 824.7 250.4 734.7 114.5 838 148.8 814.8 294.7 705.9 281.6 718 120.7 831.6 175.3 798.5 116.9 836.4 187.7 784.2 161.1 803.5 214.8 767.2 203.7 773.2 96.2 850.3 84.4 861 128.9 829.7 267.7 726.1" fill="none" stroke="none" marker-start="url(#m)" marker-mid="url(#m)" marker-end="url(#m)"/>
<text transform="translate(39.7 907.6)" text-anchor="middle" font-size="10.2">0</text>
<text transform="translate(106.9 907.6)" text-anchor="middle" font-size="10.2">50</text>
<text transform="translate(174.1 907.6)" text-anchor="middle" font-size="10.2">100</text>
<text transform="translate(241.2 907.6)" text-anchor="middle" font-size="10.2">150</text>
<text transform="translate(308.4 907.6)" text-anchor="middle" font-size="10.2">200</text>
<text transform="translate(35.2 898.1)" text-anchor="end" font-size="10.2">0</text>
<text transform="translate(35.2 849.7)" text-anchor="end" font-size="10.2">50</text>
<text transform="translate(35.2 801.3)" text-anchor="end" font-size="10.2">100</text>
<text transform="translate(35.2 752.8)" text-anchor="end" font-size="10.2">150</text>
<text transform="translate(35.2 704.4)" text-anchor="end" font-size="10.2">200</text>
<text transform="translate(174.2 920.8) scale(1.065 1)" text-anchor="middle" font-size="11.0">Actual Thickness, T<tspan font-size="8.6" dy="4.6">topcoat</tspan><tspan dy="-4.6">(</tspan><tspan font-style="italic">&#956;</tspan>m)</text>
<text transform="translate(8 794.8) rotate(-90)" text-anchor="middle" font-size="10.687868421052631">Predicted Thickness, T<tspan font-size="8.6" dy="4.6">topcoat</tspan><tspan dy="-4.6">(</tspan><tspan font-style="italic">&#956;</tspan>m)</text>
<text class="cap" transform="translate(168 953.4)" text-anchor="middle" font-size="19.3">(d)</text>
<path d="M406.5 697.6V904.1M451.8 697.6V904.1M497.1 697.6V904.1M542.4 697.6V904.1M587.6 697.6V904.1M632.9 697.6V904.1M678.2 697.6V904.1M406.5 904.1H678.2M406.5 874.6H678.2M406.5 845.1H678.2M406.5 815.6H678.2M406.5 786.1H678.2M406.5 756.6H678.2M406.5 727.1H678.2M406.5 697.6H678.2" stroke="#eeeeee" stroke-width="1.5" fill="none"/>
<path d="M406.5 697.6H678.2V904.1H406.5ZM406.5 904.1v-2.7M406.5 697.6v2.7M451.8 904.1v-2.7M451.8 697.6v2.7M497.1 904.1v-2.7M497.1 697.6v2.7M542.4 904.1v-2.7M542.4 697.6v2.7M587.6 904.1v-2.7M587.6 697.6v2.7M632.9 904.1v-2.7M632.9 697.6v2.7M678.2 904.1v-2.7M678.2 697.6v2.7M406.5 904.1h2.7M678.2 904.1h-2.7M406.5 874.6h2.7M678.2 874.6h-2.7M406.5 845.1h2.7M678.2 845.1h-2.7M406.5 815.6h2.7M678.2 815.6h-2.7M406.5 786.1h2.7M678.2 786.1h-2.7M406.5 756.6h2.7M678.2 756.6h-2.7M406.5 727.1h2.7M678.2 727.1h-2.7M406.5 697.6h2.7M678.2 697.6h-2.7" stroke="#9a9a9a" stroke-width="1.4" fill="none"/>
<path d="M483.5 792.8 528.8 811.6 542.4 876.8 442.7 779.3 592.2 771.9 488 753.7 537.8 740.3 533.3 740.2 560.5 805.4 619.3 797.9 587.6 774.6 601.2 735.2 515.2 788.7 637.4 802.4 497.1 857.5 546.9 781.1 542.4 834.4 515.2 774.5 483.5 820.1 605.7 779.3 537.8 768.8 578.6 806.9 614.8 782.6 488 735 524.2 789.7 578.6 772 537.8 773.8 501.6 793.2 533.3 789 637.4 782.2 565 809.7 592.2 773 524.2 761 451.8 753.8 433.7 825.6 460.8 761.5 560.5 744.4 619.3 741.6 596.7 763.6 583.1 753.7 524.2 757.9 483.5 777.3 614.8 737.7 479 749.4 546.9 760.9 542.4 780.1 542.4 722.8 592.2 781.2 605.7 774.7 451.8 828.9 456.3 805.7 492.5 759.7 642 734.4 492.5 773.3 619.3 742 592.2 778.8 574 744.3 646.5 747.5 560.5 742.5 465.4 762 574 806.9 642 759.8 583.1 763.6 528.8 752.5 637.4 810.9 447.3 760.5 583.1 820.8 442.7 765.1 628.4 791 619.3 760.1 651 802 546.9 751.3 632.9 729.5 583.1 774 488 796.9 546.9 805.3 510.7 747.7 524.2 799.4 569.5 783.1 506.1 752.9 555.9 803.7 628.4 794 555.9 821.1 542.4 787 651 772.3 632.9 762.9 506.1 813.6 555.9 755.6 438.2 810.1 479 759.2 555.9 749.1 515.2 756.7 524.2 766.5 506.1 753.5 601.2 768.4 583.1 766.8 460.8 742.5 578.6 826.9 460.8 749.4 528.8 788.6 501.6 802.5 614.8 766.7 555.9 777.6 506.1 760.4 628.4 816.3 614.8 811.7 528.8 782 605.7 810.9 506.1 739.7 578.6 755.3 519.7 795 619.3 744.4 483.5 774.8 560.5 758.8 565 782.7 442.7 748.9 483.5 769.1 542.4 758.4 519.7 799.5 601.2 767.8 537.8 741.7 524.2 760.6 537.8 769.3 560.5 763.7 592.2 793.9 637.4 808.4 592.2 744.8 601.2 777.3 479 743 596.7 771.8 546.9 804.2 651 754.4 438.2 781 456.3 754.8 574 770 574 798.1 587.6 800.4 542.4 702.4 619.3 746.4 623.9 784.7 542.4 815.2 596.7 776 637.4 800.3 632.9 746.3 542.4 767.2 510.7 731.3 528.8 768.4 623.9 740.9 605.7 768.8 542.4 759.3 646.5 820.5 551.4 761.2 555.9 768.4 596.7 760.5 574 777.1 465.4 800.7 596.7 814.6 456.3 743.9 555.9 804.2 551.4 743.2 605.7 788.9 456.3 778.1 542.4 805.6 578.6 837.1 601.2 744.6 546.9 812.2 642 785.7 515.2 795.5 555.9 778.7 542.4 822.5 483.5 819.7 433.7 828.9 469.9 806.5 569.5 770.3 569.5 800.9 569.5 784.6 528.8 821.9 501.6 797.4 456.3 747.1 551.4 782.6 515.2 746.6 574 796.5 542.4 730 628.4 755.8 574 762.1 592.2 760.7 524.2 808.8 483.5 790.4 592.2 770.2 460.8 824.9 605.7 740.3 578.6 799.8 510.7 815.5 565 759.6 614.8 784.7 569.5 815.1 546.9 759.4 492.5 790.5 555.9 760.6 501.6 748.6 614.8 781 569.5 769.5 519.7 805.7 519.7 817.2 605.7 793.3 492.5 752.3 632.9 774.5 433.7 774 619.3 790.7 632.9 743.1 456.3 778.3 560.5 814.5 560.5 757.8 646.5 749.8 460.8 742.1 510.7 739.4 651 810.6 497.1 750 574 814.3 555.9 748.7 460.8 780.3 447.3 786.6 519.7 796.7 574 740.8 501.6 804.8 537.8 743.4 501.6 812.6 537.8 741.3 533.3 753.8 569.5 758.2 451.8 778.1 451.8 784.4 460.8 742.6 619.3 791.9 542.4 757.1 433.7 760.1 578.6 786.7 555.9 751.9 560.5 756.6 623.9 749 555.9 820.9 533.3 748.4 510.7 761.9 456.3 739 569.5 735.3 560.5 763.1 646.5 802.5 574 792.5 555.9 793.6 592.2 765.5 533.3 803.2 451.8 792.8 488 737.6 488 783.5 533.3 743.4 488 771.1 528.8 802.6 555.9 808.4 578.6 791.8 569.5 782.5 533.3 779.4 646.5 788.9 628.4 827.8 524.2 764.7 501.6 793.6 623.9 748.7 623.9 801.6 596.7 787.4 465.4 796.1 483.5 768.9 465.4 747.3 583.1 824 483.5 776.5 614.8 816 479 803.6 542.4 746.1 479 747.7 569.5 765.1 574 786.8 447.3 808.6 469.9 799 465.4 815.9 574 806.3 605.7 763.2 605.7 808.4 528.8 746.7 637.4 768.3 438.2 795.5 492.5 824.2 524.2 804 619.3 816.8 560.5 782.4 642 744.5 479 737.1 528.8 812.6 637.4 781.5 483.5 821.3 433.7 797.9 583.1 785.4 469.9 729.7 465.4 769.2 542.4 788.8 632.9 801.5 479 753.2 483.5 796.2 546.9 747.5 492.5 822 533.3 806.9 637.4 783.8 524.2 753.9 542.4 839.2 501.6 727.4 447.3 759.5 542.4 768.7 642 745 569.5 803.2 438.2 778.3 474.4 775.7 469.9 745.2 501.6 825 542.4 818.8 438.2 813.1 506.1 788.4 433.7 815.8 560.5 752.3 497.1 767.5 642 739.1 542.4 749.7 610.3 810.4 632.9 813.5 501.6 745 551.4 741.9 637.4 768.9 510.7 796.7 592.2 741.9 578.6 788.8 587.6 784.3 483.5 741.4 479 761 623.9 750.7 433.7 787.1 492.5 748.9 442.7 787.9 460.8 824.6 610.3 752.3 628.4 749.3 583.1 778.8 497.1 818.3 524.2 768.8 555.9 794 646.5 762.1 510.7 830.3 569.5 801.6 555.9 825.7 610.3 741 623.9 800.7 542.4 774.4 642 757.6 537.8 738.2 524.2 778.3 506.1 737.7 469.9 810.9 438.2 759 583.1 747.6 447.3 815.5 583.1 803.8 474.4 787.3 515.2 747.5 433.7 811.4 651 736.1 460.8 804.3 533.3 786.8 610.3 781.7 542.4 787 651 735.2 632.9 830.2 492.5 827.3 637.4 765.6 651 774.4 610.3 733.5 510.7 760.6 533.3 789.6 619.3 828.5 574 791.9 537.8 744.3 592.2 780.3 433.7 819 542.4 769.6 601.2 819.1 528.8 773.2 565 825.5 465.4 768.4 592.2 744.1 479 791.8 474.4 748.4 601.2 744.9 542.4 760 596.7 811.9 565 795.1 628.4 784.6 492.5 817.4 551.4 779.6 546.9 785.1 619.3 784.6 605.7 776.9 479 840.3 433.7 799.8 632.9 856.7 510.7 763.5 596.7 795.4 497.1 804 555.9 804.2 560.5 780.9 474.4 761.8 469.9 803.3 442.7 764.3 497.1 810.8 524.2 776.5 469.9 813.7 451.8 824.4 524.2 787.9 465.4 776.9 587.6 811.7 524.2 824.1 637.4 813.4 619.3 773.7 469.9 761.5 510.7 756.3 587.6 838.2 528.8 760.1 506.1 745.8 451.8 807 642 755.6 528.8 779.3 542.4 799.6 542.4 795.4 546.9 804.6 492.5 758.4 510.7 757.7 646.5 814.4 506.1 793.5 497.1 800.8 560.5 759.9 565 754.9 483.5 750.2 646.5 813.4 560.5 822.6 460.8 784.3 546.9 779.2 583.1 748.7 551.4 805.2 583.1 762.3 519.7 749 646.5 812.1 560.5 781.5 619.3 746.5 519.7 805.1 506.1 786.8 587.6 739 574 802.8 451.8 801.9 565 768.2 447.3 823.6 469.9 742.8 483.5 816.5 587.6 744.2 515.2 767.7 542.4 738.4 433.7 773.9 619.3 809.4 438.2 756.2 628.4 763.3 433.7 793.7 587.6 834.3 465.4 770.4 587.6 764.3 555.9 774.7 483.5 792.2 483.5 762.1 569.5 798.8 519.7 817.4 596.7 812.7 546.9 805.9 565 791.4 614.8 748.8 601.2 825 497.1 821.2 474.4 775.4 438.2 793.2 601.2 828.2 542.4 801 488 817.5 524.2 791.4 642 801.6 628.4 777.3 497.1 742 610.3 774 442.7 767.8 528.8 796.8 628.4 794 447.3 789 569.5 798.9 442.7 818 614.8 802.6 492.5 739.2 569.5 785.7 469.9 746.6 433.7 771.9 632.9 740.5 546.9 817.2 451.8 758.1 555.9 823.8 515.2 815.6 605.7 796.5 569.5 767.5 501.6 787.9 565 797.4 646.5 801.6 510.7 729.7 583.1 784 651 818.8 447.3 744.7 637.4 776.9 447.3 831.7 628.4 777.3 537.8 771.9 501.6 785.3 542.4 755.1 533.3 826.8 497.1 821.3 560.5 819.1 438.2 818.1 510.7 780.4 533.3 786.7 623.9 751.3 483.5 761.5 479 776.7 610.3 793.8 492.5 816.7 574 826.3 610.3 798.9 642 826.5 515.2 825.4 469.9 813.1 488 778 619.3 814.1 565 742.8 546.9 777.2 628.4 742.8 469.9 747.5 492.5 772.6 569.5 787 637.4 740.5 488 754.4 501.6 772.1 483.5 778 501.6 823.4 442.7 777.4 614.8 790 537.8 744.8 465.4 792 506.1 767.5 483.5 748.4 637.4 759.4 623.9 815 433.7 807.6 456.3 804.9 542.4 796 474.4 797.9 646.5 797.2 623.9 758.2 646.5 744 497.1 752.7 515.2 838.2 501.6 780 632.9 792.3 623.9 762 596.7 842.6 433.7 749.2 537.8 749.1 456.3 749.1 642 757.7 637.4 740.6 456.3 814.9 497.1 751.6 628.4 765.3 442.7 742.9 456.3 821 533.3 798.4 596.7 810.9 501.6 809.1 537.8 803.7 560.5 768.6 501.6 763.4 519.7 799.5 497.1 741.8 542.4 745.6 483.5 777.3 488 758.1 637.4 745 637.4 774.4 474.4 834.3 560.5 759.9 542.4 709.6 551.4 818.1 574 782.1 519.7 815.2 515.2 735.6 642 746.2 632.9 762.4 619.3 759.6 501.6 725.7 438.2 835.2 492.5 775.6 574 823.4 596.7 749.8 456.3 741.4 447.3 739.7 447.3 776.4 483.5 766.3 519.7 745 651 784 492.5 762.7 483.5 814 555.9 814.8 460.8 765 492.5 799.9 651 766.2 578.6 750.4 447.3 820.4 560.5 775.5 483.5 799.2 479 775.2 596.7 787.8 528.8 807.3 587.6 767.3 542.4 716.8 623.9 738 433.7 795.2 433.7 757.3 596.7 817.8 456.3 817.9 519.7 801.2 519.7 812.2 469.9 790.2 537.8 748.3 515.2 811.6 506.1 767.6 433.7 798.5 619.3 750.6 632.9 768.4 623.9 784.8 592.2 750.9 651 751.3 574 793.3 479 770.7 605.7 780.7 542.4 790.8 574 800.9 642 806.1 642 753.7 569.5 737 510.7 817.7 492.5 787.1 610.3 791.4 483.5 820.4 632.9 776.9 524.2 755.1 488 807.1 642 802.2 438.2 798.7 637.4 757 605.7 805.1 438.2 731.6 469.9 755.6 619.3 761.1 637.4 755.4 583.1 785.2 542.4 885.2 587.6 768.9 574 752.5 542.4 826 442.7 759.3 528.8 785.2 574 759.6 510.7 754 651 792.7 528.8 746.7 601.2 784.1 510.7 751.2 497.1 781.9 447.3 801.5 501.6 824.2 551.4 756.1 642 812.8 501.6 821.1 546.9 777.7 456.3 762.4 456.3 766.1 515.2 785.9 451.8 785 515.2 800.7 587.6 756.4 551.4 760.6 583.1 748.4 592.2 758.7 555.9 745.3 578.6 803.4 465.4 771.8 614.8 766.7 596.7 820.2 642 789.7 474.4 804.2 637.4 788.4 515.2 743.2 488 793.7 533.3 745.9 637.4 818.7 605.7 800.8 574 734.1 506.1 811.7 438.2 743.2 465.4 772.5 433.7 756 542.4 803.2 460.8 748.5 592.2 770.8 637.4 821.6 632.9 818.8 438.2 781.8 578.6 784.8 551.4 819.4 460.8 789.7 546.9 796.1 483.5 779.9 528.8 822.9 642 764.2 488 831.6 569.5 766.2 524.2 755.1 492.5 790.6 469.9 811.9 632.9 816.3 651 799.3 528.8 782.4 637.4 812.6 469.9 791 506.1 804.8 492.5 783 497.1 814.3 497.1 794 474.4 757.3 569.5 784.5 479 742.8 524.2 825.9 442.7 783.4 447.3 846.4 637.4 787.7 442.7 768.5 578.6 799.2 442.7 756.7 623.9 765.3 632.9 757.8 483.5 761.4 596.7 749.8 474.4 796.9 605.7 746.7 601.2 744.4 438.2 738.4 438.2 784.1 596.7 754 533.3 751 483.5 818.6 542.4 740.8 465.4 795 587.6 774.6 578.6 751.2 442.7 743.8 565 747.1 637.4 806.5 483.5 777.4 501.6 764.6 646.5 809.2 646.5 750.9 646.5 759 610.3 738.5 456.3 784 528.8 765.2 614.8 743.4 533.3 799.7 546.9 817.9 565 804.4 619.3 791.7 433.7 793.4 451.8 810.2 483.5 775 442.7 815.2 592.2 739.4 506.1 795.3 551.4 804.4 506.1 742 646.5 745.8 642 763.8 528.8 811.8 497.1 792.9 546.9 776.5 623.9 819.7 632.9 791.1 601.2 755.6 651 824 583.1 740 519.7 770.7 601.2 745.6 510.7 816.1 442.7 742.9 578.6 729.5 546.9 752 592.2 751.7 497.1 822.2 560.5 740.8 569.5 834 442.7 765.4 519.7 786.5 565 771.7 515.2 767.3 578.6 802.1 451.8 775.3 542.4 742 433.7 815.7 560.5 826.2 596.7 762.2 601.2 790.3 542.4 794.8 456.3 811.6 596.7 803.4 542.4 797 560.5 801.9 560.5 749.1 488 783.4 623.9 770.5 519.7 766.7 587.6 813.4 433.7 782.9 614.8 737.8 510.7 773.5 596.7 762.4 442.7 803.3 642 806.8 442.7 807.6 451.8 811.6 592.2 813.1 497.1 798.7 578.6 771 551.4 779.7 592.2 777.4 501.6 781.1 637.4 745.8 555.9 767.5 551.4 750.8 492.5 755.9 560.5 825 578.6 811.9 628.4 763.7 515.2 801.9 592.2 759.4 479 827.8 542.4 804 651 795.9 623.9 744.6 628.4 833.7 501.6 790 646.5 819.5 524.2 758.9 479 740.9 605.7 761.5 460.8 780 542.4 835.6 433.7 763.1 614.8 739.1 651 803.6 501.6 820.9 515.2 769.7 587.6 815.9 551.4 739.5 596.7 822.9 519.7 819.4 528.8 817.7 610.3 816.3 614.8 740.7 560.5 745.4 583.1 781.4 614.8 775.9 637.4 744.9 465.4 741.5 560.5 792.8 528.8 748.9 551.4 785.8 546.9 756.3 537.8 802.9 542.4 761.2 465.4 767 506.1 761.3 528.8 737.2 524.2 770.8 510.7 737.9 542.4 740.3 528.8 821.5 528.8 759.9 542.4 785.2 610.3 782 447.3 782.7 488 792.7 456.3 779 565 743.1 542.4 873 474.4 764.4 456.3 757.6 605.7 760.5 501.6 814.5 501.6 788.3 587.6 757.3 542.4 749.9 578.6 814.7 442.7 770.3 519.7 783.1 537.8 820.4 469.9 793.6 474.4 769.8 560.5 826.3 537.8 796.5 501.6 783.4 488 812.9 623.9 772.9 479 767.9 528.8 779 542.4 764.8 583.1 753.6 642 816 451.8 755.6 610.3 806.2 596.7 821.2 578.6 812.4 628.4 730.3 456.3 803.4 469.9 811.5 587.6 741 479 795.4 483.5 797.8 465.4 768.5 623.9 785.6 569.5 762.4 565 739.2 651 759.8 483.5 809.2 565 772.8 519.7 763 623.9 782.5 483.5 816.8 587.6 757 574 826.9 442.7 827.7 610.3 769.7 442.7 743.5 546.9 787.6 642 789.1 501.6 753.5 542.4 804.4 519.7 744.7 492.5 742.7 456.3 778.3 546.9 763.7 488 822.2 456.3 793.4 528.8 785.5 623.9 773.1 438.2 794.7 646.5 752.6 565 737.7 519.7 777.7 601.2 739 492.5 802.5 433.7 846.4 456.3 761.1 465.4 791.8 542.4 761.8 474.4 755.3 474.4 767.8 642 747.6 632.9 826.9 492.5 794.1 583.1 775.1 569.5 823.9 560.5 756 592.2 760.8 542.4 809.9 474.4 757.7 632.9 787.9 596.7 761.9 469.9 754.3 637.4 820.4 519.7 753.1 569.5 800.6 433.7 782.6 492.5 780.8 642 800.9 565 760.1 569.5 813.9 560.5 782.1 528.8 808.7 565 805.1 456.3 784.1 551.4 755.6 578.6 757.6 542.4 808 542.4 750.2 433.7 767.6 642 801.1 546.9 743.9 560.5 783.2 592.2 786.3 501.6 805.5 506.1 782.7 610.3 824.6 551.4 816.1 474.4 762.3 492.5 769.8 469.9 771.8 565 740.2 497.1 779.4 614.8 747.3 601.2 830.1 433.7 794.2 578.6 740.8 501.6 818.5 524.2 796.8 542.4 798.4 479 749.1 515.2 746.2 460.8 811.3 537.8 772.9 479 812.1 565 777.4 542.4 818.8 583.1 770.6 587.6 794.6 524.2 786.5 601.2 816 451.8 753.2 583.1 767.7 646.5 782.1 497.1 774.4 483.5 753.3 632.9 825.4 488 752 623.9 806 565 841.2 451.8 788.7 479 746.4 451.8 742.4 574 815.6 601.2 791.7 524.2 763.6 555.9 789.5 555.9 745.7 506.1 735.1 438.2 777.2 569.5 761 537.8 759.4 632.9 755.8 469.9 775.4 565 786.5 578.6 780.6 492.5 795.4 637.4 832.7 551.4 747.6 596.7 811.3 628.4 814 442.7 737.7 469.9 745.1 628.4 780.3 442.7 787.4 469.9 741.1 492.5 748.1 456.3 737.7 632.9 767 578.6 748.8 442.7 816.3 479 754.8 456.3 800.4 465.4 821.5 601.2 775.9 587.6 779.1 524.2 749.2 614.8 746.3 601.2 792.6 637.4 796 601.2 818.1 542.4 769.9 533.3 813 488 746.7 447.3 818.4 651 758.7 601.2 727.2 551.4 759.5 528.8 747.6 451.8 776.9 528.8 747.3 592.2 809 506.1 796.7 492.5 815.8 515.2 757.2 623.9 810.2 542.4 761.2 642 768.2 642 761.7 483.5 792.8 651 780.7 469.9 772.5 474.4 754.4 492.5 818.6 474.4 829.6 483.5 746.6 469.9 788.7 587.6 761.6 546.9 809.4 451.8 784.8 488 815.5 642 795.7 528.8 767.7 488 774.3 546.9 783.1 569.5 808.9 623.9 802.9 474.4 820.1 537.8 820.6 614.8 818.5 483.5 754 483.5 747.3 642 781.4 637.4 745 510.7 797.6 438.2 788.2 565 770.6 528.8 752.1 447.3 745.8 456.3 738.9 456.3 778.7 533.3 818.9 565 739.4 479 773.7 551.4 819.7 565 798.7 465.4 801 501.6 807.5 619.3 827.7 637.4 765.9 619.3 788 546.9 826.7 474.4 805.8 587.6 791.9 646.5 819.1 501.6 777.4 623.9 759.8 442.7 753.5 488 824.9 546.9 747.3 515.2 802.6 619.3 742 528.8 780 583.1 813.1 583.1 809.9 506.1 747.4 465.4 767 479 821.3 587.6 739.6 637.4 804 642 741.8 610.3 816 555.9 802.5 596.7 809.9 642 821 438.2 794.1 583.1 813.6 447.3 824.5 551.4 809.1 465.4 814.6 583.1 754.4 587.6 754.6 560.5 755.6 497.1 799.4 578.6 797.1 460.8 749.9 451.8 739.7 442.7 727.6 560.5 806 519.7 789.2 515.2 819 565 740.8 551.4 803.9 537.8 778.3 465.4 814.5 488 810.9 578.6 762.8 637.4 771.9 515.2 796.6 542.4 844 497.1 787.6 524.2 760.8 524.2 759.7 488 773 542.4 814.4 488 827.1 610.3 777.9 596.7 809.9 628.4 800.7 628.4 807.4 560.5 809.6 542.4 700 447.3 815.7 533.3 775.4 510.7 822.1 605.7 784 592.2 798.1 596.7 822.3 460.8 808.1 646.5 744.7 619.3 781.1 469.9 756.8 565 740.7 506.1 796.4 628.4 783.8 465.4 740.6 447.3 738 501.6 741.9 537.8 807 456.3 766.1 646.5 773.4 583.1 746.3 542.4 869.9 614.8 749.1 619.3 819.1 565 799.3 623.9 823.7 460.8 809.1 560.5 743.3 542.4 721.6 642 816.1 497.1 817.3 614.8 791 492.5 753.9 442.7 810.3 510.7 754.1 578.6 771.1 587.6 821.4 433.7 758.9 492.5 799.3 456.3 820.7 596.7 759.7 560.5 796.5 483.5 738.8 642 747.3 546.9 748.8 574 777.1 460.8 781.1 510.7 807.1 578.6 819.4 460.8 790.7 592.2 794.5 601.2 762.2 474.4 821.1 610.3 732.6 610.3 745.6 479 800.3 451.8 783.3 447.3 846.3 605.7 785 596.7 819 519.7 773.7 442.7 746.3 510.7 774.3 569.5 852.7 542.4 789.3 497.1 808.4 506.1 796 488 775.8 501.6 757 619.3 792.3 524.2 808.3 542.4 766.6 447.3 794.7 433.7 800.3 528.8 782 533.3 802.8 560.5 817.4 533.3 811.3 433.7 744.3 451.8 755.3 528.8 799.7 642 770.8 474.4 788.6 546.9 816.8 637.4 814.2 497.1 799.8 460.8 788.9 515.2 750.7 537.8 779.8 565 784.2 460.8 802.4 628.4 795 433.7 825.1 569.5 749.9 542.4 824.8 438.2 766.4 619.3 747.8 451.8 805.1 646.5 779.2 637.4 753.1 447.3 780.6 551.4 816 574 750.2 560.5 819.7 619.3 749.1 510.7 799.5 537.8 811.8 592.2 764.8 519.7 814.4 524.2 802 592.2 757.5 447.3 754.9 583.1 783.9 442.7 801.7 592.2 755.4 574 777.4 637.4 795.2 605.7 741.8 537.8 751.4 569.5 754.6 456.3 771.3 479 753.8 451.8 759.1 438.2 777.5 565 795.9 469.9 758.8 479 799.4 578.6 744.6 519.7 822.5 651 790 447.3 743.6 483.5 760.9 646.5 817.9 614.8 760 515.2 769.9 623.9 777.6 528.8 758.5 483.5 744.3 515.2 802.8 519.7 776.6 592.2 751.2 587.6 752 447.3 837 596.7 804.7 510.7 787.1 456.3 775.3 456.3 786.1 574 748.3 456.3 784.3 560.5 842 465.4 750 488 790.8 560.5 813.4 501.6 820.6 488 742.8 628.4 833.1 510.7 812.2 569.5 787.1 492.5 835.9 474.4 785.8 614.8 759.9 605.7 741.8 587.6 771.1 560.5 808.1 651 822.2 574 811 497.1 823.3 642 782.8 438.2 774.5 637.4 807.8 492.5 782.3 596.7 756.2 474.4 809.3 542.4 751.6 555.9 789.6 447.3 760.6 574 772.8 438.2 778.6 565 774.9 623.9 741 596.7 824.8 623.9 809.4 488 787.5 524.2 805.6 560.5 831.1 465.4 825.9 651 803.5 537.8 768.1 623.9 798 456.3 775.8 456.3 748.2 551.4 776.2 592.2 745.2 438.2 814.1 524.2 742 533.3 796.7 483.5 811.1 560.5 823.3 519.7 774.3 506.1 787.5 578.6 815.4 596.7 791.1 623.9 743 542.4 814 642 765.2 542.4 851.2 524.2 757.7 474.4 738.4 537.8 780.6 479 760.1 555.9 801.7 623.9 830.9 583.1 736.1 610.3 784 438.2 774.8 460.8 789.4 474.4 785.4 551.4 819.4 433.7 786.8 442.7 769.6 596.7 762.7 488 766.8 623.9 785.5 474.4 766.3 433.7 799.1 623.9 776.5 492.5 748.7 510.7 763.2 542.4 823.6 488 807.6 610.3 759.6 614.8 772.3 501.6 770 510.7 806.6 601.2 769.7 519.7 846.3 610.3 751.6 574 792.7 560.5 755.6 614.8 822 447.3 741.9 515.2 777.6 519.7 747.7 569.5 778.3 456.3 813.7 596.7 808.5 451.8 769.3 519.7 758 442.7 772.1 465.4 742.8 614.8 814.6 623.9 741.9 506.1 820.1 551.4 756.3 479 792.4 601.2 762.2 542.4 821.2 614.8 783.2 469.9 749.8 565 744.9 542.4 797.2 528.8 749.3 519.7 806.5 515.2 745.4 605.7 756.1 456.3 800.3 587.6 814.1 551.4 822.4 456.3 767.8 546.9 776 465.4 741.7 592.2 786.3 583.1 819.1 447.3 743.8 565 781.9 456.3 804.4 555.9 743.7 605.7 793.5 623.9 745 501.6 765.4 433.7 807.4 614.8 796.4 542.4 712 546.9 743.7 583.1 746.2 628.4 783.6 596.7 747.2 533.3 812.3 619.3 746.8 488 812.5 483.5 756.4 465.4 788.1 614.8 819 642 796.6 546.9 808.9 524.2 810.6 506.1 794.2 560.5 782.3 465.4 763.9 578.6 785.8 533.3 797.2 519.7 813.2 623.9 759.5 651 767.9 465.4 743.9 610.3 756.2 610.3 740.7 614.8 794.7 542.4 788.9 456.3 773.4 533.3 753.2 574 798.7 555.9 782.4 510.7 793.4 555.9 762 642 775.7 492.5 769.1 642 751.3 578.6 823.2 497.1 737.6 546.9 813.7 623.9 748.8 542.4 797.9 574 744.7 483.5 741.8 555.9 820 542.4 767.7 605.7 759.8 637.4 752.1 474.4 786.4 605.7 816.5 619.3 762.6 469.9 800.2 460.8 738.1 501.6 795.5 510.7 755.7 506.1 790.5 546.9 780.9 447.3 824 506.1 740.8 546.9 811.7 469.9 814.3 456.3 783.7 537.8 772.5 510.7 763.2 460.8 816.7 605.7 803.9 583.1 745.5 560.5 774.5 610.3 782.4 587.6 809 528.8 792.5 456.3 792.2 551.4 795.7 614.8 791 488 818.9 451.8 801.2 451.8 823.3 537.8 786.8 614.8 809 501.6 779.8 479 791.2 587.6 818 637.4 773.1 574 822.4 488 765.6 528.8 824 483.5 777.3 583.1 826.8 542.4 824.5 546.9 816.6 488 786.8 524.2 827.3 587.6 812.4 510.7 753.6 628.4 766.4 542.4 743.2 479 815.8 542.4 787.1 479 798 601.2 805 551.4 743.3 474.4 745.8 492.5 783.9 578.6 780.5 637.4 786.1 528.8 763.9 447.3 764.6 651 762.3 510.7 738.5 646.5 810.2 479 813.6 460.8 750.4 533.3 812.1 569.5 820.3 488 793.5 460.8 743.9 637.4 824.3 479 743.2 460.8 832.8 542.4 793.2 483.5 757.4 565 766.9 551.4 821.2 637.4 759 501.6 762.2 592.2 814.5 447.3 754.2 524.2 796.6 451.8 780.1 451.8 743.1 515.2 761.7 632.9 766 519.7 799.2 497.1 760.1 497.1 801.4 483.5 816.4 642 794.2 619.3 822.9 465.4 777.2 447.3 795.7 515.2 799.5 569.5 746.9 488 791.6 565 783.4 614.8 763.7 442.7 812.9 628.4 811.8 438.2 768.4 628.4 734.2 438.2 775.4 488 804.8 574 733.9 646.5 818.2 506.1 770 555.9 776.2 515.2 771.5 619.3 795.7 497.1 815.8 542.4 809.2 601.2 813 574 843.4 555.9 802.8 451.8 785.4 492.5 786.9 465.4 801 637.4 738 451.8 819.1 551.4 768.7 651 799.6 488 810.7 488 747 605.7 756.8 587.6 780 542.4 808.1 542.4 830.8 542.4 746.8 506.1 753.2 442.7 739.6 433.7 811.3 583.1 794.6 578.6 759.6 623.9 798.2 533.3 743.3 565 783.6 583.1 762.5 542.4 816.4 537.8 802.1 637.4 773.5 637.4 787.3 574 761.9 578.6 749 479 761.8 646.5 739.9 565 825.8 506.1 774.7 447.3 739.9 578.6 791.3 497.1 782.7 447.3 788.7 497.1 739.5 560.5 765.2 542.4 847.6 524.2 782.6 592.2 779.5 632.9 747.3 555.9 806.9 479 791.2 519.7 781.6 451.8 787.6 524.2 795.2 546.9 765.5 460.8 752.6 501.6 784.3 533.3 744.3 433.7 744.8 506.1 769.6 451.8 823.8 469.9 755.3 451.8 828.3 465.4 732.5 546.9 763.3 456.3 763.4 587.6 817.3 551.4 812.8 479 802.2 497.1 818.9 438.2 742.6 646.5 797.1 519.7 794 492.5 773.6 565 828.2 447.3 796.7 519.7 775.3 560.5 740.7 619.3 809.1 510.7 767.7 592.2 779.1 542.4 761.7 605.7 761.7 447.3 810.4 460.8 742.9 578.6 742.8 442.7 740.1 479 829.5 510.7 805.4 438.2 808 501.6 784.9 614.8 752.1 501.6 774.1 474.4 771.7 601.2 803.1 623.9 743.7 451.8 752.5 488 775.8 583.1 766.6 442.7 841.2 524.2 790.6 555.9 782.3 542.4 707.2 492.5 783.1 533.3 747.9 596.7 753.1 515.2 813.5 546.9 760 474.4 801.4 546.9 796.9 583.1 776.3 614.8 753.5 501.6 788.7 542.4 840.4 492.5 767 587.6 804.9 596.7 765.2 451.8 811 519.7 780.4 637.4 816.2 456.3 821.3 488 796.8 628.4 785.9 632.9 769.4 510.7 774.6 501.6 768.7 569.5 814.5 519.7 778.9 651 806.6 605.7 762 456.3 749 483.5 755.5 637.4 788.8 560.5 764.7 560.5 759.9 542.4 891.8 438.2 783.6 524.2 751.3 555.9 801.2 537.8 798.4 637.4 805.2 510.7 760.5 574 769.2 632.9 768.8 614.8 753.4 555.9 740.6 583.1 802.3 433.7 744 474.4 742.3 546.9 752.6 551.4 810.2 451.8 794.8 605.7 796.7 555.9 773.9 587.6 750.1 560.5 721.6 492.5 821.1 542.4 747.7 510.7 764.7 510.7 768.3 555.9 789.8 596.7 752.7 605.7 745.9 565 753.3 537.8 826.5 605.7 764.7 623.9 824.8 537.8 770.4 610.3 753.3 433.7 779.3 646.5 797.2 465.4 815.1 510.7 799.2 560.5 781.4 551.4 817 488 762.4 614.8 768.7 510.7 780 642 762.3 442.7 784.3 601.2 756.1 646.5 738.7 533.3 814 601.2 821 646.5 799.2 519.7 757.9 510.7 792.3 479 758.7 555.9 767.6 542.4 791 460.8 750.3 546.9 772.3 560.5 750.9 578.6 799.3 510.7 738 628.4 765.7 555.9 817.4 565 791 479 808.4 569.5 746.4 560.5 735.9 469.9 745.4 614.8 802.3 642 786.8 451.8 779.8 528.8 784.3 524.2 778 533.3 818 474.4 741.6 632.9 814.4 632.9 753.1 483.5 750.9 574 769.9 583.1 755.8 537.8 743.1 642 772.3 569.5 802.2 506.1 744.1 524.2 801.4 551.4 790.2 528.8 748.4 488 776.5 465.4 771.8 651 807.7 610.3 817.1 601.2 771 546.9 805.8 592.2 738.2 560.5 785 510.7 784.5 592.2 745.7 623.9 759.2 628.4 785.4 456.3 766.5 542.4 703.6 555.9 743.5 637.4 765.8 542.4 787.6 515.2 787 510.7 766.7 528.8 770.7 614.8 758.4 497.1 793.8 433.7 787 479 769.8 614.8 751.2 433.7 759.4 610.3 792.8 632.9 807 506.1 742.7 596.7 742.1 596.7 753 628.4 795.5 632.9 769.7 583.1 764.9 642 771.2 546.9 781 628.4 802.8 488 810 533.3 778.7 610.3 748.1 555.9 804.6 460.8 769.5 583.1 770.3 506.1 742.3 596.7 807.8 642 813 524.2 821.6 438.2 797 546.9 810.1 497.1 765.9 642 760.5 565 768.6 469.9 788.2 488 782.5 469.9 790.3 497.1 803 460.8 805.8 619.3 742.6 619.3 777.9 488 793.4 474.4 863.9 469.9 783.1 578.6 763.2 551.4 763.4 642 783.8 551.4 814.5 433.7 811.6 651 808.6 592.2 774.5 569.5 769.2 574 796.1 651 778.3 551.4 751.7 632.9 739 560.5 758.8 592.2 743.5 637.4 804.7 574 800.4 646.5 822.9 610.3 810.9 637.4 763.3 442.7 815.3 542.4 710.8 646.5 749.7 551.4 786.3 546.9 739.2 515.2 793.1 623.9 760.7 542.4 795.9 542.4 797.8 601.2 813 474.4 740.2 501.6 801.2 542.4 887.7 578.6 835.1 433.7 760.4 533.3 821.2 628.4 780.6 610.3 794.5 601.2 742.3 533.3 780.6 506.1 751.1 619.3 755 442.7 822 569.5 766.3 492.5 825 497.1 755.5 542.4 792.4 542.4 734.8 492.5 785.2 632.9 733.9 447.3 764.3 515.2 801.2 483.5 781.1 524.2 745.6 510.7 791.5 546.9 735.3 546.9 791.5 524.2 811.5 637.4 806.1 542.4 767 460.8 806.6 433.7 818 592.2 753 614.8 797.8 546.9 827.4 451.8 783.3 546.9 780.4 623.9 812.9 587.6 784.5 642 800.6 546.9 774.9 447.3 818.4 447.3 761 555.9 750.5 506.1 839.2 565 746 501.6 744.5 506.1 787.1 488 738.6 646.5 751.1 528.8 797.4 465.4 792.9 555.9 763.8 433.7 802.7 456.3 775.7 469.9 812 542.4 802.3 574 805.9 560.5 801 510.7 792.9 501.6 790.2 474.4 756.1 542.4 744.6 479 781.4 646.5 800.8 619.3 784.7 460.8 769.7 469.9 784.5 637.4 781 465.4 813.2 651 813.9 583.1 798.2 506.1 750.1 433.7 766.9 506.1 742 474.4 784.3 637.4 788.4 510.7 742.2 528.8 798.2 501.6 751.1 610.3 789.5 537.8 822.6 651 805.4 501.6 828.4 623.9 807.4 637.4 779.3 551.4 741.5 442.7 750.7 537.8 791.8 565 737.8 542.4 727.6 501.6 747.8 565 765.7 537.8 805.6 542.4 793.6 555.9 818.4 646.5 776.9 637.4 742 637.4 814.2 451.8 768 542.4 739.6 497.1 786.2 433.7 797 551.4 776.5 637.4 777.2 465.4 807.4 501.6 768.4 637.4 811.8 628.4 800.8 569.5 788 497.1 777.2 510.7 775.7 587.6 782.4 488 805.2 533.3 795.6 583.1 769.8 628.4 828.5 601.2 800.5 501.6 801.1 442.7 736.2 519.7 772.4 569.5 744.4 574 752.4 614.8 813.1 542.4 772.6 524.2 785.6 646.5 778.7 542.4 780.4 605.7 772.7 623.9 751.8 632.9 783.7 537.8 816.9 483.5 776 442.7 810.8 601.2 781.7 583.1 820.6 438.2 756.5 528.8 817.9 456.3 799.8 451.8 751.8 442.7 769.5 501.6 747.1 596.7 783 479 813.5 469.9 785.4 605.7 751 637.4 753.3 642 791.2 605.7 796.5 519.7 789.4 642 818.6 614.8 807.5 583.1 807.4 542.4 725.2 628.4 781.7 460.8 811.9 542.4 812.8 474.4 753.8 438.2 743.8 515.2 812.8 488 794.2 592.2 767 569.5 765.2 479 795.6 596.7 819.9 601.2 751.6 601.2 831.3 578.6 820.1 583.1 780.2 537.8 823.6 506.1 760.5 506.1 805.7 596.7 793.5 560.5 765.5 469.9 756.2 519.7 790.3 605.7 768.1 456.3 746.5 442.7 747.2 628.4 755.2 628.4 759.7 515.2 747.8 583.1 756.8 546.9 791.8 583.1 808.5 587.6 820.5 474.4 813.6 551.4 765.9 578.6 805.7 569.5 819.5 601.2 791.7 510.7 818.2 614.8 786.8 456.3 823.6 460.8 751.8 451.8 748 587.6 750.1 651 805.6 533.3 810.7 492.5 803.7 533.3 814.9 492.5 762 497.1 805.1 592.2 811.4 524.2 742.3 601.2 834.4 492.5 796.1 587.6 786 483.5 784.3 605.7 732.7 506.1 790.8 433.7 797.4 628.4 749.5 587.6 804 474.4 755.9 528.8 774.6 578.6 810.4 433.7 736.6 479 757.2 619.3 817.1 438.2 728.2 587.6 791.8 601.2 790.3 542.4 766.3 614.8 787.1 592.2 739.9 601.2 785.5 587.6 818.4 501.6 769.4 583.1 742.7 492.5 781.3 642 781 596.7 785.6 583.1 816.5 510.7 811.2 628.4 766.2 465.4 796.1 483.5 754.2 447.3 765.4 619.3 769.7 451.8 764.5 451.8 745.6 506.1 772.8 555.9 781.9 555.9 806.7 542.4 805.2 574 777.7 560.5 807.2 560.5 758.7 592.2 792.5 528.8 817.4 619.3 779.3 578.6 795.2 488 822.3 479 751.6 474.4 799.7 469.9 814.7 569.5 775 492.5 783.3 578.6 795.6 488 835.8 596.7 793.6 628.4 789.3 601.2 778.7 488 777.1 438.2 779.1 587.6 788.9 542.4 768.4 469.9 778.1 592.2 813.9 651 741.8 596.7 772.3 646.5 733.3 506.1 788.4 474.4 821.9 497.1 806.6 515.2 768.3 546.9 766.9 623.9 772.4 619.3 773.2 460.8 785.7 456.3 826.4 488 815.9 447.3 787.6 578.6 808.7 596.7 749.7 542.4 793.2 501.6 786.9 519.7 793.8 483.5 810.6 451.8 766.9 574 770.6 465.4 802.8 537.8 791.8 551.4 753.8 574 738 574 801.3 510.7 804.3 565 781.3 528.8 814.4 546.9 810.5 542.4 820 537.8 771.5 574 814.2 492.5 775.2 601.2 749.4 642 741.7 474.4 805.3 546.9 775.9 438.2 801.7 601.2 741.2 565 798.7 460.8 780.9 537.8 746.6 628.4 806.7 479 785.9 596.7 825.7 488 766 623.9 746.9 569.5 811.8 623.9 812.4 546.9 784.7 483.5 806.4 619.3 767.2 628.4 820.4 642 824.8 587.6 827.8 619.3 762.7 637.4 816.2 637.4 739 483.5 784 488 789 551.4 818.7 596.7 822.5 483.5 802.7 642 768.4 583.1 776.3 533.3 802.4 605.7 734 610.3 810.6 519.7 789 646.5 809.9 483.5 783.5 456.3 759.4 574 754.4 605.7 766 646.5 819.5 433.7 772.3 574 821.6 651 745.3 474.4 799 533.3 814 451.8 801.2 619.3 822.5 542.4 848.5 546.9 798.2 528.8 755.3 456.3 806 537.8 784.4 551.4 805 551.4 781.2 583.1 785.9 474.4 820.3 551.4 812.6 447.3 739.1 587.6 806.1 469.9 816.9 438.2 822.5 646.5 813.5 506.1 808.5 610.3 826.9 628.4 753.1 592.2 751.1 619.3 821.6 569.5 767.1 519.7 806.8 433.7 767.2 601.2 823.1 610.3 799.4 469.9 779.1 479 745.4 632.9 768.8 555.9 772.9 623.9 817.1 632.9 782.1 528.8 735.6 623.9 776.3 542.4 733.6 605.7 802 651 810.8 628.4 782.1 460.8 761.9 614.8 772.8 497.1 800.3 642 816.3 583.1 750.7 574 736.7 447.3 801.8 438.2 761.4 542.4 762.4 515.2 739.9 456.3 749.3 560.5 750.8 565 818.6 528.8 765.9 528.8 780.5 619.3 792.7 515.2 799.4 442.7 793.8 546.9 762.4 619.3 774.3 569.5 746.2 619.3 770.4 542.4 706 651 759 542.4 781.6 474.4 782.1 578.6 798.4 569.5 827.8 642 823.4 510.7 808.4 578.6 821.7 610.3 774.2 433.7 807.5 583.1 774.6 651 774.2 542.4 724 524.2 813.6 542.4 845.2 479 794.2 492.5 824.2 474.4 804.1 632.9 770.8 565 811.5 483.5 803 642 763 533.3 818.1 438.2 740.8 497.1 845.6 651 754.6 497.1 780.2 642 753.5 506.1 754.9 569.5 772.8 601.2 777.3 596.7 748.5 524.2 750.7 596.7 741.8 442.7 813.1 515.2 782.5 596.7 735.1 610.3 801.6 528.8 762.9 433.7 745.6 628.4 757.8 465.4 740.3 632.9 810.1 651 761.2 465.4 779.9 551.4 744 628.4 764.7 528.8 737.9 469.9 763 592.2 823.2 578.6 759.3 438.2 742.3 506.1 774.3 565 749.6 519.7 748.5 483.5 781.7 551.4 768.2 447.3 767.1 614.8 813.4 560.5 815.1 438.2 742.9 519.7 785 456.3 744.7 501.6 753.5 637.4 772.3 488 773.2 447.3 801.2 601.2 814.1 533.3 759.9 637.4 776 651 766.4 651 742.1 438.2 787.1 433.7 739.1 623.9 781.1 465.4 813.1 479 730.5 569.5 815.2 610.3 765.6 637.4 748.9 501.6 768.1 551.4 753.2 479 787.4 623.9 819.2 488 791.3 479 794.4 605.7 842.8 528.8 742.9 592.2 762.3 533.3 826.1 555.9 784.5 524.2 746.9 637.4 747.7 506.1 762.9 533.3 796.6 574 745.6 447.3 752.1 506.1 751.5 474.4 820.5 447.3 770 442.7 752.3 619.3 807.6 628.4 748.3 438.2 762.6 492.5 844.4 542.4 765.7 578.6 739.6 469.9 788.8 592.2 817.4 569.5 813.2 524.2 787.3 524.2 790.3 642 760.5 642 808 601.2 794 433.7 752.8 479 791.6 619.3 746.6 488 764.9 583.1 761.6 578.6 746.7 551.4 792.8 555.9 812.2 492.5 825.1 637.4 858.5 583.1 810.4 433.7 740.3 628.4 823.1 492.5 774.3 497.1 816.4 469.9 793.5 565 759.4 551.4 796.1 451.8 753.6 574 739.5 619.3 779 465.4 750.2 628.4 767.7 442.7 758.3 433.7 774.1 646.5 797.6 596.7 743.9 637.4 743.6 637.4 760.5 501.6 754.6 578.6 824.1 501.6 784.4 519.7 800.7 465.4 787.8 469.9 770.2 565 745.2 465.4 775 646.5 773.6 596.7 746.5 632.9 754.7 442.7 841.1 596.7 762.4 515.2 790.3 574 811.2 447.3 737.8 515.2 807.5 569.5 813.7 574 793.5 569.5 777.6 646.5 786.7 578.6 815.6 546.9 783.5 619.3 752.8 632.9 783.4 483.5 820.8 456.3 771.9 519.7 746.7 515.2 800.6 551.4 794.8 510.7 783.1 592.2 755.1 555.9 823.3 560.5 780.8 524.2 801 592.2 794.3 528.8 790.9 433.7 741.4 519.7 766.6 646.5 742.7 587.6 760.6 542.4 822.2 619.3 820.5 465.4 741.5 560.5 796.4 524.2 744 492.5 769.3 555.9 805.6 642 782.8 451.8 740.1 583.1 793.4 533.3 804.2 601.2 798.3 456.3 759.4 596.7 826.9 623.9 816.4 542.4 833.2 592.2 790.1 605.7 814.2 632.9 809.8 506.1 812.7 506.1 780.5 506.1 766.4 542.4 865.8 596.7 773.3 465.4 799.6 542.4 850 546.9 815.6 510.7 777.1 596.7 786.8 479 758.2 515.2 809.8 551.4 771.4 524.2 757.4 510.7 755.2 528.8 819.3 637.4 797.2 592.2 791.7 623.9 742.6 506.1 816.4 546.9 781.7 574 799.5 456.3 774.8 587.6 777.8 524.2 780.9 605.7 796 510.7 742.4 555.9 816.1 479 749 605.7 777.4 592.2 793.4 565 768.7 614.8 802.8 551.4 793.6 537.8 754.3 632.9 814 433.7 832.5 433.7 776.9 555.9 817.3 578.6 751.9 601.2 764.3 479 782.5 542.4 854.8 442.7 802.3 515.2 821.7 510.7 755.2 465.4 811 451.8 783.4 447.3 783.2 542.4 758.8 501.6 777.6 483.5 821.2 628.4 839.6 510.7 738 537.8 815.3 537.8 775.4 646.5 747.9 474.4 802.8 619.3 770 533.3 803.2 497.1 821.1 614.8 747.1 469.9 757.9 537.8 804.6 456.3 806.1 555.9 792.9 574 776.4 479 757.8 510.7 816.4 542.4 756.5 646.5 819.3 546.9 817.1 474.4 804.4 551.4 792.7 488 783.9 483.5 752.7 433.7 747.5 533.3 797.3 569.5 804.8 469.9 751.6 497.1 806.4 474.4 753.2 497.1 759.5 542.4 800.9 497.1 819.7 551.4 778.1 519.7 809.7 637.4 819.9 651 754.2 569.5 807.1 578.6 751.7 483.5 806.9 519.7 739.1 474.4 795.3 528.8 798.4 578.6 780 610.3 778.9 488 845.2 555.9 783.5 528.8 776.3 519.7 743.1 578.6 755.8 433.7 801.2 642 793.9 596.7 758.4 605.7 738.5 542.4 828.4 479 818.2 465.4 763.4 592.2 773.3 451.8 769.4 623.9 781.4 614.8 823.3 510.7 745.7 451.8 788.2 596.7 796.9 519.7 792.5 497.1 819.1 542.4 754 497.1 805.1 501.6 777.6 623.9 756.6 451.8 812.9 565 809.1 528.8 761.5 583.1 778.1 637.4 745.3 546.9 774.3 560.5 772.5 555.9 836.6 506.1 763.6 614.8 777.4 497.1 775.2 524.2 753.1 528.8 739.3 642 761.2 533.3 820.4 601.2 761 632.9 805.7 614.8 799.4 537.8 844 605.7 818.5 537.8 792 474.4 778.5 501.6 790.7 565 771.2 610.3 800.4 601.2 791.6 596.7 760.4 623.9 754.9 456.3 740.1 488 748.5 447.3 788.7 542.4 852.4 551.4 777.2 442.7 772.7 592.2 799.4 646.5 774.3 528.8 748.9 474.4 820.5 565 816.3 596.7 794.9 623.9 767.3 533.3 793.9 460.8 833.7 488 777.1 533.3 757.5 628.4 809.1 642 805.8 515.2 777.8 542.4 747.3 596.7 789.4 460.8 746.3 578.6 772.1 583.1 757.9 555.9 811.1 537.8 763.2 510.7 740.8 492.5 751.9 488 768.1 465.4 747.7 519.7 795.7 569.5 747 628.4 761.6 623.9 738.9 632.9 757 542.4 862.3 619.3 785.1 438.2 754.5 501.6 779.1 433.7 819.1 623.9 758.8 623.9 777.6 583.1 789.8 632.9 776.6 578.6 752.3 546.9 804.6 546.9 780.8 519.7 771.4 442.7 759.2 519.7 753.8 623.9 765.7 619.3 748.4 451.8 774.2 587.6 746.7 469.9 787.5 596.7 816.8 583.1 803.9 560.5 748.1 642 777.1 438.2 754.4 474.4 784 619.3 763.8 501.6 812.5 651 737.9 542.4 749.8 596.7 750.1 605.7 778.8 488 775.9 542.4 714.4 483.5 827.6 492.5 778.8 533.3 780.2 578.6 800.9 578.6 749.4 442.7 767.5 438.2 766.4 497.1 800.4 596.7 815.3 465.4 775.1 524.2 778.2 460.8 770.2 565 825.5 524.2 818.9 587.6 781.1 460.8 753 565 746.6 560.5 803.4 442.7 734.1 551.4 771.3 651 760.1 578.6 745.2 587.6 845.1 469.9 793.5 596.7 826.8 610.3 760.4 632.9 757.7 506.1 781.7 651 843.1 628.4 802.9 533.3 807 605.7 742 456.3 739.7 605.7 738.6 542.4 774.8 433.7 740.3 528.8 780 510.7 774.5 537.8 754.3 433.7 836.7 642 795.3 569.5 788 438.2 754.8 646.5 782.7 592.2 777.2 506.1 773.2 506.1 763.3 488 776.6 651 754.8 651 811.5 533.3 744.4 537.8 786.2 601.2 817 456.3 775 456.3 856.3 646.5 761 524.2 785 587.6 808.7 642 748.4 533.3 809.1 596.7 781.7 614.8 806.1 560.5 802.8 492.5 821.9 510.7 741.1 646.5 802.3 515.2 758 551.4 805.6 628.4 758.2 456.3 775.5 542.4 848.8 483.5 774 515.2 796.8 614.8 736.5 614.8 776.7 560.5 755.8 506.1 736.6 519.7 762.6 528.8 794.9 542.4 821.5 642 777.9 506.1 746.3 614.8 767.9 519.7 782.2 637.4 814.9 551.4 783.7 551.4 809.4 596.7 792.2 519.7 737.1 488 749.9 592.2 795 542.4 880.1 596.7 823.4 555.9 803.1 519.7 740.1 578.6 779.8 555.9 766.8 492.5 800.4 578.6 758.3 623.9 797.2 592.2 785.1 465.4 801 515.2 750.3 492.5 756.6 488 794.8 637.4 779.2 506.1 775.9 578.6 789.1 560.5 749.7 646.5 771.3 546.9 818.8 596.7 748 596.7 759.8 555.9 816.5 537.8 793.1 632.9 763.4 510.7 793.1 565 749.5 628.4 825.5 442.7 767.9 551.4 769.7 479 748.8 542.4 788.1 537.8 756.8 474.4 804.6 460.8 786.6 451.8 794.5 533.3 752.1 565 741.4 542.4 816.3 451.8 773.7 528.8 804 560.5 763.9 451.8 815.3 442.7 779 492.5 753.4 610.3 750.1 623.9 776.4 646.5 762.3 524.2 794.8 510.7 787.3 510.7 806.4 605.7 804.8 469.9 802.9 506.1 778 501.6 761.6 447.3 789 533.3 830.9 632.9 762.1 469.9 814 515.2 753.4 542.4 759.7 605.7 734.3 465.4 820.8 483.5 767.8 469.9 782.4 469.9 792.7 451.8 742.7 619.3 770.9 519.7 794.1 596.7 748.2 596.7 787.8 510.7 756.8 628.4 731.8 569.5 842.3 619.3 759.5 587.6 815.4 642 745.4 488 793.4 533.3 736.5 501.6 772.9 569.5 756.9 632.9 805.9 569.5 783.8 524.2 786.8 583.1 782.8 528.8 749.4 506.1 802.8 628.4 810.9 619.3 749.3 560.5 739.7 506.1 823.4 528.8 812.7 442.7 798.4 433.7 736.6 497.1 798 438.2 807.8 497.1 787.4 551.4 744.8 646.5 796.9 456.3 778.2 492.5 806.7 524.2 802.4 528.8 742.4 460.8 816.1 515.2 786.6 565 807.4 628.4 749.3 510.7 742.7 642 750.8 610.3 825.1 542.4 755.2 574 768.1 510.7 784.6 519.7 784.4 542.4 770.7 546.9 754.1 619.3 766.3 551.4 805 569.5 754.8 456.3 794.4 555.9 802.9 528.8 798.2 623.9 763.8 623.9 779.8 601.2 810 506.1 766.8 623.9 820.5 447.3 732.1 483.5 753.2 578.6 764.8 524.2 768.1 460.8 773.6 542.4 814.9 651 766.6 506.1 845.9 565 763.4 451.8 799.3 569.5 769.7 497.1 788.1 497.1 755 565 777.5 433.7 753.1 574 750.8 537.8 749.6 551.4 809.7 619.3 759.1 488 791.3 506.1 759 506.1 815.4 528.8 756.3 501.6 786.2 542.4 762 601.2 762.1 483.5 812.9 492.5 805.1 460.8 778.5 451.8 829.5 542.4 786.4 506.1 761.6 623.9 848.1 442.7 815.5 642 743.2 479 814.8 456.3 820.6 637.4 769.9 542.4 757.5 642 773 601.2 778.1 596.7 815.1 492.5 804.4 542.4 777.2 546.9 798.4 542.4 843.5 646.5 789.2 442.7 789 465.4 772.9 565 735 583.1 767.5 492.5 792.8 569.5 765.9 469.9 750.7 488 803.9 474.4 785.1 537.8 791.2 460.8 748.6 469.9 842 519.7 742.2 533.3 789.8 592.2 745.4 465.4 756.2 537.8 772.3 451.8 813.2 610.3 777.2 546.9 744 433.7 797.2 501.6 811 601.2 765.6 497.1 779 515.2 793.8 610.3 804.7 488 770.4 551.4 769.3 555.9 790.6 460.8 769.2 619.3 749.8 632.9 792 515.2 777.1 596.7 781.8 632.9 763.1 565 761.5 515.2 758.6 528.8 796.2 438.2 786.5 474.4 778 619.3 765 614.8 820.2 578.6 768.7 546.9 779.6 465.4 745.9 628.4 762.3 456.3 787.1 578.6 818.3 546.9 815.3 447.3 783.3 565 772.3 533.3 767.7 488 807 637.4 770.3 451.8 749.2 605.7 789.3 555.9 822.3 524.2 801 628.4 797.3 651 743 614.8 771.9 651 788.8 601.2 752.2 555.9 754.4 524.2 761.3 447.3 761.3 605.7 732.7 483.5 844.4 510.7 780.8 619.3 817.6 642 800.4 501.6 756.4 528.8 743.6 623.9 810.2 619.3 744.2 605.7 753 451.8 784.6 555.9 757.4 619.3 807.7 497.1 763.3 501.6 790.5 551.4 795.7 524.2 765.7 646.5 766.2 642 787.7 619.3 822.4 596.7 770 565 812.3 438.2 797.9 574 767.3 637.4 741.4 533.3 751.6 497.1 816.9 637.4 845.4 510.7 809 569.5 839.6 578.6 774 519.7 738.9 510.7 782.3 569.5 821.6 506.1 808 483.5 749.4 637.4 815.9 587.6 806.5 632.9 781.4 614.8 756 574 818.4 578.6 819.5 619.3 785.3 442.7 743.5 456.3 793 501.6 795.7 474.4 797.9 601.2 831 555.9 794.9 651 803.7 646.5 773.1 623.9 783.1 578.6 781.8 515.2 739.1 528.8 767 587.6 812.7 569.5 756.2 442.7 753 442.7 820.9 646.5 740.3 619.3 817.5 605.7 741.9 542.4 782.3 637.4 764.8 651 782.8 465.4 765.5 642 836.8 456.3 751 619.3 772.7 546.9 805.1 623.9 793.7 483.5 783.3 483.5 771.9 506.1 795.7 542.4 756.4 510.7 741.2 623.9 750.9 465.4 738 614.8 816.2 524.2 729.4 555.9 758.1 578.6 777.9 479 808.2 456.3 804.9 565 832.3 515.2 809.6 479 819 497.1 752.5 479 754 456.3 773 642 787.6 551.4 799.7 623.9 780 605.7 763.7 506.1 739.6 519.7 803.1 569.5 744.9 569.5 767.2 587.6 817.9 651 788.1 569.5 759.7 479 804.8 578.6 744.2 646.5 744.7 447.3 762.7 596.7 798.4 596.7 748.6 515.2 744.8 596.7 816.2 447.3 771.2 492.5 801.7 465.4 789.4 465.4 732.2 651 799.2 465.4 819 651 760.6 492.5 844.7 483.5 801.9 596.7 793.1 433.7 813.5 569.5 764.8 596.7 805.6 651 771.7 456.3 750.4 646.5 751.4 632.9 784.8 565 737.9 465.4 831.9 646.5 856.7 596.7 795.1 560.5 778.2 560.5 780.5 469.9 777.6 469.9 792 555.9 804.9 537.8 766.1 456.3 819.2 614.8 762.8 447.3 824.2 433.7 780.6 442.7 771 605.7 781.3 637.4 740 533.3 789.4 488 775 646.5 786.2 483.5 809 488 761.6 637.4 801.6 510.7 807.4 438.2 809.8 497.1 803.8 623.9 750.4 565 739.9 497.1 749.6 433.7 823.5 474.4 803.9 483.5 805.1 479 755.1 515.2 827 479 789.3 601.2 782.9 628.4 803.4 497.1 785.4 469.9 749.2 524.2 777.4 492.5 794.4 442.7 763.8 619.3 734.1 542.4 791.6 451.8 820.5 542.4 829.6 601.2 770.5 605.7 762.7 637.4 807.3 560.5 753.5 628.4 819.1 469.9 772.6 632.9 812.5 555.9 838.5 542.4 750.4 438.2 757.6 565 750 479 747.2 578.6 793.6 628.4 780.4 587.6 802.8 565 823.4 528.8 757.6 619.3 771.4 465.4 743.8 642 758.3 646.5 817.3 465.4 769.6 433.7 808.1 601.2 763.3 433.7 760.1 528.8 816.5 515.2 788.7 533.3 779.4 565 786.3 524.2 777.5 651 751.4 619.3 819.5 614.8 798.5 619.3 756.5 592.2 794.5 560.5 797.9 583.1 740.4 646.5 774.8 628.4 810.7 515.2 810.7 592.2 807.6 460.8 758 519.7 773.7 614.8 758.6 469.9 775.1 474.4 780.5 632.9 761.8 555.9 766.5 501.6 812.6 596.7 751.2 619.3 820.1 637.4 817.3 569.5 812.1 524.2 740 642 809.1 451.8 819.4 442.7 777.2 596.7 757.4 515.2 781.7 501.6 775.6 623.9 767.1 555.9 773.9 569.5 744.7 574 745.6 637.4 790.6 646.5 755.8 510.7 738.2 510.7 797.9 637.4 811 451.8 809.6 519.7 798.6 497.1 784.6 642 812.4 465.4 805.4 515.2 815.4 528.8 803.4 506.1 792.8 592.2 822.5 433.7 808.4 451.8 819.6 542.4 704.8 465.4 792.5 565 744.4 610.3 740.1 483.5 812.8 632.9 773.6 546.9 822.8 488 808.8 601.2 761.7 537.8 780.7 465.4 799.3 433.7 741.8 642 783.1 451.8 771.3 637.4 787.8 574 788.8 605.7 792.5 528.8 777.4 542.4 713.2 632.9 775.6 560.5 780.1 628.4 820.4 578.6 783.6 542.4 817.6 619.3 775.1 501.6 792 537.8 785.1 456.3 793.9 587.6 750.1 560.5 776.6 542.4 791.2 528.8 754.4 569.5 796.4 537.8 793.2 433.7 821 483.5 771.7 460.8 832.4 438.2 779.2 560.5 763.6 542.4 782.8 583.1 768.1 465.4 784.5 605.7 776.8 501.6 785.3 483.5 766.9 560.5 774.9 614.8 748.6 451.8 735.3 469.9 800.3 628.4 749.9 515.2 791.7 628.4 787.5 501.6 740.9 555.9 786.7 506.1 814.2 456.3 780.4 619.3 808.7 542.4 795.6 479 745.9 506.1 800.7 542.4 744.3 492.5 758.8 524.2 745.1 537.8 750.9 601.2 796.8 614.8 821 488 802.8 447.3 783.5 465.4 776.9 492.5 779.3 492.5 756.6 546.9 833.6 605.7 817.7 469.9 777.4 447.3 823.2 619.3 772 474.4 808.6 506.1 777.1 537.8 770.6 651 823.8 574 795.2 501.6 745.6 542.4 790 623.9 742.3 488 791 515.2 763 465.4 811.4 565 741.7 460.8 743 460.8 748.4 510.7 791 488 780.4 497.1 762.3 623.9 781.2 497.1 770.3 469.9 778.4 646.5 796 488 819.8 628.4 759.8 483.5 756 614.8 787.3 442.7 774 619.3 744.2 469.9 785.1 506.1 753.1 551.4 794.4 542.4 742 601.2 821.1 610.3 804.8 497.1 783.3 501.6 762.3 632.9 775.5 483.5 773 642 752.1 506.1 776.6 628.4 785 433.7 778 483.5 806.1 628.4 805.5 565 730.4 623.9 802.3 519.7 794.3 488 799.3 465.4 801.1 551.4 752.4 524.2 799.7 601.2 782.3 469.9 795.7 623.9 787 619.3 781.4 469.9 838.6 596.7 759.4 605.7 794 519.7 771.5 623.9 818.8 642 776.8 551.4 777.3 528.8 762.3 560.5 770.1 587.6 797.2 601.2 783.4 497.1 801.8 546.9 817.7 565 787.9 605.7 758.3 560.5 744.9 583.1 829.9 497.1 742 551.4 773.5 542.4 720.4 528.8 792 524.2 818.9 614.8 777.8 605.7 803.2 551.4 793.9 642 814.9 565 761.2 537.8 788.2 619.3 807.8 578.6 787.9 565 781.1 510.7 773.9 637.4 765.3 465.4 796.7 456.3 804.5 574 810.8 578.6 747.9 542.4 805 560.5 809.5 592.2 748.3 560.5 768.7 601.2 840 501.6 772.5 492.5 776 574 760.6 619.3 792.4 479 811.2 619.3 820.8 555.9 768.2 451.8 810.9 460.8 812.1 596.7 780.9 555.9 746.6 442.7 793.6 479 811.6 451.8 853.5 501.6 799.9 465.4 746.8 456.3 782.9 569.5 805.1 465.4 778.3 528.8 814 646.5 799.3 533.3 813.5 565 742.8 569.5 734.6 623.9 749.7 601.2 756.6 447.3 770.6 651 765.7 515.2 818.6 642 780.7 542.4 793.4 451.8 746.9 623.9 770.8 619.3 796.9 479 742.9 546.9 817.8 623.9 800.9 474.4 825.8 569.5 769.6 528.8 785.4 460.8 764.2 592.2 735.3 474.4 814.5 488 746.3 592.2 781.8 596.7 815 565 804.5 483.5 752.1 524.2 750.6 460.8 801.8 479 795.1 546.9 741 565 745.1 451.8 778.9 515.2 737.2 565 779.1 442.7 738 619.3 772 519.7 748.7 632.9 812.8 465.4 762.8 583.1 749.5 610.3 794.5 610.3 827.5 628.4 768.5 601.2 844.1 614.8 800.4 438.2 802.4 560.5 807.6 515.2 746.6 469.9 782.9 497.1 774.1 546.9 771.6 565 796.6 560.5 802.8 483.5 743.9 574 738 619.3 783.2 519.7 752.1 610.3 738.9 537.8 804.6 447.3 758 592.2 771.6 646.5 745.9 469.9 827.7 501.6 751.7 592.2 798.6 510.7 816.1 519.7 802.9 501.6 808.5 546.9 807.6 546.9 743.8 519.7 741 555.9 790.3 628.4 753.3 619.3 783.7 501.6 808.8 438.2 743.1 542.4 748 574 740 637.4 771.1 610.3 774.5 610.3 767 614.8 776.2 601.2 797.5 646.5 820.5 519.7 781.5 447.3 829.8 614.8 809 574 772.8 506.1 789.6 506.1 819.4 460.8 792.8 456.3 740.2 578.6 814.5 483.5 757.9 483.5 813.9 492.5 781.3 610.3 762.8 433.7 777 456.3 746.9 447.3 744.5 510.7 752.5 460.8 819.6 506.1 741.9 537.8 774 592.2 804.2 506.1 747.6 510.7 736.7 578.6 820.8 637.4 751.2 628.4 804.6 501.6 758 637.4 807.2 528.8 779.6 605.7 781.7 451.8 773.3 442.7 746.5 474.4 748.2 510.7 799.5 596.7 805 651 818.2 555.9 821.8 601.2 767.2 497.1 820 465.4 832.7 483.5 749 596.7 749.1 569.5 743.2 632.9 811.4 632.9 767.3 442.7 787.1 646.5 758.3 619.3 823.3 619.3 766.4 524.2 755.6 483.5 788 456.3 776 497.1 750.2 510.7 795.8 469.9 798.7 637.4 800.8 528.8 811.1 460.8 791.4 528.8 818 632.9 818.1 551.4 820.5 447.3 754.2 537.8 755.6 438.2 783.2 560.5 816.4 492.5 823.1 632.9 747.2 438.2 760 587.6 836.1 646.5 772.1 528.8 793 497.1 741.4 433.7 756.6 542.4 846.4 551.4 799.2 596.7 811.2 628.4 800.7 587.6 796.9 542.4 773.2 651 758.5 642 771.9 546.9 786.9 537.8 788.9 569.5 745.6 596.7 815.4 551.4 745.2 460.8 767.9 483.5 766.5 596.7 777.7 546.9 783.7 583.1 777 442.7 809.7 560.5 798.1 555.9 786.5 524.2 753.6 460.8 804.5 542.4 760 537.8 818.4 469.9 741.7 587.6 766.2 628.4 809.8 469.9 760.1 551.4 770.3 533.3 786.8 492.5 760.6 474.4 784.9 542.4 769.8 506.1 742.1 592.2 814.6 460.8 832.8 528.8 765.5 578.6 794.1 646.5 823 447.3 797.9 451.8 787.2 451.8 796.2 510.7 802 456.3 775.5 546.9 791.3 483.5 804.6 460.8 766.3 601.2 766 569.5 773.7 628.4 806.5 442.7 800 469.9 813.1 555.9 787.9 623.9 795.1 637.4 829.7 569.5 744.7 651 747.7 555.9 784 533.3 771.4 555.9 766.5 546.9 784.1 542.4 819 546.9 807.5 510.7 775 574 813.1 642 792.8 583.1 815.4 642 798.6 560.5 794.9 474.4 786.8 474.4 822.3 560.5 792.3 506.1 766.9 637.4 800.7 583.1 753.7 488 787.7 560.5 837.5 488 785.1 632.9 810.1 560.5 765.9 537.8 802.3 460.8 813.9 551.4 753.7 546.9 783.8 528.8 770.9 438.2 781.4 623.9 757.8 506.1 742.3 515.2 745.7 610.3 802.6 528.8 801.3 565 749.4 614.8 788.6 610.3 761.5 447.3 756.1 469.9 807.8 433.7 773.1 619.3 795.1 442.7 760.6 451.8 819.4 542.4 811.6 560.5 755.4 451.8 758.5 623.9 797.9 528.8 796.9 515.2 809.7 524.2 814.1 614.8 805 497.1 836.9 637.4 753 497.1 788.6 451.8 746.7 537.8 816.9 519.7 761.1 524.2 739.7 515.2 794.4 451.8 749.8 642 778.4 542.4 777.6 492.5 731.9 469.9 777.7 555.9 815 488 822.7 614.8 757.3 551.4 803.6 610.3 805.4 605.7 764.3 533.3 831.1 596.7 800 456.3 778.2 474.4 757.1 596.7 840.1 479 738.8 651 779.5 646.5 741.7 583.1 773.2 569.5 800.3 528.8 780.4 460.8 759.9 623.9 779.3 542.4 823.2 438.2 740.5 560.5 787.1 646.5 748.8 587.6 757.7 592.2 782.1 632.9 840.5 542.4 769.7 515.2 775.3 488 803.6 442.7 803.6 438.2 797.3 497.1 771.1 483.5 741.6 583.1 772.8 537.8 746.6 528.8 749.4 610.3 770.7 488 745.3 537.8 827.2 587.6 823.4 474.4 796.2 479 723.3 592.2 798 447.3 830.2 451.8 763.1 460.8 783.7 438.2 755.4 551.4 788 465.4 734.9 646.5 792 542.4 772 614.8 768.2 560.5 816.5 447.3 836.6 610.3 802.4 465.4 830.6 601.2 744.8 474.4 762.1 551.4 788.5 596.7 754.1 614.8 800.4 483.5 761.2 510.7 739.4 628.4 800.1 610.3 803.4 528.8 773.5 501.6 760.8 578.6 805.3 537.8 749.1 560.5 791.3 555.9 818.9 447.3 759.5 456.3 813.5 456.3 740.7 642 764.3 592.2 774.1 442.7 780.7 596.7 803.2 479 769 469.9 772.9 469.9 792.1 465.4 784.3 438.2 772.4 651 815.5 488 774.1 497.1 785.7 632.9 792.6 565 809.8 637.4 786.8 605.7 770 488 774 578.6 808.9 605.7 768.4 447.3 807.8 492.5 746.8 592.2 744.9 651 837.2 438.2 821.1 574 810.1 488 779.8 542.4 770.3 623.9 741.8 560.5 793.3 533.3 800.7 632.9 781.1 501.6 744.9 587.6 790.1 546.9 773.7 565 765.7 537.8 739.2 488 769.6 451.8 773.5 565 828.2 497.1 777.4 560.5 740.9 515.2 831 533.3 739.9 614.8 769.5 555.9 800.3 447.3 788.6 474.4 810.2 555.9 748.7 497.1 792.4 601.2 770.5 592.2 814.6 587.6 818.7 501.6 758 519.7 759.8 465.4 803.9 583.1 793.5 456.3 765.8 605.7 789.1 632.9 791 474.4 759.8 578.6 782.2 433.7 820.3 497.1 763.2 537.8 793.5 483.5 757.1 474.4 806.2 605.7 819.6 460.8 788 646.5 759.3 592.2 755.3 551.4 797.7 596.7 833.5 619.3 796.2 601.2 823.9 542.4 842.8 460.8 817 501.6 818.6 451.8 756.2 646.5 809.3 546.9 778.6 551.4 787.1 465.4 775.8 610.3 775.1 524.2 770.4 506.1 788.1 479 782.3 610.3 751.6 551.4 805.7 623.9 807 565 750.2 551.4 755.5 460.8 788.4 628.4 774.3 610.3 795 614.8 760.5 510.7 796.4 601.2 815.7 483.5 816.3 474.4 821.6 492.5 782.4 447.3 809.3 610.3 748.2 619.3 783.3 515.2 738.1 560.5 762.3 479 800.5 569.5 780.8 533.3 744.2 592.2 792.5 542.4 769.6 619.3 792.8 456.3 739.7 488 790.6 614.8 744.4 632.9 752.3 533.3 806.6 555.9 756.7 510.7 813.2 542.4 800.8 555.9 823 646.5 770.7 592.2 794.4 433.7 823.8 451.8 759.5 497.1 776.6 479 799.5 569.5 805.8 497.1 732.7 546.9 810.7 524.2 783.7 474.4 765.3 651 765.9 546.9 808.9 537.8 824.6 479 800.1 438.2 805.6 551.4 787.1 519.7 779.2 637.4 806.9 542.4 805.8 583.1 795.6 596.7 814 546.9 771 583.1 807.2 460.8 757.9 646.5 746.4 533.3 768.3 524.2 814.8 565 740.9 565 750.7 605.7 773.6 646.5 780.5 497.1 736 537.8 767.8 642 810.7 605.7 791.1 560.5 814 510.7 751.3 555.9 774.8 474.4 786.5 519.7 799 501.6 749.7 488 775.1 501.6 796 451.8 752.1 447.3 806.4 578.6 789.7 614.8 795.8 560.5 757.3 515.2 778.1 524.2 811.5 642 786.5 438.2 764.4 433.7 814.3 596.7 785.7 469.9 755.8 610.3 752.8 628.4 747.3 456.3 770.9 542.4 744.4 442.7 815.5 469.9 776.5 551.4 806.9 488 818.1 519.7 778 524.2 777.3 578.6 767.7 574 737.6 596.7 753.3 438.2 759.1 451.8 777.8 642 786.1 628.4 830.4 442.7 771.4 623.9 817.1 460.8 830.7 519.7 808.7 605.7 784.2 569.5 803.6 560.5 822.2 632.9 803.2 637.4 794.2 555.9 765.9 646.5 741.8 574 758.1 546.9 819.3 614.8 807.1 474.4 810.6 578.6 793.5 551.4 791.2 551.4 743.8 619.3 811.2 623.9 794.5 506.1 768.6 596.7 783.4 542.4 776.8 623.9 795.3 605.7 833.7 610.3 755.5 542.4 719.2 632.9 754.5 474.4 840.5 560.5 818.4 451.8 816.6 533.3 796 537.8 750.7 488 741.6 605.7 757.9 533.3 777 542.4 770.8 474.4 814.6 483.5 741.2 583.1 751.5 433.7 773.3 551.4 808.7 592.2 829.2 578.6 805.7 456.3 790.7 574 833.4 546.9 758.8 510.7 761.1 456.3 803.6 438.2 769.1 642 791.4 574 744.7 479 759.1 637.4 751.4 596.7 823.5 469.9 762.9 501.6 801.9 546.9 748.7 537.8 827.5 456.3 819.7 619.3 778.6 528.8 813.4 565 799.8 533.3 782.6 451.8 780.6 483.5 757.5 524.2 791.9 601.2 749.8 433.7 824.4 578.6 795.1 546.9 781.1 465.4 766.4 438.2 744.4 614.8 790.7 492.5 803 646.5 764.1 651 801.8 555.9 827.3 565 788.9 578.6 805 610.3 823 524.2 779.9 492.5 797 555.9 782.9 583.1 775.8 451.8 739.7 623.9 746.6 442.7 768.4 551.4 805.9 537.8 743 551.4 742.5 637.4 748.5 632.9 758.4 519.7 755.4 632.9 820.8 560.5 786.8 506.1 784.4 583.1 763.5 601.2 766.8 542.4 779.2 628.4 789.6 460.8 802.6 637.4 810.3 528.8 777.2 614.8 764.3 542.4 757.6 646.5 762.1 551.4 794.3 483.5 789.8 515.2 766.3 447.3 745.2 483.5 769.3 628.4 763.8 560.5 818.3 528.8 802 601.2 777.9 537.8 737.5 560.5 744.6 456.3 767.6 460.8 791.1 510.7 799.9 551.4 769.1 442.7 743.1 528.8 743.9 651 798.1 497.1 761.3 628.4 790.3 651 752.5 438.2 794.2 592.2 816.1 460.8 774.1 537.8 789.5 569.5 826.4 651 804.5 528.8 750.8 533.3 815.8 637.4 809.5 578.6 801.5 524.2 807.1 501.6 761.6 433.7 775.6 533.3 803 632.9 828.1 574 748.4 619.3 788 551.4 757 438.2 793.4 555.9 793.1 542.4 728.8 610.3 768.5 623.9 740.9 488 767.4 596.7 798.5 447.3 789.6 492.5 742.1 506.1 821 651 817.6 587.6 812.6 519.7 811.8 646.5 754.9 546.9 789.3 596.7 750.9 646.5 812 651 770.9 492.5 773.5 460.8 799.8 610.3 751.7 528.8 812.7 492.5 778.8 442.7 805.1 438.2 792.3 542.4 749.2 451.8 772.5 542.4 896.7 438.2 758.9 488 808 447.3 755.5 447.3 763.4 506.1 780.1 469.9 797 447.3 807 479 760.4 619.3 778.5 565 832.5 637.4 779.8 506.1 753.5 515.2 751.5 456.3 813.6 619.3 762.2 542.4 754.9 456.3 788 515.2 774.1 592.2 759 479 809.4 497.1 765 542.4 827.2 619.3 786.3 510.7 764.4 628.4 763.3 569.5 808.9 469.9 805.8 565 737.9 542.4 853.6 497.1 749.3 474.4 745 601.2 796.7 542.4 794.7 451.8 757.5 642 736.7 628.4 764.2 546.9 784.4 551.4 803.1 596.7 774 515.2 801.1 623.9 805.7 610.3 746.3 483.5 799 506.1 769.4 646.5 762.8 546.9 818.7 605.7 750.6 469.9 751.7 642 770.7 515.2 772.7 524.2 792.1 542.4 836.8 546.9 781.8 451.8 820.6 433.7 774.6 637.4 837.8 601.2 798.9 474.4 754.2 637.4 762.7 546.9 740.6 592.2 775.8 555.9 783.4 646.5 813.9 628.4 817.8 642 803.8 456.3 777.9 614.8 799.3 628.4 754.9 460.8 768.1 456.3 788.3 537.8 817.8 533.3 758.2 488 783.9 619.3 789.1 551.4 746 628.4 746.8 537.8 777.3 542.4 810.4 542.4 778 601.2 822.3 456.3 838.1 587.6 818 619.3 809.8 560.5 778.1 614.8 770.5 587.6 745.2 555.9 753.6 456.3 769.6 651 740.2 574 793.1 497.1 821.9 460.8 803.2 528.8 757.8 560.5 816.3 583.1 755.9 483.5 757.3 542.4 899.3 515.2 790.2 524.2 824.2 510.7 782.1 497.1 743.4 492.5 793.4 456.3 767 646.5 789 614.8 785 569.5 808.9 537.8 766.4 546.9 740.8 555.9 743.5 574 773.5 488 752.5 565 748.1 578.6 742.2 578.6 822.9 583.1 804 623.9 751.2 524.2 752.8 605.7 759.5 619.3 774.4 646.5 813.6 614.8 803.6 587.6 781.5 483.5 760.3 569.5 786.9 601.2 744.9 623.9 743 574 781.8 497.1 810.3 438.2 825.2 488 744.7 646.5 759.3 587.6 783.1 642 811.8 637.4 764.2 510.7 796.6 592.2 809.7 465.4 817.6 488 762.6 592.2 798.8 501.6 821.3 578.6 827.3 492.5 772.9 651 824.6 569.5 745.5 619.3 745.4 465.4 756.9 488 815.6 524.2 793.3 637.4 810.7 601.2 809.7 492.5 757.3 646.5 799.7 565 814.7 506.1 820.1 605.7 746.2 469.9 760 479 762.2 497.1 801 542.4 766 506.1 755.9 474.4 741.1 456.3 759.7 537.8 808.8 483.5 828.3 623.9 771.3 519.7 773.3 574 752.6 515.2 784.3 651 781.6 623.9 766.9 497.1 800.1 642 770.3 438.2 807.6 578.6 758.8 596.7 780.9 537.8 752.5 442.7 755.5 646.5 811.7 574 734.1 438.2 751.1 569.5 805.2 601.2 765.9 456.3 755.4 492.5 832.9 497.1 745.9 533.3 778.1 501.6 791.3 619.3 779.3 587.6 774.3 592.2 806.8 528.8 809 510.7 747.8 537.8 748 451.8 768.2 642 760.7 610.3 800.2 519.7 748.6 533.3 759.1 438.2 804.8 497.1 768.9 646.5 746 497.1 771.9 610.3 804.9 456.3 830.1 510.7 760 578.6 746.4 474.4 820.9 637.4 793.4 497.1 795.7 574 757.4 433.7 766.9 510.7 730.8 583.1 824.3 651 809.3 492.5 817.1 551.4 755.6 515.2 772.7 506.1 761.2 610.3 782.6 560.5 788.3 610.3 781.3 646.5 798 506.1 773.9 465.4 836.8 587.6 783.5 642 769.8 524.2 747.3 614.8 804.9 474.4 823.1 519.7 759.5 533.3 779 565 756.9 560.5 810.1 546.9 804.2 433.7 791.8 524.2 759.7 596.7 809.2 465.4 788.3 515.2 787 632.9 786.3 501.6 728.8 623.9 798.1 451.8 837.8 519.7 762.2 601.2 755.9 623.9 817.4 574 775.1 456.3 768.1 596.7 821.5 587.6 747.2 628.4 793.5 510.7 747.5 542.4 715.6 488 775.1 574 828.2 646.5 823.1 524.2 815.1 497.1 792.3 546.9 772.6 438.2 752.2 506.1 819.4 488 803.7 442.7 814.3 474.4 746 438.2 808.6 469.9 818.5 465.4 790.3 492.5 820.6 646.5 798.4 451.8 797.2 623.9 764.8 542.4 858.1 524.2 820.6 501.6 741.5 510.7 837.8 596.7 819.9 642 791.2 574 812.9 642 782.8 623.9 806.1 492.5 764.7 583.1 747 605.7 831.4 501.6 812.1 578.6 779.5 619.3 746 492.5 756.4 651 793.3 646.5 758.8 506.1 764.3 492.5 782.6 605.7 823.5 488 754.5 492.5 733.5 533.3 818.3 524.2 736.8 447.3 794.9 574 795.9 524.2 787.7 447.3 744.6 578.6 814.6 456.3 787.5 560.5 754 488 818 542.4 763.6 565 783.5 569.5 821 619.3 779.3 632.9 814.3 519.7 759 642 792 555.9 743.7 433.7 782.9 542.4 802 433.7 813.7 623.9 773.8 497.1 779.6 442.7 757.8 646.5 790.2 555.9 809.7 488 792.6 546.9 803.7 587.6 755.1 528.8 798.4 488 836.5 465.4 780.1 610.3 817.6 447.3 741.6 469.9 752.6 601.2 751.3 560.5 767.3 474.4 739.5 637.4 782.9 447.3 756.8 542.4 767.3 442.7 813.8 460.8 748.5 628.4 820.2 515.2 747 533.3 810.5 533.3 787.6 537.8 747.6 433.7 800.3 474.4 765.2 524.2 784.8 651 810 632.9 760.9 456.3 741.9 610.3 765.8 565 793.9 642 791 592.2 758.8 438.2 766.1 465.4 785.5 642 793.7 546.9 742.5 474.4 817.8 497.1 827.3 510.7 767.5 451.8 757.9 578.6 760.1 469.9 772.8 447.3 798.5 646.5 743.4 642 758.6 646.5 809.9 642 823.4 474.4 759.6 501.6 755.8 510.7 798.9 492.5 762.3 632.9 775.3 460.8 805.3 565 763.3 587.6 798.2 510.7 747.9 497.1 739.1 587.6 788.6 565 772 483.5 771.4 610.3 744.9 460.8 751.6 497.1 811.9 632.9 753.1 623.9 826.6 587.6 755.5 533.3 792.5 456.3 804.1 528.8 776.3 546.9 797.4 469.9 807.3 469.9 774.3 614.8 745.2 519.7 805.6 451.8 765.2 533.3 787 646.5 834 601.2 796 642 813.7 583.1 821.2 474.4 783.1 497.1 806.8 542.4 718 565 746.3 433.7 819.5 551.4 766.3 651 804.8 642 780.7 587.6 805.8 474.4 788.8 642 820.5 637.4 788.9 637.4 774.3 501.6 755.8 610.3 739.3 560.5 782.5 614.8 755.1 510.7 738 456.3 807.2 474.4 818.7 614.8 768.5 528.8 765.1 433.7 807.5 583.1 745.3 469.9 741.2 483.5 803.4 447.3 828 483.5 771.6 497.1 752.2 474.4 810.3 623.9 743.1 601.2 738.6 587.6 778.1 451.8 810.6 451.8 804.1 560.5 750.2 587.6 798.4 506.1 812.9 546.9 741.5 488 787.9 546.9 768.5 488 742.2 651 741.9 560.5 756.5 555.9 737.8 551.4 792.1 551.4 806.8 542.4 754.1 510.7 783 642 752.5 501.6 744.1 524.2 766.3 506.1 798.1 596.7 778.7 528.8 818.5 546.9 802.9 524.2 808.3 510.7 786.4 474.4 785.5 605.7 795.3 578.6 826.8 542.4 729.9 438.2 786.8 565 789.5 465.4 774.5 583.1 754.3 637.4 740.2 433.7 764.3 596.7 798.4 555.9 776 542.4 838 560.5 766.3 497.1 758.1 506.1 765.4 488 752 433.7 767.8 596.7 790.7 560.5 787.2 542.4 736 542.4 747 632.9 772 465.4 740 555.9 783.7 578.6 821.7 560.5 840.3 438.2 739.7 551.4 801.6 460.8 813 483.5 770.5 542.4 754.3 442.7 821 574 773.5 510.7 814.4 537.8 788.8 479 762.8 447.3 817 623.9 810.2 651 792.9 592.2 782.8 501.6 770.3 492.5 737.1 555.9 819.8 483.5 815.5 642 767.5 524.2 778 610.3 779.3 447.3 751.8 442.7 796.2 515.2 780 483.5 812.7 510.7 781.2 587.6 809.7 574 738.3 533.3 777.1 596.7 785.1 555.9 769.8 587.6 759 542.4 752.8 451.8 751.6 542.4 737.2 537.8 761.3 510.7 790.6 528.8 804.6 601.2 779.7 574 809.8 542.4 739.5 501.6 760.2 506.1 787.9 537.8 763 438.2 779.4 483.5 766.4 569.5 756.8 610.3 757.1 583.1 808.8 583.1 795.8 546.9 738 560.5 818.5 506.1 746.1 533.3 749.7 447.3 746.2 465.4 804.7 601.2 803 542.4 731.2 623.9 769.3 632.9 730.7 546.9 762.3 646.5 784.3 605.7 774.7 501.6 747.4 519.7 798.5 528.8 788.1 524.2 764.9 442.7 774.1 447.3 822.1 488 770.5 651 797.5 451.8 748.2 623.9 755.6 605.7 818.6 628.4 756.4 651 750.7 555.9 831.3 578.6 810.6 537.8 769.7 497.1 810.8 623.9 757.7 605.7 811.5 610.3 756.2 587.6 765.5 542.4 701.2 433.7 822.3 555.9 796.6 501.6 767.3 546.9 749.5 592.2 794.1 574 823.1 533.3 817 537.8 818.9 651 747 565 806.3 537.8 822.8 483.5 787 537.8 808.1 442.7 782.2 565 756.1 433.7 745.3 442.7 778.8 632.9 812.6 483.5 817.2 456.3 812.9 551.4 816.6 501.6 776.1 587.6 829.6 497.1 780.7 501.6 813 619.3 747.5 506.1 801.3 447.3 787.5 465.4 766.4 460.8 816.4 497.1 748.7 469.9 817 637.4 754.7 587.6 779.3 451.8 790.3 555.9 819.6 542.4 766.3 533.3 761.8 524.2 803 497.1 769.5 619.3 751.6 587.6 778.9 492.5 758.6 619.3 801.4 524.2 742.8 623.9 807.2 619.3 778.1 515.2 772.3 628.4 762.3 497.1 786.7 651 747.9 488 734.2 501.6 813.8 447.3 760.3 456.3 810.4 555.9 783.8 528.8 759.1 605.7 806.2 433.7 781.8 447.3 821 474.4 763.3 515.2 764.3 497.1 752.6 438.2 771 537.8 793.2 651 753.5 646.5 807.8 542.4 819.2 451.8 806.1 515.2 789.2 492.5 718.7 524.2 817.5 542.4 841.6 637.4 821.6 524.2 800.8 596.7 760.7 537.8 776.6 610.3 772.6 565 775.6 479 772.7 542.4 748.5 542.4 787.5 469.9 766.3 497.1 748.3 614.8 764.2 533.3 733.5 497.1 814.2 497.1 791.9 524.2 778.3 610.3 746 438.2 792.8 551.4 817.9 569.5 786.6 651 751.4 497.1 800.4 528.8 768.3 578.6 782.6 479 789.3 605.7 822.8 555.9 792.4 465.4 741.1 447.3 768.5 533.3 807.7 651 812 551.4 785.5 519.7 818.1 596.7 824.1 497.1 752.5 565 785.2 542.4 809.3 542.4 739.9 460.8 811.3 515.2 810.3 560.5 759.1 578.6 755.1 569.5 826.1 492.5 786.3 642 793.6 465.4 801.9 488 801.7 623.9 760.1 619.3 817.9 646.5 774.3 451.8 778.1 501.6 772.6 460.8 785.8 497.1 798.9 533.3 783.6 497.1 782.7 460.8 762.6 483.5 741.1 497.1 753.4 497.1 765.8 583.1 749.5 533.3 745.9 442.7 810.6 488 815.5 592.2 810.7 528.8 798.1 506.1 735.8 537.8 746.7 542.4 788.8 632.9 765.4 488 796.9 623.9 751.9 605.7 812.4 642 777.8 524.2 775.6 451.8 815.1 592.2 761.7 460.8 754.2 546.9 777.5 560.5 763.1 542.4 775.6 628.4 781.2 651 769.1 438.2 739.4 492.5 745.5 483.5 798.6 524.2 815.5 578.6 797.2 551.4 755.5 506.1 813.9 592.2 741.4 555.9 822.8 555.9 754.3 565 747.1 574 748.3 451.8 747.9 524.2 798.1 565 834.5 497.1 766.6 574 806.9 542.4 836.8 646.5 799.5 610.3 788.3 542.4 767.3 569.5 811.5 542.4 749.9 528.8 789.5 492.5 827.2 651 764.3 623.9 736.2 623.9 799.6 442.7 772.1 555.9 803.4 542.4 749.4 592.2 748.2 587.6 749.2 479 739.7 456.3 797.2 574 748.3 565 736.3 578.6 797.4 451.8 744.5 451.8 809.2 605.7 771.4 623.9 798.2 610.3 743.3 497.1 759.1 578.6 764.9 451.8 831.8 515.2 792.2 528.8 786.5 596.7 835.8 637.4 768.4 614.8 788.6 433.7 760 605.7 789.5 605.7 801.7 642 805 574 810 578.6 766.7 442.7 745.6 537.8 816.6 565 825.2 565 746.3 510.7 777.3 451.8 777.7 542.4 832 542.4 822.4 515.2 780.8 438.2 778.4 519.7 743 578.6 794 474.4 819.7 555.9 746 469.9 763.6 560.5 795.9 492.5 739.1 501.6 766.9 610.3 744.1 646.5 805.5 438.2 815.3 442.7 768.5 555.9 841.6 610.3 785.6 479 805.7 574 757.2 519.7 806.7 578.6 786.8 483.5 823.3 555.9 781.1 605.7 819.6 542.4 781.7 456.3 758 583.1 751.9 488 867.4 519.7 782.7 433.7 772.5 488 762.7 587.6 736.2 474.4 741.7 524.2 768.6 623.9 811.3 519.7 768.6 542.4 708.4 587.6 829.6 583.1 830.1 456.3 797.6 646.5 822.8 619.3 763.6 560.5 761.4 510.7 778.5 610.3 801.2 614.8 765 542.4 784 560.5 784.1 578.6 811.8 578.6 804.4 628.4 803.5 524.2 762.8 546.9 744 596.7 766.6 596.7 811.9 533.3 762.2 447.3 826.1 465.4 812.5 642 777.6 542.4 732.4 438.2 767 587.6 755.3 605.7 829.9 587.6 818.6 447.3 744.3 510.7 751.9 646.5 764.6 614.8 791.5 524.2 756.3 605.7 745.3 451.8 809.1 619.3 822.5 619.3 779.1 551.4 801.9 592.2 745.6 623.9 815.5 542.4 806.8 528.8 807.5 632.9 778.2 528.8 788.9 632.9 764.7 542.4 726.4 488 810.1 433.7 818.8 524.2 777.9 587.6 780.8 555.9 745.4 587.6 803.7 583.1 769.5 619.3 752.5 632.9 766 510.7 807.6 510.7 775.5 479 807.5 433.7 771.2 601.2 811.8 632.9 800.5 619.3 822.1 510.7 767.4 565 785.5 515.2 807.2" fill="none" stroke="none" marker-start="url(#m)" marker-mid="url(#m)" marker-end="url(#m)"/>
<text transform="translate(406.5 919.4)" text-anchor="middle" font-size="10.2">4.5</text>
<text transform="translate(451.8 919.4)" text-anchor="middle" font-size="10.2">4.6</text>
<text transform="translate(497.1 919.4)" text-anchor="middle" font-size="10.2">4.7</text>
<text transform="translate(542.4 919.4)" text-anchor="middle" font-size="10.2">4.8</text>
<text transform="translate(587.6 919.4)" text-anchor="middle" font-size="10.2">4.9</text>
<text transform="translate(632.9 919.4)" text-anchor="middle" font-size="10.2">5</text>
<text transform="translate(678.2 919.4)" text-anchor="middle" font-size="10.2">5.1</text>
<text transform="translate(402.3 908.9)" text-anchor="end" font-size="10.2">4.6</text>
<text transform="translate(402.3 879.3)" text-anchor="end" font-size="10.2">4.65</text>
<text transform="translate(402.3 849.8)" text-anchor="end" font-size="10.2">4.7</text>
<text transform="translate(402.3 820.3)" text-anchor="end" font-size="10.2">4.75</text>
<text transform="translate(402.3 790.9)" text-anchor="end" font-size="10.2">4.8</text>
<text transform="translate(402.3 761.4)" text-anchor="end" font-size="10.2">4.85</text>
<text transform="translate(402.3 731.8)" text-anchor="end" font-size="10.2">4.9</text>
<text transform="translate(402.3 702.4)" text-anchor="end" font-size="10.2">4.95</text>
<text transform="translate(542 933.2) scale(1.065 1)" text-anchor="middle" font-size="11.0">Actual refractive index, n</text>
<text transform="translate(377.4 801.4) rotate(-90)" text-anchor="middle" font-size="11.048461538461538">Predicted refractive index, n</text>
<text class="cap" transform="translate(536.1 953.4)" text-anchor="middle" font-size="19.3">(e)</text>
</svg></body></html>
